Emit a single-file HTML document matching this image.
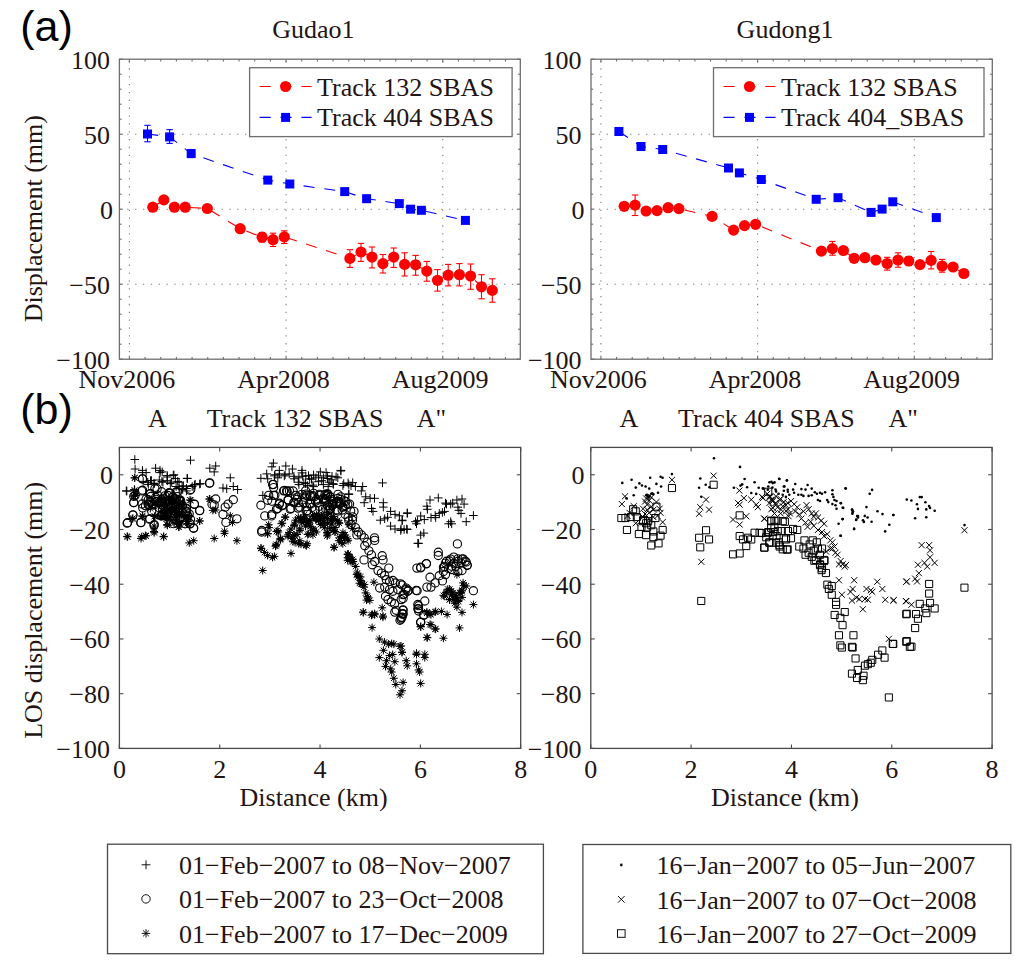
<!DOCTYPE html>
<html><head><meta charset="utf-8"><title>Figure</title>
<style>html,body{margin:0;padding:0;background:#fff;overflow:hidden;}svg{display:block;}</style>
</head><body>
<svg width="1024" height="967" viewBox="0 0 1024 967"><rect width="1024" height="967" fill="#fff"/><line x1="129.40" y1="359.20" x2="129.40" y2="59.20" stroke="#808080" stroke-width="1.1" stroke-dasharray="1.3 6.55" stroke-dashoffset="0.9"/><line x1="286.08" y1="359.20" x2="286.08" y2="59.20" stroke="#808080" stroke-width="1.1" stroke-dasharray="1.3 6.55" stroke-dashoffset="0.9"/><line x1="442.76" y1="359.20" x2="442.76" y2="59.20" stroke="#808080" stroke-width="1.1" stroke-dasharray="1.3 6.55" stroke-dashoffset="0.9"/><line x1="119.40" y1="134.20" x2="520.30" y2="134.20" stroke="#808080" stroke-width="1.1" stroke-dasharray="1.3 6.55"/><line x1="119.40" y1="209.20" x2="520.30" y2="209.20" stroke="#808080" stroke-width="1.1" stroke-dasharray="1.3 6.55"/><line x1="119.40" y1="284.20" x2="520.30" y2="284.20" stroke="#808080" stroke-width="1.1" stroke-dasharray="1.3 6.55"/><line x1="129.40" y1="59.20" x2="129.40" y2="62.70" stroke="#6e6e6e" stroke-width="1.1"/><line x1="129.40" y1="359.20" x2="129.40" y2="355.70" stroke="#6e6e6e" stroke-width="1.1"/><line x1="145.07" y1="59.20" x2="145.07" y2="61.40" stroke="#6e6e6e" stroke-width="1.1"/><line x1="145.07" y1="359.20" x2="145.07" y2="357.00" stroke="#6e6e6e" stroke-width="1.1"/><line x1="160.74" y1="59.20" x2="160.74" y2="61.40" stroke="#6e6e6e" stroke-width="1.1"/><line x1="160.74" y1="359.20" x2="160.74" y2="357.00" stroke="#6e6e6e" stroke-width="1.1"/><line x1="176.40" y1="59.20" x2="176.40" y2="61.40" stroke="#6e6e6e" stroke-width="1.1"/><line x1="176.40" y1="359.20" x2="176.40" y2="357.00" stroke="#6e6e6e" stroke-width="1.1"/><line x1="192.07" y1="59.20" x2="192.07" y2="61.40" stroke="#6e6e6e" stroke-width="1.1"/><line x1="192.07" y1="359.20" x2="192.07" y2="357.00" stroke="#6e6e6e" stroke-width="1.1"/><line x1="207.74" y1="59.20" x2="207.74" y2="61.40" stroke="#6e6e6e" stroke-width="1.1"/><line x1="207.74" y1="359.20" x2="207.74" y2="357.00" stroke="#6e6e6e" stroke-width="1.1"/><line x1="223.41" y1="59.20" x2="223.41" y2="61.40" stroke="#6e6e6e" stroke-width="1.1"/><line x1="223.41" y1="359.20" x2="223.41" y2="357.00" stroke="#6e6e6e" stroke-width="1.1"/><line x1="239.08" y1="59.20" x2="239.08" y2="61.40" stroke="#6e6e6e" stroke-width="1.1"/><line x1="239.08" y1="359.20" x2="239.08" y2="357.00" stroke="#6e6e6e" stroke-width="1.1"/><line x1="254.74" y1="59.20" x2="254.74" y2="61.40" stroke="#6e6e6e" stroke-width="1.1"/><line x1="254.74" y1="359.20" x2="254.74" y2="357.00" stroke="#6e6e6e" stroke-width="1.1"/><line x1="270.41" y1="59.20" x2="270.41" y2="61.40" stroke="#6e6e6e" stroke-width="1.1"/><line x1="270.41" y1="359.20" x2="270.41" y2="357.00" stroke="#6e6e6e" stroke-width="1.1"/><line x1="286.08" y1="59.20" x2="286.08" y2="62.70" stroke="#6e6e6e" stroke-width="1.1"/><line x1="286.08" y1="359.20" x2="286.08" y2="355.70" stroke="#6e6e6e" stroke-width="1.1"/><line x1="301.75" y1="59.20" x2="301.75" y2="61.40" stroke="#6e6e6e" stroke-width="1.1"/><line x1="301.75" y1="359.20" x2="301.75" y2="357.00" stroke="#6e6e6e" stroke-width="1.1"/><line x1="317.42" y1="59.20" x2="317.42" y2="61.40" stroke="#6e6e6e" stroke-width="1.1"/><line x1="317.42" y1="359.20" x2="317.42" y2="357.00" stroke="#6e6e6e" stroke-width="1.1"/><line x1="333.08" y1="59.20" x2="333.08" y2="61.40" stroke="#6e6e6e" stroke-width="1.1"/><line x1="333.08" y1="359.20" x2="333.08" y2="357.00" stroke="#6e6e6e" stroke-width="1.1"/><line x1="348.75" y1="59.20" x2="348.75" y2="61.40" stroke="#6e6e6e" stroke-width="1.1"/><line x1="348.75" y1="359.20" x2="348.75" y2="357.00" stroke="#6e6e6e" stroke-width="1.1"/><line x1="364.42" y1="59.20" x2="364.42" y2="61.40" stroke="#6e6e6e" stroke-width="1.1"/><line x1="364.42" y1="359.20" x2="364.42" y2="357.00" stroke="#6e6e6e" stroke-width="1.1"/><line x1="380.09" y1="59.20" x2="380.09" y2="61.40" stroke="#6e6e6e" stroke-width="1.1"/><line x1="380.09" y1="359.20" x2="380.09" y2="357.00" stroke="#6e6e6e" stroke-width="1.1"/><line x1="395.76" y1="59.20" x2="395.76" y2="61.40" stroke="#6e6e6e" stroke-width="1.1"/><line x1="395.76" y1="359.20" x2="395.76" y2="357.00" stroke="#6e6e6e" stroke-width="1.1"/><line x1="411.42" y1="59.20" x2="411.42" y2="61.40" stroke="#6e6e6e" stroke-width="1.1"/><line x1="411.42" y1="359.20" x2="411.42" y2="357.00" stroke="#6e6e6e" stroke-width="1.1"/><line x1="427.09" y1="59.20" x2="427.09" y2="61.40" stroke="#6e6e6e" stroke-width="1.1"/><line x1="427.09" y1="359.20" x2="427.09" y2="357.00" stroke="#6e6e6e" stroke-width="1.1"/><line x1="442.76" y1="59.20" x2="442.76" y2="62.70" stroke="#6e6e6e" stroke-width="1.1"/><line x1="442.76" y1="359.20" x2="442.76" y2="355.70" stroke="#6e6e6e" stroke-width="1.1"/><line x1="458.43" y1="59.20" x2="458.43" y2="61.40" stroke="#6e6e6e" stroke-width="1.1"/><line x1="458.43" y1="359.20" x2="458.43" y2="357.00" stroke="#6e6e6e" stroke-width="1.1"/><line x1="474.10" y1="59.20" x2="474.10" y2="61.40" stroke="#6e6e6e" stroke-width="1.1"/><line x1="474.10" y1="359.20" x2="474.10" y2="357.00" stroke="#6e6e6e" stroke-width="1.1"/><line x1="489.76" y1="59.20" x2="489.76" y2="61.40" stroke="#6e6e6e" stroke-width="1.1"/><line x1="489.76" y1="359.20" x2="489.76" y2="357.00" stroke="#6e6e6e" stroke-width="1.1"/><line x1="505.43" y1="59.20" x2="505.43" y2="61.40" stroke="#6e6e6e" stroke-width="1.1"/><line x1="505.43" y1="359.20" x2="505.43" y2="357.00" stroke="#6e6e6e" stroke-width="1.1"/><line x1="119.40" y1="59.20" x2="122.90" y2="59.20" stroke="#6e6e6e" stroke-width="1.1"/><line x1="520.30" y1="59.20" x2="516.80" y2="59.20" stroke="#6e6e6e" stroke-width="1.1"/><line x1="119.40" y1="74.20" x2="121.60" y2="74.20" stroke="#6e6e6e" stroke-width="1.1"/><line x1="520.30" y1="74.20" x2="518.10" y2="74.20" stroke="#6e6e6e" stroke-width="1.1"/><line x1="119.40" y1="89.20" x2="121.60" y2="89.20" stroke="#6e6e6e" stroke-width="1.1"/><line x1="520.30" y1="89.20" x2="518.10" y2="89.20" stroke="#6e6e6e" stroke-width="1.1"/><line x1="119.40" y1="104.20" x2="121.60" y2="104.20" stroke="#6e6e6e" stroke-width="1.1"/><line x1="520.30" y1="104.20" x2="518.10" y2="104.20" stroke="#6e6e6e" stroke-width="1.1"/><line x1="119.40" y1="119.20" x2="121.60" y2="119.20" stroke="#6e6e6e" stroke-width="1.1"/><line x1="520.30" y1="119.20" x2="518.10" y2="119.20" stroke="#6e6e6e" stroke-width="1.1"/><line x1="119.40" y1="134.20" x2="122.90" y2="134.20" stroke="#6e6e6e" stroke-width="1.1"/><line x1="520.30" y1="134.20" x2="516.80" y2="134.20" stroke="#6e6e6e" stroke-width="1.1"/><line x1="119.40" y1="149.20" x2="121.60" y2="149.20" stroke="#6e6e6e" stroke-width="1.1"/><line x1="520.30" y1="149.20" x2="518.10" y2="149.20" stroke="#6e6e6e" stroke-width="1.1"/><line x1="119.40" y1="164.20" x2="121.60" y2="164.20" stroke="#6e6e6e" stroke-width="1.1"/><line x1="520.30" y1="164.20" x2="518.10" y2="164.20" stroke="#6e6e6e" stroke-width="1.1"/><line x1="119.40" y1="179.20" x2="121.60" y2="179.20" stroke="#6e6e6e" stroke-width="1.1"/><line x1="520.30" y1="179.20" x2="518.10" y2="179.20" stroke="#6e6e6e" stroke-width="1.1"/><line x1="119.40" y1="194.20" x2="121.60" y2="194.20" stroke="#6e6e6e" stroke-width="1.1"/><line x1="520.30" y1="194.20" x2="518.10" y2="194.20" stroke="#6e6e6e" stroke-width="1.1"/><line x1="119.40" y1="209.20" x2="122.90" y2="209.20" stroke="#6e6e6e" stroke-width="1.1"/><line x1="520.30" y1="209.20" x2="516.80" y2="209.20" stroke="#6e6e6e" stroke-width="1.1"/><line x1="119.40" y1="224.20" x2="121.60" y2="224.20" stroke="#6e6e6e" stroke-width="1.1"/><line x1="520.30" y1="224.20" x2="518.10" y2="224.20" stroke="#6e6e6e" stroke-width="1.1"/><line x1="119.40" y1="239.20" x2="121.60" y2="239.20" stroke="#6e6e6e" stroke-width="1.1"/><line x1="520.30" y1="239.20" x2="518.10" y2="239.20" stroke="#6e6e6e" stroke-width="1.1"/><line x1="119.40" y1="254.20" x2="121.60" y2="254.20" stroke="#6e6e6e" stroke-width="1.1"/><line x1="520.30" y1="254.20" x2="518.10" y2="254.20" stroke="#6e6e6e" stroke-width="1.1"/><line x1="119.40" y1="269.20" x2="121.60" y2="269.20" stroke="#6e6e6e" stroke-width="1.1"/><line x1="520.30" y1="269.20" x2="518.10" y2="269.20" stroke="#6e6e6e" stroke-width="1.1"/><line x1="119.40" y1="284.20" x2="122.90" y2="284.20" stroke="#6e6e6e" stroke-width="1.1"/><line x1="520.30" y1="284.20" x2="516.80" y2="284.20" stroke="#6e6e6e" stroke-width="1.1"/><line x1="119.40" y1="299.20" x2="121.60" y2="299.20" stroke="#6e6e6e" stroke-width="1.1"/><line x1="520.30" y1="299.20" x2="518.10" y2="299.20" stroke="#6e6e6e" stroke-width="1.1"/><line x1="119.40" y1="314.20" x2="121.60" y2="314.20" stroke="#6e6e6e" stroke-width="1.1"/><line x1="520.30" y1="314.20" x2="518.10" y2="314.20" stroke="#6e6e6e" stroke-width="1.1"/><line x1="119.40" y1="329.20" x2="121.60" y2="329.20" stroke="#6e6e6e" stroke-width="1.1"/><line x1="520.30" y1="329.20" x2="518.10" y2="329.20" stroke="#6e6e6e" stroke-width="1.1"/><line x1="119.40" y1="344.20" x2="121.60" y2="344.20" stroke="#6e6e6e" stroke-width="1.1"/><line x1="520.30" y1="344.20" x2="518.10" y2="344.20" stroke="#6e6e6e" stroke-width="1.1"/><line x1="119.40" y1="359.20" x2="122.90" y2="359.20" stroke="#6e6e6e" stroke-width="1.1"/><line x1="520.30" y1="359.20" x2="516.80" y2="359.20" stroke="#6e6e6e" stroke-width="1.1"/><rect x="119.40" y="59.20" width="400.90" height="300.00" fill="none" stroke="#6e6e6e" stroke-width="1.3"/><text x="110.00" y="68.50" font-size="26" font-family="'Liberation Serif', serif" fill="#231414" text-anchor="end" >100</text><text x="110.00" y="143.50" font-size="26" font-family="'Liberation Serif', serif" fill="#231414" text-anchor="end" >50</text><text x="113.00" y="218.50" font-size="26" font-family="'Liberation Serif', serif" fill="#231414" text-anchor="end" >0</text><text x="110.00" y="293.50" font-size="26" font-family="'Liberation Serif', serif" fill="#231414" text-anchor="end" >&#8722;50</text><text x="110.00" y="368.50" font-size="26" font-family="'Liberation Serif', serif" fill="#231414" text-anchor="end" >&#8722;100</text><text x="126.80" y="388.40" font-size="26" font-family="'Liberation Serif', serif" fill="#231414" text-anchor="middle" >Nov2006</text><text x="283.48" y="388.40" font-size="26" font-family="'Liberation Serif', serif" fill="#231414" text-anchor="middle" >Apr2008</text><text x="440.16" y="388.40" font-size="26" font-family="'Liberation Serif', serif" fill="#231414" text-anchor="middle" >Aug2009</text><line x1="600.90" y1="359.20" x2="600.90" y2="59.20" stroke="#808080" stroke-width="1.1" stroke-dasharray="1.3 6.55" stroke-dashoffset="0.9"/><line x1="757.58" y1="359.20" x2="757.58" y2="59.20" stroke="#808080" stroke-width="1.1" stroke-dasharray="1.3 6.55" stroke-dashoffset="0.9"/><line x1="914.26" y1="359.20" x2="914.26" y2="59.20" stroke="#808080" stroke-width="1.1" stroke-dasharray="1.3 6.55" stroke-dashoffset="0.9"/><line x1="591.00" y1="134.20" x2="992.30" y2="134.20" stroke="#808080" stroke-width="1.1" stroke-dasharray="1.3 6.55"/><line x1="591.00" y1="209.20" x2="992.30" y2="209.20" stroke="#808080" stroke-width="1.1" stroke-dasharray="1.3 6.55"/><line x1="591.00" y1="284.20" x2="992.30" y2="284.20" stroke="#808080" stroke-width="1.1" stroke-dasharray="1.3 6.55"/><line x1="600.90" y1="59.20" x2="600.90" y2="62.70" stroke="#6e6e6e" stroke-width="1.1"/><line x1="600.90" y1="359.20" x2="600.90" y2="355.70" stroke="#6e6e6e" stroke-width="1.1"/><line x1="616.57" y1="59.20" x2="616.57" y2="61.40" stroke="#6e6e6e" stroke-width="1.1"/><line x1="616.57" y1="359.20" x2="616.57" y2="357.00" stroke="#6e6e6e" stroke-width="1.1"/><line x1="632.24" y1="59.20" x2="632.24" y2="61.40" stroke="#6e6e6e" stroke-width="1.1"/><line x1="632.24" y1="359.20" x2="632.24" y2="357.00" stroke="#6e6e6e" stroke-width="1.1"/><line x1="647.90" y1="59.20" x2="647.90" y2="61.40" stroke="#6e6e6e" stroke-width="1.1"/><line x1="647.90" y1="359.20" x2="647.90" y2="357.00" stroke="#6e6e6e" stroke-width="1.1"/><line x1="663.57" y1="59.20" x2="663.57" y2="61.40" stroke="#6e6e6e" stroke-width="1.1"/><line x1="663.57" y1="359.20" x2="663.57" y2="357.00" stroke="#6e6e6e" stroke-width="1.1"/><line x1="679.24" y1="59.20" x2="679.24" y2="61.40" stroke="#6e6e6e" stroke-width="1.1"/><line x1="679.24" y1="359.20" x2="679.24" y2="357.00" stroke="#6e6e6e" stroke-width="1.1"/><line x1="694.91" y1="59.20" x2="694.91" y2="61.40" stroke="#6e6e6e" stroke-width="1.1"/><line x1="694.91" y1="359.20" x2="694.91" y2="357.00" stroke="#6e6e6e" stroke-width="1.1"/><line x1="710.58" y1="59.20" x2="710.58" y2="61.40" stroke="#6e6e6e" stroke-width="1.1"/><line x1="710.58" y1="359.20" x2="710.58" y2="357.00" stroke="#6e6e6e" stroke-width="1.1"/><line x1="726.24" y1="59.20" x2="726.24" y2="61.40" stroke="#6e6e6e" stroke-width="1.1"/><line x1="726.24" y1="359.20" x2="726.24" y2="357.00" stroke="#6e6e6e" stroke-width="1.1"/><line x1="741.91" y1="59.20" x2="741.91" y2="61.40" stroke="#6e6e6e" stroke-width="1.1"/><line x1="741.91" y1="359.20" x2="741.91" y2="357.00" stroke="#6e6e6e" stroke-width="1.1"/><line x1="757.58" y1="59.20" x2="757.58" y2="62.70" stroke="#6e6e6e" stroke-width="1.1"/><line x1="757.58" y1="359.20" x2="757.58" y2="355.70" stroke="#6e6e6e" stroke-width="1.1"/><line x1="773.25" y1="59.20" x2="773.25" y2="61.40" stroke="#6e6e6e" stroke-width="1.1"/><line x1="773.25" y1="359.20" x2="773.25" y2="357.00" stroke="#6e6e6e" stroke-width="1.1"/><line x1="788.92" y1="59.20" x2="788.92" y2="61.40" stroke="#6e6e6e" stroke-width="1.1"/><line x1="788.92" y1="359.20" x2="788.92" y2="357.00" stroke="#6e6e6e" stroke-width="1.1"/><line x1="804.58" y1="59.20" x2="804.58" y2="61.40" stroke="#6e6e6e" stroke-width="1.1"/><line x1="804.58" y1="359.20" x2="804.58" y2="357.00" stroke="#6e6e6e" stroke-width="1.1"/><line x1="820.25" y1="59.20" x2="820.25" y2="61.40" stroke="#6e6e6e" stroke-width="1.1"/><line x1="820.25" y1="359.20" x2="820.25" y2="357.00" stroke="#6e6e6e" stroke-width="1.1"/><line x1="835.92" y1="59.20" x2="835.92" y2="61.40" stroke="#6e6e6e" stroke-width="1.1"/><line x1="835.92" y1="359.20" x2="835.92" y2="357.00" stroke="#6e6e6e" stroke-width="1.1"/><line x1="851.59" y1="59.20" x2="851.59" y2="61.40" stroke="#6e6e6e" stroke-width="1.1"/><line x1="851.59" y1="359.20" x2="851.59" y2="357.00" stroke="#6e6e6e" stroke-width="1.1"/><line x1="867.26" y1="59.20" x2="867.26" y2="61.40" stroke="#6e6e6e" stroke-width="1.1"/><line x1="867.26" y1="359.20" x2="867.26" y2="357.00" stroke="#6e6e6e" stroke-width="1.1"/><line x1="882.92" y1="59.20" x2="882.92" y2="61.40" stroke="#6e6e6e" stroke-width="1.1"/><line x1="882.92" y1="359.20" x2="882.92" y2="357.00" stroke="#6e6e6e" stroke-width="1.1"/><line x1="898.59" y1="59.20" x2="898.59" y2="61.40" stroke="#6e6e6e" stroke-width="1.1"/><line x1="898.59" y1="359.20" x2="898.59" y2="357.00" stroke="#6e6e6e" stroke-width="1.1"/><line x1="914.26" y1="59.20" x2="914.26" y2="62.70" stroke="#6e6e6e" stroke-width="1.1"/><line x1="914.26" y1="359.20" x2="914.26" y2="355.70" stroke="#6e6e6e" stroke-width="1.1"/><line x1="929.93" y1="59.20" x2="929.93" y2="61.40" stroke="#6e6e6e" stroke-width="1.1"/><line x1="929.93" y1="359.20" x2="929.93" y2="357.00" stroke="#6e6e6e" stroke-width="1.1"/><line x1="945.60" y1="59.20" x2="945.60" y2="61.40" stroke="#6e6e6e" stroke-width="1.1"/><line x1="945.60" y1="359.20" x2="945.60" y2="357.00" stroke="#6e6e6e" stroke-width="1.1"/><line x1="961.26" y1="59.20" x2="961.26" y2="61.40" stroke="#6e6e6e" stroke-width="1.1"/><line x1="961.26" y1="359.20" x2="961.26" y2="357.00" stroke="#6e6e6e" stroke-width="1.1"/><line x1="976.93" y1="59.20" x2="976.93" y2="61.40" stroke="#6e6e6e" stroke-width="1.1"/><line x1="976.93" y1="359.20" x2="976.93" y2="357.00" stroke="#6e6e6e" stroke-width="1.1"/><line x1="591.00" y1="59.20" x2="594.50" y2="59.20" stroke="#6e6e6e" stroke-width="1.1"/><line x1="992.30" y1="59.20" x2="988.80" y2="59.20" stroke="#6e6e6e" stroke-width="1.1"/><line x1="591.00" y1="74.20" x2="593.20" y2="74.20" stroke="#6e6e6e" stroke-width="1.1"/><line x1="992.30" y1="74.20" x2="990.10" y2="74.20" stroke="#6e6e6e" stroke-width="1.1"/><line x1="591.00" y1="89.20" x2="593.20" y2="89.20" stroke="#6e6e6e" stroke-width="1.1"/><line x1="992.30" y1="89.20" x2="990.10" y2="89.20" stroke="#6e6e6e" stroke-width="1.1"/><line x1="591.00" y1="104.20" x2="593.20" y2="104.20" stroke="#6e6e6e" stroke-width="1.1"/><line x1="992.30" y1="104.20" x2="990.10" y2="104.20" stroke="#6e6e6e" stroke-width="1.1"/><line x1="591.00" y1="119.20" x2="593.20" y2="119.20" stroke="#6e6e6e" stroke-width="1.1"/><line x1="992.30" y1="119.20" x2="990.10" y2="119.20" stroke="#6e6e6e" stroke-width="1.1"/><line x1="591.00" y1="134.20" x2="594.50" y2="134.20" stroke="#6e6e6e" stroke-width="1.1"/><line x1="992.30" y1="134.20" x2="988.80" y2="134.20" stroke="#6e6e6e" stroke-width="1.1"/><line x1="591.00" y1="149.20" x2="593.20" y2="149.20" stroke="#6e6e6e" stroke-width="1.1"/><line x1="992.30" y1="149.20" x2="990.10" y2="149.20" stroke="#6e6e6e" stroke-width="1.1"/><line x1="591.00" y1="164.20" x2="593.20" y2="164.20" stroke="#6e6e6e" stroke-width="1.1"/><line x1="992.30" y1="164.20" x2="990.10" y2="164.20" stroke="#6e6e6e" stroke-width="1.1"/><line x1="591.00" y1="179.20" x2="593.20" y2="179.20" stroke="#6e6e6e" stroke-width="1.1"/><line x1="992.30" y1="179.20" x2="990.10" y2="179.20" stroke="#6e6e6e" stroke-width="1.1"/><line x1="591.00" y1="194.20" x2="593.20" y2="194.20" stroke="#6e6e6e" stroke-width="1.1"/><line x1="992.30" y1="194.20" x2="990.10" y2="194.20" stroke="#6e6e6e" stroke-width="1.1"/><line x1="591.00" y1="209.20" x2="594.50" y2="209.20" stroke="#6e6e6e" stroke-width="1.1"/><line x1="992.30" y1="209.20" x2="988.80" y2="209.20" stroke="#6e6e6e" stroke-width="1.1"/><line x1="591.00" y1="224.20" x2="593.20" y2="224.20" stroke="#6e6e6e" stroke-width="1.1"/><line x1="992.30" y1="224.20" x2="990.10" y2="224.20" stroke="#6e6e6e" stroke-width="1.1"/><line x1="591.00" y1="239.20" x2="593.20" y2="239.20" stroke="#6e6e6e" stroke-width="1.1"/><line x1="992.30" y1="239.20" x2="990.10" y2="239.20" stroke="#6e6e6e" stroke-width="1.1"/><line x1="591.00" y1="254.20" x2="593.20" y2="254.20" stroke="#6e6e6e" stroke-width="1.1"/><line x1="992.30" y1="254.20" x2="990.10" y2="254.20" stroke="#6e6e6e" stroke-width="1.1"/><line x1="591.00" y1="269.20" x2="593.20" y2="269.20" stroke="#6e6e6e" stroke-width="1.1"/><line x1="992.30" y1="269.20" x2="990.10" y2="269.20" stroke="#6e6e6e" stroke-width="1.1"/><line x1="591.00" y1="284.20" x2="594.50" y2="284.20" stroke="#6e6e6e" stroke-width="1.1"/><line x1="992.30" y1="284.20" x2="988.80" y2="284.20" stroke="#6e6e6e" stroke-width="1.1"/><line x1="591.00" y1="299.20" x2="593.20" y2="299.20" stroke="#6e6e6e" stroke-width="1.1"/><line x1="992.30" y1="299.20" x2="990.10" y2="299.20" stroke="#6e6e6e" stroke-width="1.1"/><line x1="591.00" y1="314.20" x2="593.20" y2="314.20" stroke="#6e6e6e" stroke-width="1.1"/><line x1="992.30" y1="314.20" x2="990.10" y2="314.20" stroke="#6e6e6e" stroke-width="1.1"/><line x1="591.00" y1="329.20" x2="593.20" y2="329.20" stroke="#6e6e6e" stroke-width="1.1"/><line x1="992.30" y1="329.20" x2="990.10" y2="329.20" stroke="#6e6e6e" stroke-width="1.1"/><line x1="591.00" y1="344.20" x2="593.20" y2="344.20" stroke="#6e6e6e" stroke-width="1.1"/><line x1="992.30" y1="344.20" x2="990.10" y2="344.20" stroke="#6e6e6e" stroke-width="1.1"/><line x1="591.00" y1="359.20" x2="594.50" y2="359.20" stroke="#6e6e6e" stroke-width="1.1"/><line x1="992.30" y1="359.20" x2="988.80" y2="359.20" stroke="#6e6e6e" stroke-width="1.1"/><rect x="591.00" y="59.20" width="401.30" height="300.00" fill="none" stroke="#6e6e6e" stroke-width="1.3"/><text x="581.60" y="68.50" font-size="26" font-family="'Liberation Serif', serif" fill="#231414" text-anchor="end" >100</text><text x="581.60" y="143.50" font-size="26" font-family="'Liberation Serif', serif" fill="#231414" text-anchor="end" >50</text><text x="584.60" y="218.50" font-size="26" font-family="'Liberation Serif', serif" fill="#231414" text-anchor="end" >0</text><text x="581.60" y="293.50" font-size="26" font-family="'Liberation Serif', serif" fill="#231414" text-anchor="end" >&#8722;50</text><text x="581.60" y="368.50" font-size="26" font-family="'Liberation Serif', serif" fill="#231414" text-anchor="end" >&#8722;100</text><text x="598.30" y="388.40" font-size="26" font-family="'Liberation Serif', serif" fill="#231414" text-anchor="middle" >Nov2006</text><text x="754.98" y="388.40" font-size="26" font-family="'Liberation Serif', serif" fill="#231414" text-anchor="middle" >Apr2008</text><text x="911.66" y="388.40" font-size="26" font-family="'Liberation Serif', serif" fill="#231414" text-anchor="middle" >Aug2009</text><path d="M147.50,134.00 L169.60,136.90 L191.20,153.60 L267.80,180.10 L289.80,184.00 L344.70,191.60 L366.60,198.70 L399.30,203.60 L410.60,209.20 L421.40,210.30 L465.40,220.40" fill="none" stroke="#0000ff" stroke-width="1.1" stroke-dasharray="11.1 9.8" stroke-dashoffset="0.3"/><line x1="147.50" y1="125.30" x2="147.50" y2="141.80" stroke="#0000ff" stroke-width="1.1"/><line x1="144.30" y1="125.30" x2="150.70" y2="125.30" stroke="#0000ff" stroke-width="1.1"/><line x1="144.30" y1="141.80" x2="150.70" y2="141.80" stroke="#0000ff" stroke-width="1.1"/><line x1="169.60" y1="129.60" x2="169.60" y2="143.40" stroke="#0000ff" stroke-width="1.1"/><line x1="166.40" y1="129.60" x2="172.80" y2="129.60" stroke="#0000ff" stroke-width="1.1"/><line x1="166.40" y1="143.40" x2="172.80" y2="143.40" stroke="#0000ff" stroke-width="1.1"/><line x1="191.20" y1="149.50" x2="191.20" y2="157.50" stroke="#0000ff" stroke-width="1.1"/><line x1="188.00" y1="149.50" x2="194.40" y2="149.50" stroke="#0000ff" stroke-width="1.1"/><line x1="188.00" y1="157.50" x2="194.40" y2="157.50" stroke="#0000ff" stroke-width="1.1"/><line x1="267.80" y1="176.50" x2="267.80" y2="183.50" stroke="#0000ff" stroke-width="1.1"/><line x1="264.60" y1="176.50" x2="271.00" y2="176.50" stroke="#0000ff" stroke-width="1.1"/><line x1="264.60" y1="183.50" x2="271.00" y2="183.50" stroke="#0000ff" stroke-width="1.1"/><rect x="143.00" y="129.50" width="9" height="9" fill="#0000ff"/><rect x="165.10" y="132.40" width="9" height="9" fill="#0000ff"/><rect x="186.70" y="149.10" width="9" height="9" fill="#0000ff"/><rect x="263.30" y="175.60" width="9" height="9" fill="#0000ff"/><rect x="285.30" y="179.50" width="9" height="9" fill="#0000ff"/><rect x="340.20" y="187.10" width="9" height="9" fill="#0000ff"/><rect x="362.10" y="194.20" width="9" height="9" fill="#0000ff"/><rect x="394.80" y="199.10" width="9" height="9" fill="#0000ff"/><rect x="406.10" y="204.70" width="9" height="9" fill="#0000ff"/><rect x="416.90" y="205.80" width="9" height="9" fill="#0000ff"/><rect x="460.90" y="215.90" width="9" height="9" fill="#0000ff"/><path d="M152.80,207.20 L163.80,199.90 L174.40,207.20 L185.20,207.20 L207.30,208.50 L240.20,228.70 L262.10,237.20 L273.00,239.70 L284.30,236.90 L349.90,258.40 L361.00,252.00 L372.00,257.10 L382.90,263.60 L393.70,257.10 L404.60,264.40 L415.60,264.80 L426.80,271.10 L437.50,280.30 L448.20,275.20 L459.40,274.70 L470.60,276.00 L481.50,286.80 L492.30,290.40" fill="none" stroke="#ff0000" stroke-width="1.1" stroke-dasharray="11.1 9.8" stroke-dashoffset="0.3"/><line x1="262.10" y1="232.50" x2="262.10" y2="242.00" stroke="#ff0000" stroke-width="1.1"/><line x1="258.90" y1="232.50" x2="265.30" y2="232.50" stroke="#ff0000" stroke-width="1.1"/><line x1="258.90" y1="242.00" x2="265.30" y2="242.00" stroke="#ff0000" stroke-width="1.1"/><line x1="273.00" y1="233.20" x2="273.00" y2="246.50" stroke="#ff0000" stroke-width="1.1"/><line x1="269.80" y1="233.20" x2="276.20" y2="233.20" stroke="#ff0000" stroke-width="1.1"/><line x1="269.80" y1="246.50" x2="276.20" y2="246.50" stroke="#ff0000" stroke-width="1.1"/><line x1="284.30" y1="230.80" x2="284.30" y2="243.50" stroke="#ff0000" stroke-width="1.1"/><line x1="281.10" y1="230.80" x2="287.50" y2="230.80" stroke="#ff0000" stroke-width="1.1"/><line x1="281.10" y1="243.50" x2="287.50" y2="243.50" stroke="#ff0000" stroke-width="1.1"/><line x1="349.90" y1="249.70" x2="349.90" y2="267.40" stroke="#ff0000" stroke-width="1.1"/><line x1="346.70" y1="249.70" x2="353.10" y2="249.70" stroke="#ff0000" stroke-width="1.1"/><line x1="346.70" y1="267.40" x2="353.10" y2="267.40" stroke="#ff0000" stroke-width="1.1"/><line x1="361.00" y1="243.40" x2="361.00" y2="261.40" stroke="#ff0000" stroke-width="1.1"/><line x1="357.80" y1="243.40" x2="364.20" y2="243.40" stroke="#ff0000" stroke-width="1.1"/><line x1="357.80" y1="261.40" x2="364.20" y2="261.40" stroke="#ff0000" stroke-width="1.1"/><line x1="372.00" y1="247.00" x2="372.00" y2="267.90" stroke="#ff0000" stroke-width="1.1"/><line x1="368.80" y1="247.00" x2="375.20" y2="247.00" stroke="#ff0000" stroke-width="1.1"/><line x1="368.80" y1="267.90" x2="375.20" y2="267.90" stroke="#ff0000" stroke-width="1.1"/><line x1="382.90" y1="254.50" x2="382.90" y2="273.00" stroke="#ff0000" stroke-width="1.1"/><line x1="379.70" y1="254.50" x2="386.10" y2="254.50" stroke="#ff0000" stroke-width="1.1"/><line x1="379.70" y1="273.00" x2="386.10" y2="273.00" stroke="#ff0000" stroke-width="1.1"/><line x1="393.70" y1="248.00" x2="393.70" y2="267.40" stroke="#ff0000" stroke-width="1.1"/><line x1="390.50" y1="248.00" x2="396.90" y2="248.00" stroke="#ff0000" stroke-width="1.1"/><line x1="390.50" y1="267.40" x2="396.90" y2="267.40" stroke="#ff0000" stroke-width="1.1"/><line x1="404.60" y1="252.80" x2="404.60" y2="276.00" stroke="#ff0000" stroke-width="1.1"/><line x1="401.40" y1="252.80" x2="407.80" y2="252.80" stroke="#ff0000" stroke-width="1.1"/><line x1="401.40" y1="276.00" x2="407.80" y2="276.00" stroke="#ff0000" stroke-width="1.1"/><line x1="415.60" y1="255.40" x2="415.60" y2="275.20" stroke="#ff0000" stroke-width="1.1"/><line x1="412.40" y1="255.40" x2="418.80" y2="255.40" stroke="#ff0000" stroke-width="1.1"/><line x1="412.40" y1="275.20" x2="418.80" y2="275.20" stroke="#ff0000" stroke-width="1.1"/><line x1="426.80" y1="261.40" x2="426.80" y2="281.20" stroke="#ff0000" stroke-width="1.1"/><line x1="423.60" y1="261.40" x2="430.00" y2="261.40" stroke="#ff0000" stroke-width="1.1"/><line x1="423.60" y1="281.20" x2="430.00" y2="281.20" stroke="#ff0000" stroke-width="1.1"/><line x1="437.50" y1="269.60" x2="437.50" y2="291.10" stroke="#ff0000" stroke-width="1.1"/><line x1="434.30" y1="269.60" x2="440.70" y2="269.60" stroke="#ff0000" stroke-width="1.1"/><line x1="434.30" y1="291.10" x2="440.70" y2="291.10" stroke="#ff0000" stroke-width="1.1"/><line x1="448.20" y1="264.40" x2="448.20" y2="285.90" stroke="#ff0000" stroke-width="1.1"/><line x1="445.00" y1="264.40" x2="451.40" y2="264.40" stroke="#ff0000" stroke-width="1.1"/><line x1="445.00" y1="285.90" x2="451.40" y2="285.90" stroke="#ff0000" stroke-width="1.1"/><line x1="459.40" y1="263.60" x2="459.40" y2="285.90" stroke="#ff0000" stroke-width="1.1"/><line x1="456.20" y1="263.60" x2="462.60" y2="263.60" stroke="#ff0000" stroke-width="1.1"/><line x1="456.20" y1="285.90" x2="462.60" y2="285.90" stroke="#ff0000" stroke-width="1.1"/><line x1="470.60" y1="264.00" x2="470.60" y2="289.30" stroke="#ff0000" stroke-width="1.1"/><line x1="467.40" y1="264.00" x2="473.80" y2="264.00" stroke="#ff0000" stroke-width="1.1"/><line x1="467.40" y1="289.30" x2="473.80" y2="289.30" stroke="#ff0000" stroke-width="1.1"/><line x1="481.50" y1="274.70" x2="481.50" y2="298.80" stroke="#ff0000" stroke-width="1.1"/><line x1="478.30" y1="274.70" x2="484.70" y2="274.70" stroke="#ff0000" stroke-width="1.1"/><line x1="478.30" y1="298.80" x2="484.70" y2="298.80" stroke="#ff0000" stroke-width="1.1"/><line x1="492.30" y1="278.80" x2="492.30" y2="302.20" stroke="#ff0000" stroke-width="1.1"/><line x1="489.10" y1="278.80" x2="495.50" y2="278.80" stroke="#ff0000" stroke-width="1.1"/><line x1="489.10" y1="302.20" x2="495.50" y2="302.20" stroke="#ff0000" stroke-width="1.1"/><circle cx="152.80" cy="207.20" r="5.6" fill="#ff0000"/><circle cx="163.80" cy="199.90" r="5.6" fill="#ff0000"/><circle cx="174.40" cy="207.20" r="5.6" fill="#ff0000"/><circle cx="185.20" cy="207.20" r="5.6" fill="#ff0000"/><circle cx="207.30" cy="208.50" r="5.6" fill="#ff0000"/><circle cx="240.20" cy="228.70" r="5.6" fill="#ff0000"/><circle cx="262.10" cy="237.20" r="5.6" fill="#ff0000"/><circle cx="273.00" cy="239.70" r="5.6" fill="#ff0000"/><circle cx="284.30" cy="236.90" r="5.6" fill="#ff0000"/><circle cx="349.90" cy="258.40" r="5.6" fill="#ff0000"/><circle cx="361.00" cy="252.00" r="5.6" fill="#ff0000"/><circle cx="372.00" cy="257.10" r="5.6" fill="#ff0000"/><circle cx="382.90" cy="263.60" r="5.6" fill="#ff0000"/><circle cx="393.70" cy="257.10" r="5.6" fill="#ff0000"/><circle cx="404.60" cy="264.40" r="5.6" fill="#ff0000"/><circle cx="415.60" cy="264.80" r="5.6" fill="#ff0000"/><circle cx="426.80" cy="271.10" r="5.6" fill="#ff0000"/><circle cx="437.50" cy="280.30" r="5.6" fill="#ff0000"/><circle cx="448.20" cy="275.20" r="5.6" fill="#ff0000"/><circle cx="459.40" cy="274.70" r="5.6" fill="#ff0000"/><circle cx="470.60" cy="276.00" r="5.6" fill="#ff0000"/><circle cx="481.50" cy="286.80" r="5.6" fill="#ff0000"/><circle cx="492.30" cy="290.40" r="5.6" fill="#ff0000"/><path d="M618.90,131.50 L641.00,146.50 L662.70,149.50 L728.50,168.00 L739.40,172.90 L761.30,179.50 L816.20,199.30 L838.00,197.70 L871.10,212.40 L882.10,209.10 L892.80,201.80 L936.30,217.60" fill="none" stroke="#0000ff" stroke-width="1.1" stroke-dasharray="11.1 9.8" stroke-dashoffset="0.3"/><rect x="614.40" y="127.00" width="9" height="9" fill="#0000ff"/><rect x="636.50" y="142.00" width="9" height="9" fill="#0000ff"/><rect x="658.20" y="145.00" width="9" height="9" fill="#0000ff"/><rect x="724.00" y="163.50" width="9" height="9" fill="#0000ff"/><rect x="734.90" y="168.40" width="9" height="9" fill="#0000ff"/><rect x="756.80" y="175.00" width="9" height="9" fill="#0000ff"/><rect x="811.70" y="194.80" width="9" height="9" fill="#0000ff"/><rect x="833.50" y="193.20" width="9" height="9" fill="#0000ff"/><rect x="866.60" y="207.90" width="9" height="9" fill="#0000ff"/><rect x="877.60" y="204.60" width="9" height="9" fill="#0000ff"/><rect x="888.30" y="197.30" width="9" height="9" fill="#0000ff"/><rect x="931.80" y="213.10" width="9" height="9" fill="#0000ff"/><path d="M624.20,206.30 L635.10,205.10 L646.10,211.00 L657.00,210.60 L668.10,207.70 L678.90,208.60 L712.10,216.40 L733.60,230.10 L744.50,225.60 L755.60,224.30 L821.40,251.10 L832.40,248.60 L843.40,250.50 L854.10,258.30 L864.90,257.70 L875.90,260.00 L887.20,263.50 L898.00,260.00 L908.80,261.00 L920.00,264.60 L931.10,260.40 L942.10,266.00 L953.10,267.00 L963.90,273.50" fill="none" stroke="#ff0000" stroke-width="1.1" stroke-dasharray="11.1 9.8" stroke-dashoffset="0.3"/><line x1="635.10" y1="195.00" x2="635.10" y2="215.50" stroke="#ff0000" stroke-width="1.1"/><line x1="631.90" y1="195.00" x2="638.30" y2="195.00" stroke="#ff0000" stroke-width="1.1"/><line x1="631.90" y1="215.50" x2="638.30" y2="215.50" stroke="#ff0000" stroke-width="1.1"/><line x1="832.40" y1="241.40" x2="832.40" y2="255.20" stroke="#ff0000" stroke-width="1.1"/><line x1="829.20" y1="241.40" x2="835.60" y2="241.40" stroke="#ff0000" stroke-width="1.1"/><line x1="829.20" y1="255.20" x2="835.60" y2="255.20" stroke="#ff0000" stroke-width="1.1"/><line x1="887.20" y1="257.30" x2="887.20" y2="270.10" stroke="#ff0000" stroke-width="1.1"/><line x1="884.00" y1="257.30" x2="890.40" y2="257.30" stroke="#ff0000" stroke-width="1.1"/><line x1="884.00" y1="270.10" x2="890.40" y2="270.10" stroke="#ff0000" stroke-width="1.1"/><line x1="898.00" y1="252.80" x2="898.00" y2="267.20" stroke="#ff0000" stroke-width="1.1"/><line x1="894.80" y1="252.80" x2="901.20" y2="252.80" stroke="#ff0000" stroke-width="1.1"/><line x1="894.80" y1="267.20" x2="901.20" y2="267.20" stroke="#ff0000" stroke-width="1.1"/><line x1="908.80" y1="256.50" x2="908.80" y2="265.50" stroke="#ff0000" stroke-width="1.1"/><line x1="905.60" y1="256.50" x2="912.00" y2="256.50" stroke="#ff0000" stroke-width="1.1"/><line x1="905.60" y1="265.50" x2="912.00" y2="265.50" stroke="#ff0000" stroke-width="1.1"/><line x1="931.10" y1="251.50" x2="931.10" y2="268.90" stroke="#ff0000" stroke-width="1.1"/><line x1="927.90" y1="251.50" x2="934.30" y2="251.50" stroke="#ff0000" stroke-width="1.1"/><line x1="927.90" y1="268.90" x2="934.30" y2="268.90" stroke="#ff0000" stroke-width="1.1"/><line x1="942.10" y1="259.40" x2="942.10" y2="272.20" stroke="#ff0000" stroke-width="1.1"/><line x1="938.90" y1="259.40" x2="945.30" y2="259.40" stroke="#ff0000" stroke-width="1.1"/><line x1="938.90" y1="272.20" x2="945.30" y2="272.20" stroke="#ff0000" stroke-width="1.1"/><line x1="963.90" y1="269.50" x2="963.90" y2="277.50" stroke="#ff0000" stroke-width="1.1"/><line x1="960.70" y1="269.50" x2="967.10" y2="269.50" stroke="#ff0000" stroke-width="1.1"/><line x1="960.70" y1="277.50" x2="967.10" y2="277.50" stroke="#ff0000" stroke-width="1.1"/><circle cx="624.20" cy="206.30" r="5.6" fill="#ff0000"/><circle cx="635.10" cy="205.10" r="5.6" fill="#ff0000"/><circle cx="646.10" cy="211.00" r="5.6" fill="#ff0000"/><circle cx="657.00" cy="210.60" r="5.6" fill="#ff0000"/><circle cx="668.10" cy="207.70" r="5.6" fill="#ff0000"/><circle cx="678.90" cy="208.60" r="5.6" fill="#ff0000"/><circle cx="712.10" cy="216.40" r="5.6" fill="#ff0000"/><circle cx="733.60" cy="230.10" r="5.6" fill="#ff0000"/><circle cx="744.50" cy="225.60" r="5.6" fill="#ff0000"/><circle cx="755.60" cy="224.30" r="5.6" fill="#ff0000"/><circle cx="821.40" cy="251.10" r="5.6" fill="#ff0000"/><circle cx="832.40" cy="248.60" r="5.6" fill="#ff0000"/><circle cx="843.40" cy="250.50" r="5.6" fill="#ff0000"/><circle cx="854.10" cy="258.30" r="5.6" fill="#ff0000"/><circle cx="864.90" cy="257.70" r="5.6" fill="#ff0000"/><circle cx="875.90" cy="260.00" r="5.6" fill="#ff0000"/><circle cx="887.20" cy="263.50" r="5.6" fill="#ff0000"/><circle cx="898.00" cy="260.00" r="5.6" fill="#ff0000"/><circle cx="908.80" cy="261.00" r="5.6" fill="#ff0000"/><circle cx="920.00" cy="264.60" r="5.6" fill="#ff0000"/><circle cx="931.10" cy="260.40" r="5.6" fill="#ff0000"/><circle cx="942.10" cy="266.00" r="5.6" fill="#ff0000"/><circle cx="953.10" cy="267.00" r="5.6" fill="#ff0000"/><circle cx="963.90" cy="273.50" r="5.6" fill="#ff0000"/><rect x="249.60" y="67.70" width="262.50" height="68.90" fill="#fff" stroke="#6e6e6e" stroke-width="1.3"/><line x1="259.60" y1="86.5" x2="311.60" y2="86.5" stroke="#ff0000" stroke-width="1.1" stroke-dasharray="11.1 9.8"/><circle cx="285.60" cy="86.50" r="5.6" fill="#ff0000"/><text x="317.10" y="95.50" font-size="26" font-family="'Liberation Serif', serif" fill="#231414" text-anchor="start" >Track 132 SBAS</text><line x1="259.60" y1="117.4" x2="311.60" y2="117.4" stroke="#0000ff" stroke-width="1.1" stroke-dasharray="11.1 9.8"/><rect x="281.10" y="112.90" width="9" height="9" fill="#0000ff"/><text x="317.10" y="126.40" font-size="26" font-family="'Liberation Serif', serif" fill="#231414" text-anchor="start" >Track 404 SBAS</text><rect x="713.50" y="67.70" width="270.50" height="68.90" fill="#fff" stroke="#6e6e6e" stroke-width="1.3"/><line x1="723.50" y1="86.5" x2="775.50" y2="86.5" stroke="#ff0000" stroke-width="1.1" stroke-dasharray="11.1 9.8"/><circle cx="749.50" cy="86.50" r="5.6" fill="#ff0000"/><text x="781.00" y="95.50" font-size="26" font-family="'Liberation Serif', serif" fill="#231414" text-anchor="start" >Track 132 SBAS</text><line x1="723.50" y1="117.4" x2="775.50" y2="117.4" stroke="#0000ff" stroke-width="1.1" stroke-dasharray="11.1 9.8"/><rect x="745.00" y="112.90" width="9" height="9" fill="#0000ff"/><text x="781.00" y="126.40" font-size="26" font-family="'Liberation Serif', serif" fill="#231414" text-anchor="start" >Track 404_SBAS</text><text x="313.30" y="38.40" font-size="26" font-family="'Liberation Serif', serif" fill="#231414" text-anchor="middle" >Gudao1</text><text x="785.00" y="38.40" font-size="26" font-family="'Liberation Serif', serif" fill="#231414" text-anchor="middle" >Gudong1</text><text x="46.50" y="41.20" font-size="43" font-family="'Liberation Sans', sans-serif" fill="#000" text-anchor="middle" >(a)</text><text x="46.50" y="424.00" font-size="43" font-family="'Liberation Sans', sans-serif" fill="#000" text-anchor="middle" >(b)</text><text transform="translate(42,218.7) rotate(-90)" font-size="26" font-family="'Liberation Serif', serif" fill="#231414" text-anchor="middle">Displacement (mm)</text><line x1="119.40" y1="447.40" x2="119.40" y2="451.40" stroke="#4a4a4a" stroke-width="1.1"/><line x1="119.40" y1="748.40" x2="119.40" y2="744.40" stroke="#4a4a4a" stroke-width="1.1"/><text x="119.40" y="777.60" font-size="26" font-family="'Liberation Serif', serif" fill="#231414" text-anchor="middle" >0</text><line x1="219.73" y1="447.40" x2="219.73" y2="451.40" stroke="#4a4a4a" stroke-width="1.1"/><line x1="219.73" y1="748.40" x2="219.73" y2="744.40" stroke="#4a4a4a" stroke-width="1.1"/><text x="219.73" y="777.60" font-size="26" font-family="'Liberation Serif', serif" fill="#231414" text-anchor="middle" >2</text><line x1="320.05" y1="447.40" x2="320.05" y2="451.40" stroke="#4a4a4a" stroke-width="1.1"/><line x1="320.05" y1="748.40" x2="320.05" y2="744.40" stroke="#4a4a4a" stroke-width="1.1"/><text x="320.05" y="777.60" font-size="26" font-family="'Liberation Serif', serif" fill="#231414" text-anchor="middle" >4</text><line x1="420.38" y1="447.40" x2="420.38" y2="451.40" stroke="#4a4a4a" stroke-width="1.1"/><line x1="420.38" y1="748.40" x2="420.38" y2="744.40" stroke="#4a4a4a" stroke-width="1.1"/><text x="420.38" y="777.60" font-size="26" font-family="'Liberation Serif', serif" fill="#231414" text-anchor="middle" >6</text><line x1="520.70" y1="447.40" x2="520.70" y2="451.40" stroke="#4a4a4a" stroke-width="1.1"/><line x1="520.70" y1="748.40" x2="520.70" y2="744.40" stroke="#4a4a4a" stroke-width="1.1"/><text x="520.70" y="777.60" font-size="26" font-family="'Liberation Serif', serif" fill="#231414" text-anchor="middle" >8</text><line x1="119.40" y1="474.76" x2="123.40" y2="474.76" stroke="#4a4a4a" stroke-width="1.1"/><line x1="520.70" y1="474.76" x2="516.70" y2="474.76" stroke="#4a4a4a" stroke-width="1.1"/><text x="113.00" y="483.76" font-size="26" font-family="'Liberation Serif', serif" fill="#231414" text-anchor="end" >0</text><line x1="119.40" y1="529.49" x2="123.40" y2="529.49" stroke="#4a4a4a" stroke-width="1.1"/><line x1="520.70" y1="529.49" x2="516.70" y2="529.49" stroke="#4a4a4a" stroke-width="1.1"/><text x="110.00" y="538.79" font-size="26" font-family="'Liberation Serif', serif" fill="#231414" text-anchor="end" >&#8722;20</text><line x1="119.40" y1="584.22" x2="123.40" y2="584.22" stroke="#4a4a4a" stroke-width="1.1"/><line x1="520.70" y1="584.22" x2="516.70" y2="584.22" stroke="#4a4a4a" stroke-width="1.1"/><text x="110.00" y="593.52" font-size="26" font-family="'Liberation Serif', serif" fill="#231414" text-anchor="end" >&#8722;40</text><line x1="119.40" y1="638.95" x2="123.40" y2="638.95" stroke="#4a4a4a" stroke-width="1.1"/><line x1="520.70" y1="638.95" x2="516.70" y2="638.95" stroke="#4a4a4a" stroke-width="1.1"/><text x="110.00" y="648.25" font-size="26" font-family="'Liberation Serif', serif" fill="#231414" text-anchor="end" >&#8722;60</text><line x1="119.40" y1="693.67" x2="123.40" y2="693.67" stroke="#4a4a4a" stroke-width="1.1"/><line x1="520.70" y1="693.67" x2="516.70" y2="693.67" stroke="#4a4a4a" stroke-width="1.1"/><text x="110.00" y="702.97" font-size="26" font-family="'Liberation Serif', serif" fill="#231414" text-anchor="end" >&#8722;80</text><line x1="119.40" y1="748.40" x2="123.40" y2="748.40" stroke="#4a4a4a" stroke-width="1.1"/><line x1="520.70" y1="748.40" x2="516.70" y2="748.40" stroke="#4a4a4a" stroke-width="1.1"/><text x="110.00" y="757.70" font-size="26" font-family="'Liberation Serif', serif" fill="#231414" text-anchor="end" >&#8722;100</text><rect x="119.40" y="447.40" width="401.30" height="301.00" fill="none" stroke="#4a4a4a" stroke-width="1.3"/><line x1="590.80" y1="447.40" x2="590.80" y2="451.40" stroke="#4a4a4a" stroke-width="1.1"/><line x1="590.80" y1="748.40" x2="590.80" y2="744.40" stroke="#4a4a4a" stroke-width="1.1"/><text x="590.80" y="777.60" font-size="26" font-family="'Liberation Serif', serif" fill="#231414" text-anchor="middle" >0</text><line x1="691.12" y1="447.40" x2="691.12" y2="451.40" stroke="#4a4a4a" stroke-width="1.1"/><line x1="691.12" y1="748.40" x2="691.12" y2="744.40" stroke="#4a4a4a" stroke-width="1.1"/><text x="691.12" y="777.60" font-size="26" font-family="'Liberation Serif', serif" fill="#231414" text-anchor="middle" >2</text><line x1="791.45" y1="447.40" x2="791.45" y2="451.40" stroke="#4a4a4a" stroke-width="1.1"/><line x1="791.45" y1="748.40" x2="791.45" y2="744.40" stroke="#4a4a4a" stroke-width="1.1"/><text x="791.45" y="777.60" font-size="26" font-family="'Liberation Serif', serif" fill="#231414" text-anchor="middle" >4</text><line x1="891.77" y1="447.40" x2="891.77" y2="451.40" stroke="#4a4a4a" stroke-width="1.1"/><line x1="891.77" y1="748.40" x2="891.77" y2="744.40" stroke="#4a4a4a" stroke-width="1.1"/><text x="891.77" y="777.60" font-size="26" font-family="'Liberation Serif', serif" fill="#231414" text-anchor="middle" >6</text><line x1="992.10" y1="447.40" x2="992.10" y2="451.40" stroke="#4a4a4a" stroke-width="1.1"/><line x1="992.10" y1="748.40" x2="992.10" y2="744.40" stroke="#4a4a4a" stroke-width="1.1"/><text x="992.10" y="777.60" font-size="26" font-family="'Liberation Serif', serif" fill="#231414" text-anchor="middle" >8</text><line x1="590.80" y1="474.76" x2="594.80" y2="474.76" stroke="#4a4a4a" stroke-width="1.1"/><line x1="992.10" y1="474.76" x2="988.10" y2="474.76" stroke="#4a4a4a" stroke-width="1.1"/><text x="584.40" y="483.76" font-size="26" font-family="'Liberation Serif', serif" fill="#231414" text-anchor="end" >0</text><line x1="590.80" y1="529.49" x2="594.80" y2="529.49" stroke="#4a4a4a" stroke-width="1.1"/><line x1="992.10" y1="529.49" x2="988.10" y2="529.49" stroke="#4a4a4a" stroke-width="1.1"/><text x="581.40" y="538.79" font-size="26" font-family="'Liberation Serif', serif" fill="#231414" text-anchor="end" >&#8722;20</text><line x1="590.80" y1="584.22" x2="594.80" y2="584.22" stroke="#4a4a4a" stroke-width="1.1"/><line x1="992.10" y1="584.22" x2="988.10" y2="584.22" stroke="#4a4a4a" stroke-width="1.1"/><text x="581.40" y="593.52" font-size="26" font-family="'Liberation Serif', serif" fill="#231414" text-anchor="end" >&#8722;40</text><line x1="590.80" y1="638.95" x2="594.80" y2="638.95" stroke="#4a4a4a" stroke-width="1.1"/><line x1="992.10" y1="638.95" x2="988.10" y2="638.95" stroke="#4a4a4a" stroke-width="1.1"/><text x="581.40" y="648.25" font-size="26" font-family="'Liberation Serif', serif" fill="#231414" text-anchor="end" >&#8722;60</text><line x1="590.80" y1="693.67" x2="594.80" y2="693.67" stroke="#4a4a4a" stroke-width="1.1"/><line x1="992.10" y1="693.67" x2="988.10" y2="693.67" stroke="#4a4a4a" stroke-width="1.1"/><text x="581.40" y="702.97" font-size="26" font-family="'Liberation Serif', serif" fill="#231414" text-anchor="end" >&#8722;80</text><line x1="590.80" y1="748.40" x2="594.80" y2="748.40" stroke="#4a4a4a" stroke-width="1.1"/><line x1="992.10" y1="748.40" x2="988.10" y2="748.40" stroke="#4a4a4a" stroke-width="1.1"/><text x="581.40" y="757.70" font-size="26" font-family="'Liberation Serif', serif" fill="#231414" text-anchor="end" >&#8722;100</text><rect x="590.80" y="447.40" width="401.30" height="301.00" fill="none" stroke="#4a4a4a" stroke-width="1.3"/><text transform="translate(42,610.3) rotate(-90)" font-size="26" font-family="'Liberation Serif', serif" fill="#231414" text-anchor="middle">LOS displacement (mm)</text><text x="313.60" y="805.70" font-size="26" font-family="'Liberation Serif', serif" fill="#231414" text-anchor="middle" >Distance (km)</text><text x="785.00" y="805.70" font-size="26" font-family="'Liberation Serif', serif" fill="#231414" text-anchor="middle" >Distance (km)</text><text x="157.40" y="427.00" font-size="26" font-family="'Liberation Serif', serif" fill="#231414" text-anchor="middle" >A</text><text x="295.00" y="427.00" font-size="26" font-family="'Liberation Serif', serif" fill="#231414" text-anchor="middle" >Track 132 SBAS</text><text x="431.40" y="427.00" font-size="26" font-family="'Liberation Serif', serif" fill="#231414" text-anchor="middle" >A"</text><text x="628.90" y="427.00" font-size="26" font-family="'Liberation Serif', serif" fill="#231414" text-anchor="middle" >A</text><text x="766.40" y="427.00" font-size="26" font-family="'Liberation Serif', serif" fill="#231414" text-anchor="middle" >Track 404 SBAS</text><text x="903.30" y="427.00" font-size="26" font-family="'Liberation Serif', serif" fill="#231414" text-anchor="middle" >A"</text><defs><clipPath id="c3"><rect x="119.4" y="447.4" width="401.3" height="301"/></clipPath><clipPath id="c4"><rect x="590.8" y="447.4" width="401.3" height="301"/></clipPath></defs><g clip-path="url(#c3)"><path d="M130.5,459.5H139.1M134.8,455.2V463.8M186.2,460.2H194.8M190.5,455.9V464.5M130.8,469.0H139.4M135.1,464.7V473.3M138.1,470.4H146.7M142.4,466.1V474.7M141.8,472.6H150.4M146.1,468.3V476.9M151.3,468.2H159.9M155.6,463.9V472.5M155.7,470.4H164.3M160.0,466.1V474.7M157.9,471.9H166.5M162.2,467.6V476.2M163.0,475.6H171.6M167.3,471.3V479.9M169.6,474.8H178.2M173.9,470.5V479.1M171.1,478.5H179.7M175.4,474.2V482.8M182.8,478.5H191.4M187.1,474.2V482.8M174.8,482.2H183.4M179.1,477.9V486.5M179.1,485.8H187.7M183.4,481.5V490.1M190.9,484.4H199.5M195.2,480.1V488.7M196.0,483.6H204.6M200.3,479.3V487.9M122.0,490.9H130.6M126.3,486.6V495.2M130.1,489.5H138.7M134.4,485.2V493.8M146.2,480.7H154.8M150.5,476.4V485.0M149.9,483.6H158.5M154.2,479.3V487.9M155.0,480.0H163.6M159.3,475.7V484.3M158.6,482.2H167.2M162.9,477.9V486.5M166.0,483.6H174.6M170.3,479.3V487.9M174.8,488.7H183.4M179.1,484.4V493.0M178.4,489.5H187.0M182.7,485.2V493.8M205.5,468.2H214.1M209.8,463.9V472.5M211.4,466.0H220.0M215.7,461.7V470.3M209.9,471.9H218.5M214.2,467.6V476.2M226.0,477.8H234.6M230.3,473.5V482.1M218.7,488.0H227.3M223.0,483.7V492.3M222.4,488.7H231.0M226.7,484.4V493.0M229.0,486.5H237.6M233.3,482.2V490.8M233.3,489.5H241.9M237.6,485.2V493.8M138.9,481.4H147.5M143.2,477.1V485.7M144.0,484.4H152.6M148.3,480.1V488.7M163.0,480.7H171.6M167.3,476.4V485.0M167.4,482.2H176.0M171.7,477.9V486.5M171.8,486.5H180.4M176.1,482.2V490.8M182.1,490.9H190.7M186.4,486.6V495.2M187.9,486.5H196.5M192.2,482.2V490.8M269.1,463.1H277.7M273.4,458.8V467.4M267.6,466.8H276.2M271.9,462.5V471.1M275.0,470.4H283.6M279.3,466.1V474.7M281.5,466.0H290.1M285.8,461.7V470.3M288.1,469.0H296.7M292.4,464.7V473.3M280.8,474.8H289.4M285.1,470.5V479.1M289.6,476.3H298.2M293.9,472.0V480.6M297.7,470.4H306.3M302.0,466.1V474.7M298.4,476.3H307.0M302.7,472.0V480.6M304.2,475.6H312.8M308.5,471.3V479.9M307.2,479.2H315.8M311.5,474.9V483.5M316.0,471.9H324.6M320.3,467.6V476.2M321.8,472.6H330.4M326.1,468.3V476.9M323.3,478.5H331.9M327.6,474.2V482.8M327.7,476.3H336.3M332.0,472.0V480.6M333.5,477.8H342.1M337.8,473.5V482.1M336.5,470.4H345.1M340.8,466.1V474.7M317.4,480.7H326.0M321.7,476.4V485.0M311.6,477.8H320.2M315.9,473.5V482.1M270.6,474.8H279.2M274.9,470.5V479.1M273.5,477.8H282.1M277.8,473.5V482.1M294.0,482.2H302.6M298.3,477.9V486.5M301.3,483.6H309.9M305.6,479.3V487.9M308.6,485.1H317.2M312.9,480.8V489.4M324.8,482.2H333.4M329.1,477.9V486.5M329.1,484.4H337.7M333.4,480.1V488.7M339.4,483.6H348.0M343.7,479.3V487.9M343.8,482.9H352.4M348.1,478.6V487.2M346.7,485.8H355.3M351.0,481.5V490.1M351.1,486.5H359.7M355.4,482.2V490.8M357.0,490.9H365.6M361.3,486.6V495.2M358.4,486.5H367.0M362.7,482.2V490.8M361.4,496.8H370.0M365.7,492.5V501.1M365.8,498.3H374.4M370.1,494.0V502.6M370.2,498.3H378.8M374.5,494.0V502.6M359.9,502.7H368.5M364.2,498.4V507.0M367.2,508.5H375.8M371.5,504.2V512.8M368.7,511.4H377.3M373.0,507.1V515.7M379.0,502.7H387.6M383.3,498.4V507.0M379.0,507.1H387.6M383.3,502.8V511.4M378.2,482.9H386.8M382.5,478.6V487.2M386.3,511.4H394.9M390.6,507.1V515.7M390.7,514.4H399.3M395.0,510.1V518.7M395.1,515.8H403.7M399.4,511.5V520.1M403.1,512.9H411.7M407.4,508.6V517.2M398.0,520.2H406.6M402.3,515.9V524.5M376.0,520.2H384.6M380.3,515.9V524.5M380.4,518.8H389.0M384.7,514.5V523.1M383.3,517.3H391.9M387.6,513.0V521.6M386.3,526.1H394.9M390.6,521.8V530.4M390.7,529.0H399.3M395.0,524.7V533.3M396.5,530.5H405.1M400.8,526.2V534.8M402.4,529.0H411.0M406.7,524.7V533.3M344.5,493.9H353.1M348.8,489.6V498.2M411.2,521.7H419.8M415.5,517.4V526.0M402.9,513.4H411.5M407.2,509.1V517.7M397.8,520.7H406.4M402.1,516.4V525.0M396.7,528.9H405.3M401.0,524.6V533.2M399.8,529.5H408.4M404.1,525.2V533.8M402.9,529.5H411.5M407.2,525.2V533.8M412.2,523.8H420.8M416.5,519.5V528.1M413.3,520.7H421.9M417.6,516.4V525.0M416.4,516.0H425.0M420.7,511.7V520.3M420.0,519.6H428.6M424.3,515.3V523.9M422.6,506.2H431.2M426.9,501.9V510.5M423.1,509.3H431.7M427.4,505.0V513.6M425.7,500.0H434.3M430.0,495.7V504.3M434.0,497.9H442.6M438.3,493.6V502.2M426.7,517.6H435.3M431.0,513.3V521.9M430.9,515.5H439.5M435.2,511.2V519.8M431.4,517.6H440.0M435.7,513.3V521.9M435.0,513.4H443.6M439.3,509.1V517.7M438.1,512.4H446.7M442.4,508.1V516.7M440.2,511.4H448.8M444.5,507.1V515.7M441.2,503.1H449.8M445.5,498.8V507.4M442.2,504.1H450.8M446.5,499.8V508.4M446.4,504.1H455.0M450.7,499.8V508.4M448.4,503.1H457.0M452.7,498.8V507.4M452.6,500.0H461.2M456.9,495.7V504.3M457.7,499.0H466.3M462.0,494.7V503.3M459.8,504.1H468.4M464.1,499.8V508.4M453.6,507.2H462.2M457.9,502.9V511.5M454.6,510.3H463.2M458.9,506.0V514.6M456.7,513.4H465.3M461.0,509.1V517.7M446.4,521.7H455.0M450.7,517.4V526.0M447.4,523.8H456.0M451.7,519.5V528.1M444.3,523.8H452.9M448.6,519.5V528.1M461.9,521.7H470.5M466.2,517.4V526.0M469.1,515.5H477.7M473.4,511.2V519.8M416.4,535.1H425.0M420.7,530.8V539.4M419.5,533.1H428.1M423.8,528.8V537.4M414.3,543.4H422.9M418.6,539.1V547.7M413.5,543.3H422.1M417.8,539.0V547.6M256.6,478.3H265.2M260.9,474.0V482.6M262.4,473.9H271.0M266.7,469.6V478.2M263.4,478.8H272.0M267.7,474.5V483.1M270.2,475.9H278.8M274.5,471.6V480.2M275.1,473.9H283.7M279.4,469.6V478.2M280.0,475.9H288.6M284.3,471.6V480.2M284.9,473.9H293.5M289.2,469.6V478.2M289.8,478.8H298.4M294.1,474.5V483.1M294.6,477.8H303.2M298.9,473.5V482.1M297.6,472.9H306.2M301.9,468.6V477.2M301.5,475.9H310.1M305.8,471.6V480.2M305.4,478.8H314.0M309.7,474.5V483.1M309.3,474.9H317.9M313.6,470.6V479.2M314.2,475.9H322.8M318.5,471.6V480.2M319.1,477.8H327.7M323.4,473.5V482.1M323.0,475.9H331.6M327.3,471.6V480.2M326.9,479.8H335.5M331.2,475.5V484.1M331.8,476.8H340.4M336.1,472.5V481.1M336.6,471.0H345.2M340.9,466.7V475.3M338.6,485.6H347.2M342.9,481.3V489.9M344.4,484.6H353.1M348.8,480.3V488.9M348.4,482.7H357.0M352.7,478.4V487.0M344.4,494.4H353.1M348.8,490.1V498.7M258.5,495.4H267.1M262.8,491.1V499.7M294.6,484.6H303.2M298.9,480.3V488.9M299.5,482.7H308.1M303.8,478.4V487.0M303.4,485.6H312.0M307.7,481.3V489.9M309.3,486.6H317.9M313.6,482.3V490.9M314.2,481.7H322.8M318.5,477.4V486.0M319.1,484.6H327.7M323.4,480.3V488.9M323.9,486.6H332.5M328.2,482.3V490.9M328.8,483.7H337.4M333.1,479.4V488.0M122.5,491.1H131.1M126.8,486.8V495.4M138.3,472.6H146.9M142.6,468.3V476.9M147.1,480.5H155.7M151.4,476.2V484.8M155.8,472.6H164.4M160.1,468.3V476.9M162.9,477.0H171.5M167.2,472.7V481.3M169.0,475.3H177.6M173.3,471.0V479.6M183.1,478.3H191.7M187.4,474.0V482.6M195.4,484.1H204.0M199.7,479.8V488.4M190.1,484.9H198.7M194.4,480.6V489.2M157.6,481.4H166.2M161.9,477.1V485.7M149.7,483.2H158.3M154.0,478.9V487.5M143.5,482.3H152.1M147.8,478.0V486.6M173.4,481.4H182.0M177.7,477.1V485.7M177.8,486.7H186.4M182.1,482.4V491.0M182.2,488.5H190.8M186.5,484.2V492.8" fill="none" stroke="#000" stroke-width="1"/>
<circle cx="142.4" cy="478.9" r="4.1" fill="none" stroke="#000" stroke-width="1.1"/>
<circle cx="209.8" cy="482.9" r="4.1" fill="none" stroke="#000" stroke-width="1.1"/>
<circle cx="141.7" cy="490.9" r="4.1" fill="none" stroke="#000" stroke-width="1.1"/>
<circle cx="135.1" cy="495.3" r="4.1" fill="none" stroke="#000" stroke-width="1.1"/>
<circle cx="133.6" cy="502.7" r="4.1" fill="none" stroke="#000" stroke-width="1.1"/>
<circle cx="149.8" cy="493.9" r="4.1" fill="none" stroke="#000" stroke-width="1.1"/>
<circle cx="157.1" cy="488.7" r="4.1" fill="none" stroke="#000" stroke-width="1.1"/>
<circle cx="170.3" cy="493.1" r="4.1" fill="none" stroke="#000" stroke-width="1.1"/>
<circle cx="177.6" cy="491.7" r="4.1" fill="none" stroke="#000" stroke-width="1.1"/>
<circle cx="190.8" cy="489.5" r="4.1" fill="none" stroke="#000" stroke-width="1.1"/>
<circle cx="194.4" cy="504.1" r="4.1" fill="none" stroke="#000" stroke-width="1.1"/>
<circle cx="199.6" cy="510.7" r="4.1" fill="none" stroke="#000" stroke-width="1.1"/>
<circle cx="132.9" cy="515.1" r="4.1" fill="none" stroke="#000" stroke-width="1.1"/>
<circle cx="127.1" cy="523.2" r="4.1" fill="none" stroke="#000" stroke-width="1.1"/>
<circle cx="141.0" cy="522.4" r="4.1" fill="none" stroke="#000" stroke-width="1.1"/>
<circle cx="149.8" cy="518.8" r="4.1" fill="none" stroke="#000" stroke-width="1.1"/>
<circle cx="154.2" cy="524.6" r="4.1" fill="none" stroke="#000" stroke-width="1.1"/>
<circle cx="190.0" cy="523.9" r="4.1" fill="none" stroke="#000" stroke-width="1.1"/>
<circle cx="193.7" cy="528.3" r="4.1" fill="none" stroke="#000" stroke-width="1.1"/>
<circle cx="215.7" cy="499.0" r="4.1" fill="none" stroke="#000" stroke-width="1.1"/>
<circle cx="214.2" cy="504.9" r="4.1" fill="none" stroke="#000" stroke-width="1.1"/>
<circle cx="223.0" cy="514.4" r="4.1" fill="none" stroke="#000" stroke-width="1.1"/>
<circle cx="225.9" cy="522.4" r="4.1" fill="none" stroke="#000" stroke-width="1.1"/>
<circle cx="225.2" cy="507.1" r="4.1" fill="none" stroke="#000" stroke-width="1.1"/>
<circle cx="228.1" cy="504.1" r="4.1" fill="none" stroke="#000" stroke-width="1.1"/>
<circle cx="233.3" cy="499.7" r="4.1" fill="none" stroke="#000" stroke-width="1.1"/>
<circle cx="236.9" cy="518.8" r="4.1" fill="none" stroke="#000" stroke-width="1.1"/>
<circle cx="148.3" cy="499.7" r="4.1" fill="none" stroke="#000" stroke-width="1.1"/>
<circle cx="155.6" cy="497.5" r="4.1" fill="none" stroke="#000" stroke-width="1.1"/>
<circle cx="162.9" cy="498.3" r="4.1" fill="none" stroke="#000" stroke-width="1.1"/>
<circle cx="174.7" cy="498.3" r="4.1" fill="none" stroke="#000" stroke-width="1.1"/>
<circle cx="180.5" cy="501.2" r="4.1" fill="none" stroke="#000" stroke-width="1.1"/>
<circle cx="145.4" cy="505.6" r="4.1" fill="none" stroke="#000" stroke-width="1.1"/>
<circle cx="186.4" cy="508.5" r="4.1" fill="none" stroke="#000" stroke-width="1.1"/>
<circle cx="161.5" cy="515.8" r="4.1" fill="none" stroke="#000" stroke-width="1.1"/>
<circle cx="168.8" cy="511.4" r="4.1" fill="none" stroke="#000" stroke-width="1.1"/>
<circle cx="187.8" cy="515.8" r="4.1" fill="none" stroke="#000" stroke-width="1.1"/>
<circle cx="273.4" cy="484.4" r="4.1" fill="none" stroke="#000" stroke-width="1.1"/>
<circle cx="274.9" cy="495.3" r="4.1" fill="none" stroke="#000" stroke-width="1.1"/>
<circle cx="271.9" cy="501.2" r="4.1" fill="none" stroke="#000" stroke-width="1.1"/>
<circle cx="271.9" cy="514.4" r="4.1" fill="none" stroke="#000" stroke-width="1.1"/>
<circle cx="279.3" cy="504.1" r="4.1" fill="none" stroke="#000" stroke-width="1.1"/>
<circle cx="283.6" cy="490.9" r="4.1" fill="none" stroke="#000" stroke-width="1.1"/>
<circle cx="286.6" cy="490.9" r="4.1" fill="none" stroke="#000" stroke-width="1.1"/>
<circle cx="289.5" cy="490.9" r="4.1" fill="none" stroke="#000" stroke-width="1.1"/>
<circle cx="295.4" cy="495.3" r="4.1" fill="none" stroke="#000" stroke-width="1.1"/>
<circle cx="288.0" cy="499.7" r="4.1" fill="none" stroke="#000" stroke-width="1.1"/>
<circle cx="293.9" cy="502.7" r="4.1" fill="none" stroke="#000" stroke-width="1.1"/>
<circle cx="298.3" cy="502.7" r="4.1" fill="none" stroke="#000" stroke-width="1.1"/>
<circle cx="291.0" cy="508.5" r="4.1" fill="none" stroke="#000" stroke-width="1.1"/>
<circle cx="299.8" cy="507.1" r="4.1" fill="none" stroke="#000" stroke-width="1.1"/>
<circle cx="307.1" cy="510.7" r="4.1" fill="none" stroke="#000" stroke-width="1.1"/>
<circle cx="314.4" cy="496.8" r="4.1" fill="none" stroke="#000" stroke-width="1.1"/>
<circle cx="320.3" cy="495.3" r="4.1" fill="none" stroke="#000" stroke-width="1.1"/>
<circle cx="327.6" cy="493.9" r="4.1" fill="none" stroke="#000" stroke-width="1.1"/>
<circle cx="330.5" cy="496.8" r="4.1" fill="none" stroke="#000" stroke-width="1.1"/>
<circle cx="337.8" cy="498.3" r="4.1" fill="none" stroke="#000" stroke-width="1.1"/>
<circle cx="340.8" cy="496.8" r="4.1" fill="none" stroke="#000" stroke-width="1.1"/>
<circle cx="327.6" cy="505.6" r="4.1" fill="none" stroke="#000" stroke-width="1.1"/>
<circle cx="332.0" cy="505.6" r="4.1" fill="none" stroke="#000" stroke-width="1.1"/>
<circle cx="336.4" cy="510.0" r="4.1" fill="none" stroke="#000" stroke-width="1.1"/>
<circle cx="342.2" cy="510.0" r="4.1" fill="none" stroke="#000" stroke-width="1.1"/>
<circle cx="345.2" cy="505.6" r="4.1" fill="none" stroke="#000" stroke-width="1.1"/>
<circle cx="349.6" cy="504.1" r="4.1" fill="none" stroke="#000" stroke-width="1.1"/>
<circle cx="354.0" cy="511.4" r="4.1" fill="none" stroke="#000" stroke-width="1.1"/>
<circle cx="348.1" cy="517.3" r="4.1" fill="none" stroke="#000" stroke-width="1.1"/>
<circle cx="352.5" cy="520.2" r="4.1" fill="none" stroke="#000" stroke-width="1.1"/>
<circle cx="355.4" cy="527.6" r="4.1" fill="none" stroke="#000" stroke-width="1.1"/>
<circle cx="358.4" cy="532.0" r="4.1" fill="none" stroke="#000" stroke-width="1.1"/>
<circle cx="361.3" cy="534.9" r="4.1" fill="none" stroke="#000" stroke-width="1.1"/>
<circle cx="364.2" cy="537.8" r="4.1" fill="none" stroke="#000" stroke-width="1.1"/>
<circle cx="367.1" cy="542.2" r="4.1" fill="none" stroke="#000" stroke-width="1.1"/>
<circle cx="374.5" cy="537.8" r="4.1" fill="none" stroke="#000" stroke-width="1.1"/>
<circle cx="305.6" cy="490.9" r="4.1" fill="none" stroke="#000" stroke-width="1.1"/>
<circle cx="310.0" cy="495.3" r="4.1" fill="none" stroke="#000" stroke-width="1.1"/>
<circle cx="282.2" cy="505.6" r="4.1" fill="none" stroke="#000" stroke-width="1.1"/>
<circle cx="277.8" cy="508.5" r="4.1" fill="none" stroke="#000" stroke-width="1.1"/>
<circle cx="317.3" cy="502.7" r="4.1" fill="none" stroke="#000" stroke-width="1.1"/>
<circle cx="324.7" cy="499.7" r="4.1" fill="none" stroke="#000" stroke-width="1.1"/>
<circle cx="333.4" cy="501.2" r="4.1" fill="none" stroke="#000" stroke-width="1.1"/>
<circle cx="339.3" cy="504.1" r="4.1" fill="none" stroke="#000" stroke-width="1.1"/>
<circle cx="345.2" cy="514.4" r="4.1" fill="none" stroke="#000" stroke-width="1.1"/>
<circle cx="351.0" cy="524.6" r="4.1" fill="none" stroke="#000" stroke-width="1.1"/>
<circle cx="356.9" cy="534.9" r="4.1" fill="none" stroke="#000" stroke-width="1.1"/>
<circle cx="457.4" cy="543.9" r="4.1" fill="none" stroke="#000" stroke-width="1.1"/>
<circle cx="438.3" cy="552.2" r="4.1" fill="none" stroke="#000" stroke-width="1.1"/>
<circle cx="426.4" cy="563.6" r="4.1" fill="none" stroke="#000" stroke-width="1.1"/>
<circle cx="420.7" cy="567.2" r="4.1" fill="none" stroke="#000" stroke-width="1.1"/>
<circle cx="445.5" cy="563.1" r="4.1" fill="none" stroke="#000" stroke-width="1.1"/>
<circle cx="449.6" cy="561.0" r="4.1" fill="none" stroke="#000" stroke-width="1.1"/>
<circle cx="457.9" cy="558.9" r="4.1" fill="none" stroke="#000" stroke-width="1.1"/>
<circle cx="463.1" cy="558.9" r="4.1" fill="none" stroke="#000" stroke-width="1.1"/>
<circle cx="466.2" cy="562.0" r="4.1" fill="none" stroke="#000" stroke-width="1.1"/>
<circle cx="467.2" cy="565.1" r="4.1" fill="none" stroke="#000" stroke-width="1.1"/>
<circle cx="461.0" cy="563.1" r="4.1" fill="none" stroke="#000" stroke-width="1.1"/>
<circle cx="451.7" cy="566.2" r="4.1" fill="none" stroke="#000" stroke-width="1.1"/>
<circle cx="443.4" cy="567.2" r="4.1" fill="none" stroke="#000" stroke-width="1.1"/>
<circle cx="420.7" cy="567.9" r="4.1" fill="none" stroke="#000" stroke-width="1.1"/>
<circle cx="426.4" cy="563.8" r="4.1" fill="none" stroke="#000" stroke-width="1.1"/>
<circle cx="438.3" cy="555.5" r="4.1" fill="none" stroke="#000" stroke-width="1.1"/>
<circle cx="430.0" cy="577.2" r="4.1" fill="none" stroke="#000" stroke-width="1.1"/>
<circle cx="426.9" cy="587.1" r="4.1" fill="none" stroke="#000" stroke-width="1.1"/>
<circle cx="431.0" cy="587.1" r="4.1" fill="none" stroke="#000" stroke-width="1.1"/>
<circle cx="435.2" cy="582.9" r="4.1" fill="none" stroke="#000" stroke-width="1.1"/>
<circle cx="439.3" cy="575.7" r="4.1" fill="none" stroke="#000" stroke-width="1.1"/>
<circle cx="442.4" cy="580.9" r="4.1" fill="none" stroke="#000" stroke-width="1.1"/>
<circle cx="443.4" cy="571.5" r="4.1" fill="none" stroke="#000" stroke-width="1.1"/>
<circle cx="444.5" cy="566.4" r="4.1" fill="none" stroke="#000" stroke-width="1.1"/>
<circle cx="446.5" cy="561.2" r="4.1" fill="none" stroke="#000" stroke-width="1.1"/>
<circle cx="450.7" cy="559.1" r="4.1" fill="none" stroke="#000" stroke-width="1.1"/>
<circle cx="453.8" cy="563.3" r="4.1" fill="none" stroke="#000" stroke-width="1.1"/>
<circle cx="448.6" cy="568.4" r="4.1" fill="none" stroke="#000" stroke-width="1.1"/>
<circle cx="451.7" cy="569.5" r="4.1" fill="none" stroke="#000" stroke-width="1.1"/>
<circle cx="457.9" cy="561.2" r="4.1" fill="none" stroke="#000" stroke-width="1.1"/>
<circle cx="462.0" cy="559.1" r="4.1" fill="none" stroke="#000" stroke-width="1.1"/>
<circle cx="465.1" cy="561.2" r="4.1" fill="none" stroke="#000" stroke-width="1.1"/>
<circle cx="467.2" cy="565.3" r="4.1" fill="none" stroke="#000" stroke-width="1.1"/>
<circle cx="462.0" cy="570.5" r="4.1" fill="none" stroke="#000" stroke-width="1.1"/>
<circle cx="457.9" cy="571.5" r="4.1" fill="none" stroke="#000" stroke-width="1.1"/>
<circle cx="455.8" cy="566.4" r="4.1" fill="none" stroke="#000" stroke-width="1.1"/>
<circle cx="417.1" cy="590.7" r="4.1" fill="none" stroke="#000" stroke-width="1.1"/>
<circle cx="402.1" cy="585.0" r="4.1" fill="none" stroke="#000" stroke-width="1.1"/>
<circle cx="406.2" cy="588.1" r="4.1" fill="none" stroke="#000" stroke-width="1.1"/>
<circle cx="408.3" cy="590.2" r="4.1" fill="none" stroke="#000" stroke-width="1.1"/>
<circle cx="404.1" cy="594.3" r="4.1" fill="none" stroke="#000" stroke-width="1.1"/>
<circle cx="403.1" cy="598.4" r="4.1" fill="none" stroke="#000" stroke-width="1.1"/>
<circle cx="403.1" cy="609.8" r="4.1" fill="none" stroke="#000" stroke-width="1.1"/>
<circle cx="402.1" cy="613.9" r="4.1" fill="none" stroke="#000" stroke-width="1.1"/>
<circle cx="401.0" cy="619.1" r="4.1" fill="none" stroke="#000" stroke-width="1.1"/>
<circle cx="424.8" cy="601.0" r="4.1" fill="none" stroke="#000" stroke-width="1.1"/>
<circle cx="418.6" cy="605.7" r="4.1" fill="none" stroke="#000" stroke-width="1.1"/>
<circle cx="418.6" cy="608.8" r="4.1" fill="none" stroke="#000" stroke-width="1.1"/>
<circle cx="423.8" cy="615.0" r="4.1" fill="none" stroke="#000" stroke-width="1.1"/>
<circle cx="420.7" cy="622.2" r="4.1" fill="none" stroke="#000" stroke-width="1.1"/>
<circle cx="473.4" cy="590.7" r="4.1" fill="none" stroke="#000" stroke-width="1.1"/>
<circle cx="445.5" cy="574.6" r="4.1" fill="none" stroke="#000" stroke-width="1.1"/>
<circle cx="453.8" cy="557.1" r="4.1" fill="none" stroke="#000" stroke-width="1.1"/>
<circle cx="374.7" cy="540.4" r="4.1" fill="none" stroke="#000" stroke-width="1.1"/>
<circle cx="364.8" cy="545.8" r="4.1" fill="none" stroke="#000" stroke-width="1.1"/>
<circle cx="368.9" cy="550.8" r="4.1" fill="none" stroke="#000" stroke-width="1.1"/>
<circle cx="371.4" cy="554.9" r="4.1" fill="none" stroke="#000" stroke-width="1.1"/>
<circle cx="364.0" cy="559.9" r="4.1" fill="none" stroke="#000" stroke-width="1.1"/>
<circle cx="372.3" cy="564.8" r="4.1" fill="none" stroke="#000" stroke-width="1.1"/>
<circle cx="374.7" cy="561.5" r="4.1" fill="none" stroke="#000" stroke-width="1.1"/>
<circle cx="382.2" cy="555.7" r="4.1" fill="none" stroke="#000" stroke-width="1.1"/>
<circle cx="383.0" cy="559.9" r="4.1" fill="none" stroke="#000" stroke-width="1.1"/>
<circle cx="388.8" cy="568.1" r="4.1" fill="none" stroke="#000" stroke-width="1.1"/>
<circle cx="378.0" cy="570.6" r="4.1" fill="none" stroke="#000" stroke-width="1.1"/>
<circle cx="381.4" cy="573.1" r="4.1" fill="none" stroke="#000" stroke-width="1.1"/>
<circle cx="384.7" cy="575.6" r="4.1" fill="none" stroke="#000" stroke-width="1.1"/>
<circle cx="386.3" cy="579.7" r="4.1" fill="none" stroke="#000" stroke-width="1.1"/>
<circle cx="389.6" cy="581.4" r="4.1" fill="none" stroke="#000" stroke-width="1.1"/>
<circle cx="392.9" cy="580.5" r="4.1" fill="none" stroke="#000" stroke-width="1.1"/>
<circle cx="395.4" cy="583.0" r="4.1" fill="none" stroke="#000" stroke-width="1.1"/>
<circle cx="400.4" cy="583.8" r="4.1" fill="none" stroke="#000" stroke-width="1.1"/>
<circle cx="379.7" cy="588.0" r="4.1" fill="none" stroke="#000" stroke-width="1.1"/>
<circle cx="384.7" cy="587.1" r="4.1" fill="none" stroke="#000" stroke-width="1.1"/>
<circle cx="389.6" cy="589.6" r="4.1" fill="none" stroke="#000" stroke-width="1.1"/>
<circle cx="392.9" cy="591.3" r="4.1" fill="none" stroke="#000" stroke-width="1.1"/>
<circle cx="397.9" cy="589.6" r="4.1" fill="none" stroke="#000" stroke-width="1.1"/>
<circle cx="406.2" cy="589.6" r="4.1" fill="none" stroke="#000" stroke-width="1.1"/>
<circle cx="407.8" cy="591.3" r="4.1" fill="none" stroke="#000" stroke-width="1.1"/>
<circle cx="402.9" cy="594.6" r="4.1" fill="none" stroke="#000" stroke-width="1.1"/>
<circle cx="401.2" cy="599.6" r="4.1" fill="none" stroke="#000" stroke-width="1.1"/>
<circle cx="385.5" cy="596.2" r="4.1" fill="none" stroke="#000" stroke-width="1.1"/>
<circle cx="388.0" cy="599.6" r="4.1" fill="none" stroke="#000" stroke-width="1.1"/>
<circle cx="391.3" cy="602.0" r="4.1" fill="none" stroke="#000" stroke-width="1.1"/>
<circle cx="394.6" cy="603.7" r="4.1" fill="none" stroke="#000" stroke-width="1.1"/>
<circle cx="396.2" cy="610.3" r="4.1" fill="none" stroke="#000" stroke-width="1.1"/>
<circle cx="402.9" cy="610.3" r="4.1" fill="none" stroke="#000" stroke-width="1.1"/>
<circle cx="402.9" cy="613.6" r="4.1" fill="none" stroke="#000" stroke-width="1.1"/>
<circle cx="401.2" cy="617.8" r="4.1" fill="none" stroke="#000" stroke-width="1.1"/>
<circle cx="416.9" cy="568.1" r="4.1" fill="none" stroke="#000" stroke-width="1.1"/>
<circle cx="416.1" cy="590.5" r="4.1" fill="none" stroke="#000" stroke-width="1.1"/>
<circle cx="417.8" cy="604.5" r="4.1" fill="none" stroke="#000" stroke-width="1.1"/>
<circle cx="417.8" cy="608.7" r="4.1" fill="none" stroke="#000" stroke-width="1.1"/>
<circle cx="394.8" cy="612.1" r="4.1" fill="none" stroke="#000" stroke-width="1.1"/>
<circle cx="403.1" cy="614.1" r="4.1" fill="none" stroke="#000" stroke-width="1.1"/>
<circle cx="400.0" cy="620.3" r="4.1" fill="none" stroke="#000" stroke-width="1.1"/>
<circle cx="402.0" cy="617.2" r="4.1" fill="none" stroke="#000" stroke-width="1.1"/>
<circle cx="418.6" cy="611.0" r="4.1" fill="none" stroke="#000" stroke-width="1.1"/>
<circle cx="423.8" cy="615.2" r="4.1" fill="none" stroke="#000" stroke-width="1.1"/>
<circle cx="420.7" cy="622.4" r="4.1" fill="none" stroke="#000" stroke-width="1.1"/>
<circle cx="261.7" cy="532.0" r="4.1" fill="none" stroke="#000" stroke-width="1.1"/>
<circle cx="272.6" cy="484.6" r="4.1" fill="none" stroke="#000" stroke-width="1.1"/>
<circle cx="273.6" cy="487.6" r="4.1" fill="none" stroke="#000" stroke-width="1.1"/>
<circle cx="284.3" cy="490.5" r="4.1" fill="none" stroke="#000" stroke-width="1.1"/>
<circle cx="287.2" cy="491.5" r="4.1" fill="none" stroke="#000" stroke-width="1.1"/>
<circle cx="293.1" cy="491.0" r="4.1" fill="none" stroke="#000" stroke-width="1.1"/>
<circle cx="268.7" cy="495.4" r="4.1" fill="none" stroke="#000" stroke-width="1.1"/>
<circle cx="273.6" cy="495.4" r="4.1" fill="none" stroke="#000" stroke-width="1.1"/>
<circle cx="267.7" cy="500.3" r="4.1" fill="none" stroke="#000" stroke-width="1.1"/>
<circle cx="260.9" cy="505.2" r="4.1" fill="none" stroke="#000" stroke-width="1.1"/>
<circle cx="264.8" cy="515.9" r="4.1" fill="none" stroke="#000" stroke-width="1.1"/>
<circle cx="271.6" cy="515.9" r="4.1" fill="none" stroke="#000" stroke-width="1.1"/>
<circle cx="279.4" cy="503.2" r="4.1" fill="none" stroke="#000" stroke-width="1.1"/>
<circle cx="282.3" cy="505.2" r="4.1" fill="none" stroke="#000" stroke-width="1.1"/>
<circle cx="276.5" cy="509.1" r="4.1" fill="none" stroke="#000" stroke-width="1.1"/>
<circle cx="288.2" cy="500.3" r="4.1" fill="none" stroke="#000" stroke-width="1.1"/>
<circle cx="290.2" cy="509.1" r="4.1" fill="none" stroke="#000" stroke-width="1.1"/>
<circle cx="294.1" cy="502.2" r="4.1" fill="none" stroke="#000" stroke-width="1.1"/>
<circle cx="297.0" cy="499.3" r="4.1" fill="none" stroke="#000" stroke-width="1.1"/>
<circle cx="298.0" cy="508.1" r="4.1" fill="none" stroke="#000" stroke-width="1.1"/>
<circle cx="301.9" cy="494.4" r="4.1" fill="none" stroke="#000" stroke-width="1.1"/>
<circle cx="306.8" cy="511.0" r="4.1" fill="none" stroke="#000" stroke-width="1.1"/>
<circle cx="306.8" cy="495.4" r="4.1" fill="none" stroke="#000" stroke-width="1.1"/>
<circle cx="310.7" cy="496.4" r="4.1" fill="none" stroke="#000" stroke-width="1.1"/>
<circle cx="313.6" cy="493.4" r="4.1" fill="none" stroke="#000" stroke-width="1.1"/>
<circle cx="315.5" cy="501.2" r="4.1" fill="none" stroke="#000" stroke-width="1.1"/>
<circle cx="319.5" cy="494.4" r="4.1" fill="none" stroke="#000" stroke-width="1.1"/>
<circle cx="323.4" cy="498.3" r="4.1" fill="none" stroke="#000" stroke-width="1.1"/>
<circle cx="327.3" cy="494.4" r="4.1" fill="none" stroke="#000" stroke-width="1.1"/>
<circle cx="331.2" cy="499.3" r="4.1" fill="none" stroke="#000" stroke-width="1.1"/>
<circle cx="333.1" cy="504.2" r="4.1" fill="none" stroke="#000" stroke-width="1.1"/>
<circle cx="338.0" cy="494.4" r="4.1" fill="none" stroke="#000" stroke-width="1.1"/>
<circle cx="340.9" cy="499.3" r="4.1" fill="none" stroke="#000" stroke-width="1.1"/>
<circle cx="342.9" cy="507.1" r="4.1" fill="none" stroke="#000" stroke-width="1.1"/>
<circle cx="347.8" cy="504.2" r="4.1" fill="none" stroke="#000" stroke-width="1.1"/>
<circle cx="350.7" cy="511.0" r="4.1" fill="none" stroke="#000" stroke-width="1.1"/>
<circle cx="338.0" cy="511.0" r="4.1" fill="none" stroke="#000" stroke-width="1.1"/>
<circle cx="329.2" cy="507.1" r="4.1" fill="none" stroke="#000" stroke-width="1.1"/>
<circle cx="348.8" cy="520.8" r="4.1" fill="none" stroke="#000" stroke-width="1.1"/>
<circle cx="352.7" cy="516.9" r="4.1" fill="none" stroke="#000" stroke-width="1.1"/>
<circle cx="261.8" cy="530.5" r="4.1" fill="none" stroke="#000" stroke-width="1.1"/>
<circle cx="142.6" cy="478.8" r="4.1" fill="none" stroke="#000" stroke-width="1.1"/>
<circle cx="142.6" cy="490.2" r="4.1" fill="none" stroke="#000" stroke-width="1.1"/>
<circle cx="133.8" cy="496.4" r="4.1" fill="none" stroke="#000" stroke-width="1.1"/>
<circle cx="133.8" cy="502.5" r="4.1" fill="none" stroke="#000" stroke-width="1.1"/>
<circle cx="150.5" cy="493.7" r="4.1" fill="none" stroke="#000" stroke-width="1.1"/>
<circle cx="154.9" cy="488.5" r="4.1" fill="none" stroke="#000" stroke-width="1.1"/>
<circle cx="168.9" cy="492.8" r="4.1" fill="none" stroke="#000" stroke-width="1.1"/>
<circle cx="176.0" cy="492.0" r="4.1" fill="none" stroke="#000" stroke-width="1.1"/>
<circle cx="179.5" cy="500.8" r="4.1" fill="none" stroke="#000" stroke-width="1.1"/>
<circle cx="190.0" cy="490.2" r="4.1" fill="none" stroke="#000" stroke-width="1.1"/>
<circle cx="194.4" cy="504.3" r="4.1" fill="none" stroke="#000" stroke-width="1.1"/>
<circle cx="199.7" cy="510.4" r="4.1" fill="none" stroke="#000" stroke-width="1.1"/>
<circle cx="186.5" cy="508.7" r="4.1" fill="none" stroke="#000" stroke-width="1.1"/>
<circle cx="132.9" cy="514.8" r="4.1" fill="none" stroke="#000" stroke-width="1.1"/>
<circle cx="127.6" cy="522.7" r="4.1" fill="none" stroke="#000" stroke-width="1.1"/>
<circle cx="140.8" cy="522.7" r="4.1" fill="none" stroke="#000" stroke-width="1.1"/>
<circle cx="149.6" cy="519.2" r="4.1" fill="none" stroke="#000" stroke-width="1.1"/>
<circle cx="154.0" cy="525.4" r="4.1" fill="none" stroke="#000" stroke-width="1.1"/>
<circle cx="161.0" cy="515.7" r="4.1" fill="none" stroke="#000" stroke-width="1.1"/>
<circle cx="190.0" cy="523.6" r="4.1" fill="none" stroke="#000" stroke-width="1.1"/>
<circle cx="193.5" cy="528.0" r="4.1" fill="none" stroke="#000" stroke-width="1.1"/>
<circle cx="209.4" cy="483.2" r="4.1" fill="none" stroke="#000" stroke-width="1.1"/>
<circle cx="212.0" cy="504.3" r="4.1" fill="none" stroke="#000" stroke-width="1.1"/>
<circle cx="173.1" cy="497.1" r="4.1" fill="none" stroke="#000" stroke-width="1.1"/>
<circle cx="161.8" cy="501.8" r="4.1" fill="none" stroke="#000" stroke-width="1.1"/>
<circle cx="168.4" cy="509.9" r="4.1" fill="none" stroke="#000" stroke-width="1.1"/>
<circle cx="176.1" cy="501.4" r="4.1" fill="none" stroke="#000" stroke-width="1.1"/>
<circle cx="159.7" cy="508.3" r="4.1" fill="none" stroke="#000" stroke-width="1.1"/>
<circle cx="142.1" cy="504.0" r="4.1" fill="none" stroke="#000" stroke-width="1.1"/>
<circle cx="180.4" cy="500.1" r="4.1" fill="none" stroke="#000" stroke-width="1.1"/>
<circle cx="150.1" cy="501.1" r="4.1" fill="none" stroke="#000" stroke-width="1.1"/>
<circle cx="159.4" cy="502.9" r="4.1" fill="none" stroke="#000" stroke-width="1.1"/>
<circle cx="150.8" cy="496.5" r="4.1" fill="none" stroke="#000" stroke-width="1.1"/>
<circle cx="150.2" cy="502.0" r="4.1" fill="none" stroke="#000" stroke-width="1.1"/>
<circle cx="176.2" cy="504.4" r="4.1" fill="none" stroke="#000" stroke-width="1.1"/>
<circle cx="168.0" cy="495.5" r="4.1" fill="none" stroke="#000" stroke-width="1.1"/>
<circle cx="146.1" cy="499.0" r="4.1" fill="none" stroke="#000" stroke-width="1.1"/>
<circle cx="171.3" cy="508.1" r="4.1" fill="none" stroke="#000" stroke-width="1.1"/>
<circle cx="180.3" cy="501.1" r="4.1" fill="none" stroke="#000" stroke-width="1.1"/>
<circle cx="175.9" cy="507.1" r="4.1" fill="none" stroke="#000" stroke-width="1.1"/>
<circle cx="153.7" cy="505.1" r="4.1" fill="none" stroke="#000" stroke-width="1.1"/>
<circle cx="162.2" cy="505.1" r="4.1" fill="none" stroke="#000" stroke-width="1.1"/>
<circle cx="174.5" cy="500.9" r="4.1" fill="none" stroke="#000" stroke-width="1.1"/>
<circle cx="148.3" cy="504.2" r="4.1" fill="none" stroke="#000" stroke-width="1.1"/>
<circle cx="170.5" cy="507.2" r="4.1" fill="none" stroke="#000" stroke-width="1.1"/>
<circle cx="156.7" cy="501.5" r="4.1" fill="none" stroke="#000" stroke-width="1.1"/>
<circle cx="162.4" cy="509.7" r="4.1" fill="none" stroke="#000" stroke-width="1.1"/>
<circle cx="162.9" cy="500.4" r="4.1" fill="none" stroke="#000" stroke-width="1.1"/>
<circle cx="161.6" cy="491.7" r="4.1" fill="none" stroke="#000" stroke-width="1.1"/>
<circle cx="142.8" cy="507.9" r="4.1" fill="none" stroke="#000" stroke-width="1.1"/>
<circle cx="182.3" cy="505.2" r="4.1" fill="none" stroke="#000" stroke-width="1.1"/>
<circle cx="157.5" cy="495.1" r="4.1" fill="none" stroke="#000" stroke-width="1.1"/>
<circle cx="162.1" cy="514.6" r="4.1" fill="none" stroke="#000" stroke-width="1.1"/>
<circle cx="173.4" cy="504.0" r="4.1" fill="none" stroke="#000" stroke-width="1.1"/>
<circle cx="177.1" cy="496.6" r="4.1" fill="none" stroke="#000" stroke-width="1.1"/>
<circle cx="162.6" cy="513.9" r="4.1" fill="none" stroke="#000" stroke-width="1.1"/>
<circle cx="165.3" cy="502.0" r="4.1" fill="none" stroke="#000" stroke-width="1.1"/>
<circle cx="152.3" cy="504.2" r="4.1" fill="none" stroke="#000" stroke-width="1.1"/>
<circle cx="173.9" cy="510.7" r="4.1" fill="none" stroke="#000" stroke-width="1.1"/>
<circle cx="178.2" cy="508.8" r="4.1" fill="none" stroke="#000" stroke-width="1.1"/>
<circle cx="175.0" cy="503.4" r="4.1" fill="none" stroke="#000" stroke-width="1.1"/>
<circle cx="164.6" cy="501.2" r="4.1" fill="none" stroke="#000" stroke-width="1.1"/>
<circle cx="164.9" cy="495.8" r="4.1" fill="none" stroke="#000" stroke-width="1.1"/>
<circle cx="162.2" cy="502.6" r="4.1" fill="none" stroke="#000" stroke-width="1.1"/>
<circle cx="156.0" cy="499.3" r="4.1" fill="none" stroke="#000" stroke-width="1.1"/>
<circle cx="163.6" cy="506.0" r="4.1" fill="none" stroke="#000" stroke-width="1.1"/>
<circle cx="166.7" cy="502.0" r="4.1" fill="none" stroke="#000" stroke-width="1.1"/>
<circle cx="148.4" cy="505.0" r="4.1" fill="none" stroke="#000" stroke-width="1.1"/>
<circle cx="177.2" cy="510.2" r="4.1" fill="none" stroke="#000" stroke-width="1.1"/>
<circle cx="174.5" cy="510.6" r="4.1" fill="none" stroke="#000" stroke-width="1.1"/>
<circle cx="151.7" cy="511.2" r="4.1" fill="none" stroke="#000" stroke-width="1.1"/>
<circle cx="169.3" cy="493.0" r="4.1" fill="none" stroke="#000" stroke-width="1.1"/>
<circle cx="172.7" cy="497.0" r="4.1" fill="none" stroke="#000" stroke-width="1.1"/>
<circle cx="182.2" cy="520.9" r="4.1" fill="none" stroke="#000" stroke-width="1.1"/>
<circle cx="185.2" cy="523.8" r="4.1" fill="none" stroke="#000" stroke-width="1.1"/>
<circle cx="166.8" cy="516.4" r="4.1" fill="none" stroke="#000" stroke-width="1.1"/>
<circle cx="190.5" cy="519.4" r="4.1" fill="none" stroke="#000" stroke-width="1.1"/>
<circle cx="178.2" cy="512.9" r="4.1" fill="none" stroke="#000" stroke-width="1.1"/>
<circle cx="180.1" cy="518.2" r="4.1" fill="none" stroke="#000" stroke-width="1.1"/>
<circle cx="173.3" cy="523.7" r="4.1" fill="none" stroke="#000" stroke-width="1.1"/>
<circle cx="185.9" cy="511.6" r="4.1" fill="none" stroke="#000" stroke-width="1.1"/>
<circle cx="186.7" cy="511.2" r="4.1" fill="none" stroke="#000" stroke-width="1.1"/>
<circle cx="182.1" cy="511.0" r="4.1" fill="none" stroke="#000" stroke-width="1.1"/>
<circle cx="171.4" cy="512.4" r="4.1" fill="none" stroke="#000" stroke-width="1.1"/>
<circle cx="180.0" cy="519.8" r="4.1" fill="none" stroke="#000" stroke-width="1.1"/>
<circle cx="189.2" cy="513.8" r="4.1" fill="none" stroke="#000" stroke-width="1.1"/>
<circle cx="175.4" cy="511.7" r="4.1" fill="none" stroke="#000" stroke-width="1.1"/>
<circle cx="173.8" cy="518.6" r="4.1" fill="none" stroke="#000" stroke-width="1.1"/>
<circle cx="174.8" cy="514.0" r="4.1" fill="none" stroke="#000" stroke-width="1.1"/>
<circle cx="303.3" cy="502.8" r="4.1" fill="none" stroke="#000" stroke-width="1.1"/>
<circle cx="310.7" cy="503.9" r="4.1" fill="none" stroke="#000" stroke-width="1.1"/>
<circle cx="325.0" cy="494.2" r="4.1" fill="none" stroke="#000" stroke-width="1.1"/>
<circle cx="304.5" cy="497.2" r="4.1" fill="none" stroke="#000" stroke-width="1.1"/>
<circle cx="345.8" cy="501.5" r="4.1" fill="none" stroke="#000" stroke-width="1.1"/>
<circle cx="336.8" cy="501.6" r="4.1" fill="none" stroke="#000" stroke-width="1.1"/>
<circle cx="325.8" cy="495.7" r="4.1" fill="none" stroke="#000" stroke-width="1.1"/>
<circle cx="325.6" cy="508.6" r="4.1" fill="none" stroke="#000" stroke-width="1.1"/>
<circle cx="319.3" cy="506.3" r="4.1" fill="none" stroke="#000" stroke-width="1.1"/>
<circle cx="327.6" cy="494.2" r="4.1" fill="none" stroke="#000" stroke-width="1.1"/>
<circle cx="332.5" cy="503.6" r="4.1" fill="none" stroke="#000" stroke-width="1.1"/>
<circle cx="338.5" cy="501.5" r="4.1" fill="none" stroke="#000" stroke-width="1.1"/>
<circle cx="330.3" cy="508.8" r="4.1" fill="none" stroke="#000" stroke-width="1.1"/>
<circle cx="330.0" cy="509.6" r="4.1" fill="none" stroke="#000" stroke-width="1.1"/>
<circle cx="312.1" cy="507.4" r="4.1" fill="none" stroke="#000" stroke-width="1.1"/>
<circle cx="314.9" cy="509.8" r="4.1" fill="none" stroke="#000" stroke-width="1.1"/>
<circle cx="297.6" cy="496.9" r="4.1" fill="none" stroke="#000" stroke-width="1.1"/>
<circle cx="344.1" cy="500.9" r="4.1" fill="none" stroke="#000" stroke-width="1.1"/>
<circle cx="325.1" cy="498.4" r="4.1" fill="none" stroke="#000" stroke-width="1.1"/>
<circle cx="318.4" cy="499.9" r="4.1" fill="none" stroke="#000" stroke-width="1.1"/>
<circle cx="309.7" cy="503.5" r="4.1" fill="none" stroke="#000" stroke-width="1.1"/>
<circle cx="322.7" cy="509.3" r="4.1" fill="none" stroke="#000" stroke-width="1.1"/>
<circle cx="328.2" cy="509.7" r="4.1" fill="none" stroke="#000" stroke-width="1.1"/>
<circle cx="327.6" cy="495.9" r="4.1" fill="none" stroke="#000" stroke-width="1.1"/>
<circle cx="340.7" cy="503.2" r="4.1" fill="none" stroke="#000" stroke-width="1.1"/>
<circle cx="330.0" cy="496.8" r="4.1" fill="none" stroke="#000" stroke-width="1.1"/>
<circle cx="336.6" cy="503.3" r="4.1" fill="none" stroke="#000" stroke-width="1.1"/>
<circle cx="306.0" cy="494.1" r="4.1" fill="none" stroke="#000" stroke-width="1.1"/>
<circle cx="313.0" cy="495.7" r="4.1" fill="none" stroke="#000" stroke-width="1.1"/>
<circle cx="306.5" cy="506.8" r="4.1" fill="none" stroke="#000" stroke-width="1.1"/>
<path d="M130.8,477.8H138.8M134.8,473.8V481.8M131.9,474.9L137.7,480.6M131.9,480.6L137.7,474.9M130.4,490.9H138.4M134.4,486.9V494.9M131.5,488.1L137.3,493.8M131.5,493.8L137.3,488.1M129.6,496.1H137.6M133.6,492.1V500.1M130.8,493.2L136.5,498.9M130.8,498.9L136.5,493.2M138.4,515.8H146.4M142.4,511.8V519.8M139.6,513.0L145.3,518.7M139.6,518.7L145.3,513.0M128.2,518.8H136.2M132.2,514.8V522.8M129.3,515.9L135.1,521.7M129.3,521.7L135.1,515.9M150.2,526.1H158.2M154.2,522.1V530.1M151.3,523.2L157.0,529.0M151.3,529.0L157.0,523.2M150.2,532.7H158.2M154.2,528.7V536.7M151.3,529.8L157.0,535.6M151.3,535.6L157.0,529.8M123.1,536.4H131.1M127.1,532.4V540.4M124.2,533.5L129.9,539.2M124.2,539.2L129.9,533.5M137.0,538.5H145.0M141.0,534.5V542.5M138.1,535.7L143.9,541.4M138.1,541.4L143.9,535.7M141.4,535.6H149.4M145.4,531.6V539.6M142.5,532.7L148.2,538.5M142.5,538.5L148.2,532.7M159.7,536.4H167.7M163.7,532.4V540.4M160.8,533.5L166.6,539.2M160.8,539.2L166.6,533.5M163.3,525.4H171.3M167.3,521.4V529.4M164.5,522.5L170.2,528.2M164.5,528.2L170.2,522.5M175.1,526.8H183.1M179.1,522.8V530.8M176.2,524.0L181.9,529.7M176.2,529.7L181.9,524.0M185.3,542.9H193.3M189.3,538.9V546.9M186.4,540.1L192.2,545.8M186.4,545.8L192.2,540.1M189.7,540.7H197.7M193.7,536.7V544.7M190.8,537.9L196.6,543.6M190.8,543.6L196.6,537.9M195.6,521.0H203.6M199.6,517.0V525.0M196.7,518.1L202.4,523.9M196.7,523.9L202.4,518.1M186.8,500.5H194.8M190.8,496.5V504.5M187.9,497.6L193.7,503.3M187.9,503.3L193.7,497.6M205.8,499.0H213.8M209.8,495.0V503.0M206.9,496.1L212.7,501.9M206.9,501.9L212.7,496.1M211.7,510.0H219.7M215.7,506.0V514.0M212.8,507.1L218.6,512.9M212.8,512.9L218.6,507.1M226.3,515.8H234.3M230.3,511.8V519.8M227.4,513.0L233.2,518.7M227.4,518.7L233.2,513.0M228.5,522.4H236.5M232.5,518.4V526.4M229.6,519.6L235.4,525.3M229.6,525.3L235.4,519.6M220.5,533.4H228.5M224.5,529.4V537.4M221.6,530.5L227.3,536.3M221.6,536.3L227.3,530.5M210.2,538.5H218.2M214.2,534.5V542.5M211.3,535.7L217.1,541.4M211.3,541.4L217.1,535.7M232.9,540.7H240.9M236.9,536.7V544.7M234.0,537.9L239.8,543.6M234.0,543.6L239.8,537.9M220.5,531.2H228.5M224.5,527.2V535.2M221.6,528.3L227.3,534.1M221.6,534.1L227.3,528.3M281.1,517.3H289.1M285.1,513.3V521.3M282.2,514.4L288.0,520.2M282.2,520.2L288.0,514.4M278.2,523.2H286.2M282.2,519.2V527.2M279.3,520.3L285.1,526.0M279.3,526.0L285.1,520.3M273.8,530.5H281.8M277.8,526.5V534.5M274.9,527.6L280.7,533.4M274.9,533.4L280.7,527.6M265.0,527.6H273.0M269.0,523.6V531.6M266.1,524.7L271.9,530.4M266.1,530.4L271.9,524.7M287.0,529.0H295.0M291.0,525.0V533.0M288.1,526.1L293.9,531.9M288.1,531.9L293.9,526.1M289.9,534.9H297.9M293.9,530.9V538.9M291.0,532.0L296.8,537.8M291.0,537.8L296.8,532.0M284.0,536.4H292.0M288.0,532.4V540.4M285.2,533.5L290.9,539.2M285.2,539.2L290.9,533.5M276.7,539.3H284.7M280.7,535.3V543.3M277.8,536.4L283.6,542.2M277.8,542.2L283.6,536.4M272.3,544.4H280.3M276.3,540.4V548.4M273.4,541.5L279.2,547.3M273.4,547.3L279.2,541.5M294.3,517.3H302.3M298.3,513.3V521.3M295.4,514.4L301.2,520.2M295.4,520.2L301.2,514.4M300.2,518.8H308.2M304.2,514.8V522.8M301.3,515.9L307.0,521.7M301.3,521.7L307.0,515.9M306.0,520.2H314.0M310.0,516.2V524.2M307.1,517.4L312.9,523.1M307.1,523.1L312.9,517.4M311.9,517.3H319.9M315.9,513.3V521.3M313.0,514.4L318.8,520.2M313.0,520.2L318.8,514.4M317.7,515.8H325.7M321.7,511.8V519.8M318.9,513.0L324.6,518.7M318.9,518.7L324.6,513.0M323.6,514.4H331.6M327.6,510.4V518.4M324.7,511.5L330.5,517.3M324.7,517.3L330.5,511.5M328.0,518.8H336.0M332.0,514.8V522.8M329.1,515.9L334.9,521.7M329.1,521.7L334.9,515.9M333.8,520.2H341.8M337.8,516.2V524.2M335.0,517.4L340.7,523.1M335.0,523.1L340.7,517.4M301.6,526.1H309.6M305.6,522.1V530.1M302.7,523.2L308.5,529.0M302.7,529.0L308.5,523.2M308.9,529.0H316.9M312.9,525.0V533.0M310.1,526.1L315.8,531.9M310.1,531.9L315.8,526.1M316.3,524.6H324.3M320.3,520.6V528.6M317.4,521.8L323.1,527.5M317.4,527.5L323.1,521.8M323.6,523.2H331.6M327.6,519.2V527.2M324.7,520.3L330.5,526.0M324.7,526.0L330.5,520.3M329.4,530.5H337.4M333.4,526.5V534.5M330.6,527.6L336.3,533.4M330.6,533.4L336.3,527.6M323.6,534.9H331.6M327.6,530.9V538.9M324.7,532.0L330.5,537.8M324.7,537.8L330.5,532.0M335.3,537.8H343.3M339.3,533.8V541.8M336.4,534.9L342.2,540.7M336.4,540.7L342.2,534.9M341.2,534.9H349.2M345.2,530.9V538.9M342.3,532.0L348.0,537.8M342.3,537.8L348.0,532.0M344.1,540.7H352.1M348.1,536.7V544.7M345.2,537.9L351.0,543.6M345.2,543.6L351.0,537.9M295.8,540.7H303.8M299.8,536.7V544.7M296.9,537.9L302.6,543.6M296.9,543.6L302.6,537.9M303.1,543.7H311.1M307.1,539.7V547.7M304.2,540.8L310.0,546.6M304.2,546.6L310.0,540.8M308.9,534.9H316.9M312.9,530.9V538.9M310.1,532.0L315.8,537.8M310.1,537.8L315.8,532.0M295.8,529.0H303.8M299.8,525.0V533.0M296.9,526.1L302.6,531.9M296.9,531.9L302.6,526.1M452.9,574.6H460.9M456.9,570.6V578.6M454.0,571.8L459.8,577.5M454.0,577.5L459.8,571.8M459.1,582.9H467.1M463.1,578.9V586.9M460.2,580.0L466.0,585.8M460.2,585.8L466.0,580.0M462.2,586.0H470.2M466.2,582.0V590.0M463.3,583.1L469.1,588.9M463.3,588.9L469.1,583.1M445.6,589.1H453.6M449.6,585.1V593.1M446.8,586.2L452.5,592.0M446.8,592.0L452.5,586.2M439.4,595.3H447.4M443.4,591.3V599.3M440.6,592.5L446.3,598.2M440.6,598.2L446.3,592.5M442.5,592.2H450.5M446.5,588.2V596.2M443.7,589.3L449.4,595.1M443.7,595.1L449.4,589.3M447.7,594.3H455.7M451.7,590.3V598.3M448.8,591.4L454.6,597.2M448.8,597.2L454.6,591.4M451.8,595.3H459.8M455.8,591.3V599.3M453.0,592.5L458.7,598.2M453.0,598.2L458.7,592.5M456.0,593.3H464.0M460.0,589.3V597.3M457.1,590.4L462.9,596.1M457.1,596.1L462.9,590.4M458.0,597.4H466.0M462.0,593.4V601.4M459.2,594.5L464.9,600.3M459.2,600.3L464.9,594.5M445.6,599.5H453.6M449.6,595.5V603.5M446.8,596.6L452.5,602.3M446.8,602.3L452.5,596.6M449.8,599.5H457.8M453.8,595.5V603.5M450.9,596.6L456.7,602.3M450.9,602.3L456.7,596.6M453.9,600.5H461.9M457.9,596.5V604.5M455.0,597.6L460.8,603.4M455.0,603.4L460.8,597.6M458.0,590.2H466.0M462.0,586.2V594.2M459.2,587.3L464.9,593.0M459.2,593.0L464.9,587.3M452.9,607.2H460.9M456.9,603.2V611.2M454.0,604.3L459.8,610.1M454.0,610.1L459.8,604.3M458.0,612.4H466.0M462.0,608.4V616.4M459.2,609.5L464.9,615.3M459.2,615.3L464.9,609.5M469.4,604.6H477.4M473.4,600.6V608.6M470.5,601.8L476.3,607.5M470.5,607.5L476.3,601.8M422.9,611.9H430.9M426.9,607.9V615.9M424.0,609.0L429.8,614.8M424.0,614.8L429.8,609.0M426.0,613.9H434.0M430.0,609.9V617.9M427.1,611.1L432.9,616.8M427.1,616.8L432.9,611.1M431.7,611.4H439.7M435.7,607.4V615.4M432.8,608.5L438.6,614.2M432.8,614.2L438.6,608.5M437.4,611.4H445.4M441.4,607.4V615.4M438.5,608.5L444.2,614.2M438.5,614.2L444.2,608.5M443.1,614.5H451.1M447.1,610.5V618.5M444.2,611.6L449.9,617.3M444.2,617.3L449.9,611.6M416.7,626.9H424.7M420.7,622.9V630.9M417.8,624.0L423.6,629.8M417.8,629.8L423.6,624.0M427.0,624.8H435.0M431.0,620.8V628.8M428.1,621.9L433.9,627.7M428.1,627.7L433.9,621.9M431.7,628.9H439.7M435.7,624.9V632.9M432.8,626.1L438.6,631.8M432.8,631.8L438.6,626.1M455.5,627.9H463.5M459.5,623.9V631.9M456.6,625.0L462.3,630.8M456.6,630.8L462.3,625.0M423.4,637.7H431.4M427.4,633.7V641.7M424.5,634.9L430.3,640.6M424.5,640.6L430.3,634.9M439.4,638.2H447.4M443.4,634.2V642.2M440.6,635.4L446.3,641.1M440.6,641.1L446.3,635.4M397.0,646.0H405.0M401.0,642.0V650.0M398.2,643.1L403.9,648.9M398.2,648.9L403.9,643.1M398.1,652.2H406.1M402.1,648.2V656.2M399.2,649.3L404.9,655.1M399.2,655.1L404.9,649.3M412.5,653.2H420.5M416.5,649.2V657.2M413.7,650.4L419.4,656.1M413.7,656.1L419.4,650.4M420.8,654.3H428.8M424.8,650.3V658.3M421.9,651.4L427.7,657.2M421.9,657.2L427.7,651.4M337.7,542.5H345.7M341.7,538.5V546.5M338.8,539.6L344.5,545.4M338.8,545.4L344.5,539.6M344.3,554.1H352.3M348.3,550.1V558.1M345.4,551.2L351.2,556.9M345.4,556.9L351.2,551.2M345.9,558.2H353.9M349.9,554.2V562.2M347.0,555.3L352.8,561.1M347.0,561.1L352.8,555.3M349.2,561.5H357.2M353.2,557.5V565.5M350.4,558.6L356.1,564.4M350.4,564.4L356.1,558.6M351.7,566.5H359.7M355.7,562.5V570.5M352.8,563.6L358.6,569.3M352.8,569.3L358.6,563.6M353.4,573.1H361.4M357.4,569.1V577.1M354.5,570.2L360.2,576.0M354.5,576.0L360.2,570.2M355.0,576.4H363.0M359.0,572.4V580.4M356.1,573.5L361.9,579.3M356.1,579.3L361.9,573.5M356.7,580.5H364.7M360.7,576.5V584.5M357.8,577.6L363.6,583.4M357.8,583.4L363.6,577.6M358.3,583.8H366.3M362.3,579.8V587.8M359.5,581.0L365.2,586.7M359.5,586.7L365.2,581.0M360.0,587.1H368.0M364.0,583.1V591.1M361.1,584.3L366.9,590.0M361.1,590.0L366.9,584.3M361.6,592.9H369.6M365.6,588.9V596.9M362.8,590.1L368.5,595.8M362.8,595.8L368.5,590.1M364.1,597.9H372.1M368.1,593.9V601.9M365.2,595.0L371.0,600.8M365.2,600.8L371.0,595.0M365.8,600.4H373.8M369.8,596.4V604.4M366.9,597.5L372.7,603.3M366.9,603.3L372.7,597.5M369.9,582.2H377.9M373.9,578.2V586.2M371.0,579.3L376.8,585.1M371.0,585.1L376.8,579.3M378.2,607.8H386.2M382.2,603.8V611.8M379.3,604.9L385.1,610.7M379.3,610.7L385.1,604.9M359.2,612.0H367.2M363.2,608.0V616.0M360.3,609.1L366.0,614.8M360.3,614.8L366.0,609.1M368.3,614.4H376.3M372.3,610.4V618.4M369.4,611.6L375.1,617.3M369.4,617.3L375.1,611.6M370.7,613.6H378.7M374.7,609.6V617.6M371.9,610.7L377.6,616.5M371.9,616.5L377.6,610.7M379.0,616.1H387.0M383.0,612.1V620.1M380.1,613.2L385.9,619.0M380.1,619.0L385.9,613.2M359.3,612.6H367.3M363.3,608.6V616.6M360.4,609.7L366.1,615.5M360.4,615.5L366.1,609.7M367.5,615.2H375.5M371.5,611.2V619.2M368.7,612.3L374.4,618.1M368.7,618.1L374.4,612.3M370.6,614.7H378.6M374.6,610.7V618.7M371.8,611.8L377.5,617.5M371.8,617.5L377.5,611.8M378.9,617.2H386.9M382.9,613.2V621.2M380.0,614.4L385.8,620.1M380.0,620.1L385.8,614.4M368.1,627.6H376.1M372.1,623.6V631.6M369.2,624.7L374.9,630.5M369.2,630.5L374.9,624.7M375.3,639.0H383.3M379.3,635.0V643.0M376.4,636.1L382.2,641.8M376.4,641.8L382.2,636.1M380.5,642.1H388.5M384.5,638.1V646.1M381.6,639.2L387.3,644.9M381.6,644.9L387.3,639.2M384.6,644.1H392.6M388.6,640.1V648.1M385.7,641.2L391.5,647.0M385.7,647.0L391.5,641.2M387.7,643.6H395.7M391.7,639.6V647.6M388.8,640.7L394.6,646.5M388.8,646.5L394.6,640.7M389.8,644.1H397.8M393.8,640.1V648.1M390.9,641.2L396.7,647.0M390.9,647.0L396.7,641.2M396.0,646.2H404.0M400.0,642.2V650.2M397.1,643.3L402.9,649.1M397.1,649.1L402.9,643.3M398.0,652.4H406.0M402.0,648.4V656.4M399.2,649.5L404.9,655.3M399.2,655.3L404.9,649.5M379.4,650.3H387.4M383.4,646.3V654.3M380.6,647.5L386.3,653.2M380.6,653.2L386.3,647.5M375.3,657.6H383.3M379.3,653.6V661.6M376.4,654.7L382.2,660.4M376.4,660.4L382.2,654.7M385.6,655.5H393.6M389.6,651.5V659.5M386.8,652.6L392.5,658.4M386.8,658.4L392.5,652.6M388.7,654.5H396.7M392.7,650.5V658.5M389.9,651.6L395.6,657.3M389.9,657.3L395.6,651.6M390.8,661.7H398.8M394.8,657.7V665.7M391.9,658.8L397.7,664.6M391.9,664.6L397.7,658.8M382.5,660.7H390.5M386.5,656.7V664.7M383.7,657.8L389.4,663.6M383.7,663.6L389.4,657.8M381.5,666.4H389.5M385.5,662.4V670.4M382.6,663.5L388.4,669.2M382.6,669.2L388.4,663.5M386.7,668.9H394.7M390.7,664.9V672.9M387.8,666.1L393.6,671.8M387.8,671.8L393.6,666.1M387.7,672.0H395.7M391.7,668.0V676.0M388.8,669.2L394.6,674.9M388.8,674.9L394.6,669.2M402.2,660.7H410.2M406.2,656.7V664.7M403.3,657.8L409.1,663.6M403.3,663.6L409.1,657.8M403.2,665.8H411.2M407.2,661.8V669.8M404.3,663.0L410.1,668.7M404.3,668.7L410.1,663.0M389.8,678.3H397.8M393.8,674.3V682.3M390.9,675.4L396.7,681.1M390.9,681.1L396.7,675.4M391.8,684.5H399.8M395.8,680.5V688.5M393.0,681.6L398.7,687.3M393.0,687.3L398.7,681.6M399.1,682.4H407.1M403.1,678.4V686.4M400.2,679.5L406.0,685.3M400.2,685.3L406.0,679.5M398.0,690.7H406.0M402.0,686.7V694.7M399.2,687.8L404.9,693.5M399.2,693.5L404.9,687.8M396.0,694.8H404.0M400.0,690.8V698.8M397.1,691.9L402.9,697.7M397.1,697.7L402.9,691.9M412.5,654.5H420.5M416.5,650.5V658.5M413.6,651.6L419.4,657.3M413.6,657.3L419.4,651.6M420.8,657.6H428.8M424.8,653.6V661.6M421.9,654.7L427.7,660.4M421.9,660.4L427.7,654.7M412.5,663.8H420.5M416.5,659.8V667.8M413.6,660.9L419.4,666.7M413.6,666.7L419.4,660.9M414.6,670.0H422.6M418.6,666.0V674.0M415.7,667.1L421.5,672.9M415.7,672.9L421.5,667.1M415.6,672.0H423.6M419.6,668.0V676.0M416.7,669.2L422.5,674.9M416.7,674.9L422.5,669.2M416.7,683.4H424.7M420.7,679.4V687.4M417.8,680.5L423.5,686.3M417.8,686.3L423.5,680.5M422.9,613.1H430.9M426.9,609.1V617.1M424.0,610.2L429.7,616.0M424.0,616.0L429.7,610.2M427.0,614.7H435.0M431.0,610.7V618.7M428.1,611.8L433.9,617.5M428.1,617.5L433.9,611.8M431.1,612.1H439.1M435.1,608.1V616.1M432.3,609.2L438.0,614.9M432.3,614.9L438.0,609.2M416.7,626.5H424.7M420.7,622.5V630.5M417.8,623.7L423.5,629.4M417.8,629.4L423.5,623.7M426.0,624.5H434.0M430.0,620.5V628.5M427.1,621.6L432.8,627.4M427.1,627.4L432.8,621.6M431.1,629.1H439.1M435.1,625.1V633.1M432.3,626.3L438.0,632.0M432.3,632.0L438.0,626.3M422.9,637.4H430.9M426.9,633.4V641.4M424.0,634.5L429.7,640.3M424.0,640.3L429.7,634.5M263.6,533.9H271.6M267.6,529.9V537.9M264.7,531.0L270.5,536.8M264.7,536.8L270.5,531.0M274.3,532.0H282.3M278.3,528.0V536.0M275.4,529.1L281.2,534.8M275.4,534.8L281.2,529.1M276.3,539.8H284.3M280.3,535.8V543.8M277.4,536.9L283.2,542.6M277.4,542.6L283.2,536.9M271.9,545.6H279.9M275.9,541.6V549.6M273.0,542.7L278.8,548.5M273.0,548.5L278.8,542.7M257.2,548.6H265.2M261.2,544.6V552.6M258.4,545.7L264.1,551.4M258.4,551.4L264.1,545.7M260.6,552.5H268.6M264.6,548.5V556.5M261.8,549.6L267.5,555.3M261.8,555.3L267.5,549.6M263.6,555.4H271.6M267.6,551.4V559.4M264.7,552.5L270.5,558.3M264.7,558.3L270.5,552.5M268.5,557.3H276.5M272.5,553.3V561.3M269.6,554.5L275.3,560.2M269.6,560.2L275.3,554.5M270.4,556.4H278.4M274.4,552.4V560.4M271.5,553.5L277.3,559.2M271.5,559.2L277.3,553.5M258.7,570.5H266.7M262.7,566.5V574.5M259.8,567.6L265.6,573.4M259.8,573.4L265.6,567.6M287.0,553.4H295.0M291.0,549.4V557.4M288.1,550.6L293.9,556.3M288.1,556.3L293.9,550.6M302.6,545.6H310.6M306.6,541.6V549.6M303.8,542.7L309.5,548.5M303.8,548.5L309.5,542.7M294.8,543.7H302.8M298.8,539.7V547.7M295.9,540.8L301.7,546.6M295.9,546.6L301.7,540.8M289.0,541.7H297.0M293.0,537.7V545.7M290.1,538.8L295.8,544.6M290.1,544.6L295.8,538.8M290.9,535.9H298.9M294.9,531.9V539.9M292.0,533.0L297.8,538.7M292.0,538.7L297.8,533.0M284.1,534.9H292.1M288.1,530.9V538.9M285.2,532.0L291.0,537.8M285.2,537.8L291.0,532.0M304.6,533.9H312.6M308.6,529.9V537.9M305.7,531.0L311.5,536.8M305.7,536.8L311.5,531.0M312.4,532.0H320.4M316.4,528.0V536.0M313.5,529.1L319.3,534.8M313.5,534.8L319.3,529.1M323.1,532.9H331.1M327.1,528.9V536.9M324.3,530.0L330.0,535.8M324.3,535.8L330.0,530.0M323.1,535.9H331.1M327.1,531.9V539.9M324.3,533.0L330.0,538.7M324.3,538.7L330.0,533.0M331.0,532.0H339.0M335.0,528.0V536.0M332.1,529.1L337.8,534.8M332.1,534.8L337.8,529.1M330.0,547.6H338.0M334.0,543.6V551.6M331.1,544.7L336.9,550.5M331.1,550.5L336.9,544.7M334.9,540.7H342.9M338.9,536.7V544.7M336.0,537.9L341.7,543.6M336.0,543.6L341.7,537.9M338.8,543.7H346.8M342.8,539.7V547.7M339.9,540.8L345.7,546.6M339.9,546.6L345.7,540.8M339.8,536.8H347.8M343.8,532.8V540.8M340.9,534.0L346.6,539.7M340.9,539.7L346.6,534.0M343.7,538.8H351.7M347.7,534.8V542.8M344.8,535.9L350.5,541.7M344.8,541.7L350.5,535.9M343.7,554.4H351.7M347.7,550.4V558.4M344.8,551.5L350.5,557.3M344.8,557.3L350.5,551.5M343.7,560.3H351.7M347.7,556.3V564.3M344.8,557.4L350.5,563.2M344.8,563.2L350.5,557.4M281.3,516.9H289.3M285.3,512.9V520.9M282.4,514.0L288.2,519.8M282.4,519.8L288.2,514.0M277.4,523.7H285.4M281.4,519.7V527.7M278.5,520.8L284.2,526.6M278.5,526.6L284.2,520.8M264.7,524.7H272.7M268.7,520.7V528.7M265.8,521.8L271.6,527.6M265.8,527.6L271.6,521.8M263.7,533.5H271.7M267.7,529.5V537.5M264.8,530.6L270.6,536.4M264.8,536.4L270.6,530.6M272.5,531.5H280.5M276.5,527.5V535.5M273.6,528.6L279.4,534.4M273.6,534.4L279.4,528.6M276.4,538.4H284.4M280.4,534.4V542.4M277.5,535.5L283.3,541.2M277.5,541.2L283.3,535.5M271.5,546.2H279.5M275.5,542.2V550.2M272.6,543.3L278.4,549.1M272.6,549.1L278.4,543.3M256.9,548.1H264.9M260.9,544.1V552.1M258.0,545.2L263.7,551.0M258.0,551.0L263.7,545.2M285.2,532.5H293.2M289.2,528.5V536.5M286.3,529.6L292.1,535.4M286.3,535.4L292.1,529.6M288.1,538.4H296.1M292.1,534.4V542.4M289.2,535.5L295.0,541.2M289.2,541.2L295.0,535.5M293.0,534.5H301.0M297.0,530.5V538.5M294.1,531.6L299.9,537.3M294.1,537.3L299.9,531.6M295.9,530.5H303.9M299.9,526.5V534.5M297.0,527.7L302.8,533.4M297.0,533.4L302.8,527.7M291.0,542.3H299.0M295.0,538.3V546.3M292.2,539.4L297.9,545.1M292.2,545.1L297.9,539.4M296.9,544.2H304.9M300.9,540.2V548.2M298.0,541.3L303.8,547.1M298.0,547.1L303.8,541.3M301.8,545.2H309.8M305.8,541.2V549.2M302.9,542.3L308.7,548.1M302.9,548.1L308.7,542.3M303.7,534.5H311.7M307.7,530.5V538.5M304.9,531.6L310.6,537.3M304.9,537.3L310.6,531.6M309.6,530.5H317.6M313.6,526.5V534.5M310.7,527.7L316.5,533.4M310.7,533.4L316.5,527.7M296.9,518.8H304.9M300.9,514.8V522.8M298.0,515.9L303.8,521.7M298.0,521.7L303.8,515.9M301.8,518.8H309.8M305.8,514.8V522.8M302.9,515.9L308.7,521.7M302.9,521.7L308.7,515.9M305.7,520.8H313.7M309.7,516.8V524.8M306.8,517.9L312.6,523.7M306.8,523.7L312.6,517.9M311.5,518.8H319.5M315.5,514.8V522.8M312.7,515.9L318.4,521.7M312.7,521.7L318.4,515.9M317.4,515.9H325.4M321.4,511.9V519.9M318.5,513.0L324.3,518.8M318.5,518.8L324.3,513.0M319.4,522.7H327.4M323.4,518.7V526.7M320.5,519.9L326.2,525.6M320.5,525.6L326.2,519.9M323.3,518.8H331.3M327.3,514.8V522.8M324.4,515.9L330.1,521.7M324.4,521.7L330.1,515.9M327.2,520.8H335.2M331.2,516.8V524.8M328.3,517.9L334.1,523.7M328.3,523.7L334.1,517.9M331.1,519.8H339.1M335.1,515.8V523.8M332.2,516.9L338.0,522.7M332.2,522.7L338.0,516.9M335.0,522.7H343.0M339.0,518.7V526.7M336.1,519.9L341.9,525.6M336.1,525.6L341.9,519.9M323.3,532.5H331.3M327.3,528.5V536.5M324.4,529.6L330.1,535.4M324.4,535.4L330.1,529.6M331.1,531.5H339.1M335.1,527.5V535.5M332.2,528.6L338.0,534.4M332.2,534.4L338.0,528.6M336.9,536.4H344.9M340.9,532.4V540.4M338.1,533.5L343.8,539.3M338.1,539.3L343.8,533.5M340.8,538.4H348.8M344.8,534.4V542.4M342.0,535.5L347.7,541.2M342.0,541.2L347.7,535.5M338.9,532.5H346.9M342.9,528.5V536.5M340.0,529.6L345.8,535.4M340.0,535.4L345.8,529.6M344.8,524.7H352.8M348.8,520.7V528.7M345.9,521.8L351.6,527.6M345.9,527.6L351.6,521.8M348.7,528.6H356.7M352.7,524.6V532.6M349.8,525.7L355.5,531.5M349.8,531.5L355.5,525.7M330.1,547.1H338.1M334.1,543.1V551.1M331.2,544.3L337.0,550.0M331.2,550.0L337.0,544.3M297.9,522.7H305.9M301.9,518.7V526.7M299.0,519.9L304.8,525.6M299.0,525.6L304.8,519.9M314.5,520.8H322.5M318.5,516.8V524.8M315.6,517.9L321.4,523.7M315.6,523.7L321.4,517.9M130.7,477.9H138.7M134.7,473.9V481.9M131.8,475.0L137.5,480.8M131.8,480.8L137.5,475.0M130.7,490.2H138.7M134.7,486.2V494.2M131.8,487.3L137.5,493.1M131.8,493.1L137.5,487.3M131.5,495.5H139.5M135.5,491.5V499.5M132.7,492.6L138.4,498.4M132.7,498.4L138.4,492.6M186.0,499.9H194.0M190.0,495.9V503.9M187.1,497.0L192.9,502.8M187.1,502.8L192.9,497.0M128.9,518.3H136.9M132.9,514.3V522.3M130.0,515.5L135.8,521.2M130.0,521.2L135.8,515.5M138.6,516.6H146.6M142.6,512.6V520.6M139.7,513.7L145.5,519.5M139.7,519.5L145.5,513.7M150.0,531.5H158.0M154.0,527.5V535.5M151.1,528.6L156.9,534.4M151.1,534.4L156.9,528.6M163.2,524.5H171.2M167.2,520.5V528.5M164.3,521.6L170.1,527.4M164.3,527.4L170.1,521.6M174.6,527.1H182.6M178.6,523.1V531.1M175.7,524.2L181.5,530.0M175.7,530.0L181.5,524.2M195.7,521.0H203.7M199.7,517.0V525.0M196.8,518.1L202.6,523.8M196.8,523.8L202.6,518.1M205.4,499.0H213.4M209.4,495.0V503.0M206.5,496.1L212.2,501.9M206.5,501.9L212.2,496.1M208.9,510.4H216.9M212.9,506.4V514.4M210.0,507.5L215.8,513.3M210.0,513.3L215.8,507.5M123.6,536.8H131.6M127.6,532.8V540.8M124.8,533.9L130.5,539.7M124.8,539.7L130.5,533.9M137.7,536.8H145.7M141.7,532.8V540.8M138.8,533.9L144.6,539.7M138.8,539.7L144.6,533.9M142.1,535.9H150.1M146.1,531.9V539.9M143.2,533.0L149.0,538.8M143.2,538.8L149.0,533.0M159.7,536.8H167.7M163.7,532.8V540.8M160.8,533.9L166.5,539.7M160.8,539.7L166.5,533.9M442.0,592.7H450.0M446.0,588.7V596.7M443.2,589.9L448.9,595.6M443.2,595.6L448.9,589.9M447.3,591.0H455.3M451.3,587.0V595.0M448.4,588.1L454.2,593.9M448.4,593.9L454.2,588.1M449.1,596.3H457.1M453.1,592.3V600.3M450.2,593.4L455.9,599.1M450.2,599.1L455.9,593.4M452.6,598.0H460.6M456.6,594.0V602.0M453.7,595.1L459.5,600.9M453.7,600.9L459.5,595.1M445.5,599.8H453.5M449.5,595.8V603.8M446.7,596.9L452.4,602.7M446.7,602.7L452.4,596.9M456.1,592.7H464.1M460.1,588.7V596.7M457.2,589.9L463.0,595.6M457.2,595.6L463.0,589.9M459.6,585.7H467.6M463.6,581.7V589.7M460.7,582.8L466.5,588.6M460.7,588.6L466.5,582.8M457.9,591.0H465.9M461.9,587.0V595.0M459.0,588.1L464.7,593.9M459.0,593.9L464.7,588.1M450.8,603.3H458.8M454.8,599.3V607.3M451.9,600.4L457.7,606.2M451.9,606.2L457.7,600.4M440.3,596.3H448.3M444.3,592.3V600.3M441.4,593.4L447.2,599.1M441.4,599.1L447.2,593.4M443.8,589.2H451.8M447.8,585.2V593.2M444.9,586.3L450.7,592.1M444.9,592.1L450.7,586.3M454.3,601.5H462.3M458.3,597.5V605.5M455.5,598.7L461.2,604.4M455.5,604.4L461.2,598.7M449.1,592.7H457.1M453.1,588.7V596.7M450.2,589.9L455.9,595.6M450.2,595.6L455.9,589.9M175.4,513.2H183.4M179.4,509.2V517.2M176.5,510.3L182.3,516.1M176.5,516.1L182.3,510.3M168.8,503.8H176.8M172.8,499.8V507.8M169.9,500.9L175.7,506.7M169.9,506.7L175.7,500.9M166.2,510.3H174.2M170.2,506.3V514.3M167.4,507.5L173.1,513.2M167.4,513.2L173.1,507.5M165.2,500.5H173.2M169.2,496.5V504.5M166.4,497.6L172.1,503.4M166.4,503.4L172.1,497.6M159.2,505.7H167.2M163.2,501.7V509.7M160.3,502.8L166.1,508.5M160.3,508.5L166.1,502.8M180.0,509.0H188.0M184.0,505.0V513.0M181.1,506.1L186.9,511.9M181.1,511.9L186.9,506.1M159.8,502.9H167.8M163.8,498.9V506.9M160.9,500.0L166.7,505.8M160.9,505.8L166.7,500.0M160.6,504.0H168.6M164.6,500.0V508.0M161.7,501.1L167.5,506.9M161.7,506.9L167.5,501.1M157.2,516.6H165.2M161.2,512.6V520.6M158.3,513.7L164.1,519.5M158.3,519.5L164.1,513.7M163.0,509.3H171.0M167.0,505.3V513.3M164.2,506.5L169.9,512.2M164.2,512.2L169.9,506.5M155.0,500.0H163.0M159.0,496.0V504.0M156.1,497.1L161.9,502.9M156.1,502.9L161.9,497.1M162.4,519.0H170.4M166.4,515.0V523.0M163.5,516.1L169.3,521.9M163.5,521.9L169.3,516.1M169.0,501.0H177.0M173.0,497.0V505.0M170.1,498.1L175.9,503.9M170.1,503.9L175.9,498.1M177.7,514.5H185.7M181.7,510.5V518.5M178.9,511.6L184.6,517.4M178.9,517.4L184.6,511.6M171.4,516.9H179.4M175.4,512.9V520.9M172.5,514.1L178.3,519.8M172.5,519.8L178.3,514.1M172.5,514.4H180.5M176.5,510.4V518.4M173.6,511.5L179.4,517.3M173.6,517.3L179.4,511.5M172.2,512.7H180.2M176.2,508.7V516.7M173.3,509.9L179.0,515.6M173.3,515.6L179.0,509.9M160.5,508.7H168.5M164.5,504.7V512.7M161.6,505.8L167.3,511.5M161.6,511.5L167.3,505.8M161.6,517.3H169.6M165.6,513.3V521.3M162.7,514.5L168.5,520.2M162.7,520.2L168.5,514.5M162.0,515.3H170.0M166.0,511.3V519.3M163.2,512.4L168.9,518.2M163.2,518.2L168.9,512.4M156.2,516.4H164.2M160.2,512.4V520.4M157.3,513.5L163.0,519.3M157.3,519.3L163.0,513.5M178.0,507.1H186.0M182.0,503.1V511.1M179.1,504.3L184.9,510.0M179.1,510.0L184.9,504.3M164.7,517.2H172.7M168.7,513.2V521.2M165.8,514.4L171.6,520.1M165.8,520.1L171.6,514.4M171.0,507.7H179.0M175.0,503.7V511.7M172.1,504.8L177.8,510.6M172.1,510.6L177.8,504.8M150.9,504.1H158.9M154.9,500.1V508.1M152.0,501.3L157.8,507.0M152.0,507.0L157.8,501.3M170.0,500.7H178.0M174.0,496.7V504.7M171.1,497.8L176.9,503.5M171.1,503.5L176.9,497.8M178.3,502.9H186.3M182.3,498.9V506.9M179.4,500.0L185.2,505.8M179.4,505.8L185.2,500.0M178.5,503.8H186.5M182.5,499.8V507.8M179.6,500.9L185.3,506.7M179.6,506.7L185.3,500.9M162.2,508.4H170.2M166.2,504.4V512.4M163.3,505.5L169.0,511.3M163.3,511.3L169.0,505.5M168.1,509.9H176.1M172.1,505.9V513.9M169.2,507.1L174.9,512.8M169.2,512.8L174.9,507.1M154.5,501.6H162.5M158.5,497.6V505.6M155.6,498.7L161.4,504.5M155.6,504.5L161.4,498.7M162.5,517.6H170.5M166.5,513.6V521.6M163.6,514.7L169.4,520.4M163.6,520.4L169.4,514.7M166.9,498.7H174.9M170.9,494.7V502.7M168.1,495.8L173.8,501.5M168.1,501.5L173.8,495.8M174.8,513.0H182.8M178.8,509.0V517.0M175.9,510.1L181.7,515.9M175.9,515.9L181.7,510.1M168.1,503.0H176.1M172.1,499.0V507.0M169.2,500.1L175.0,505.9M169.2,505.9L175.0,500.1M151.1,516.3H159.1M155.1,512.3V520.3M152.2,513.4L157.9,519.1M152.2,519.1L157.9,513.4M146.3,508.5H154.3M150.3,504.5V512.5M147.4,505.6L153.1,511.4M147.4,511.4L153.1,505.6M176.2,502.4H184.2M180.2,498.4V506.4M177.3,499.5L183.0,505.3M177.3,505.3L183.0,499.5M150.4,516.4H158.4M154.4,512.4V520.4M151.5,513.5L157.3,519.3M151.5,519.3L157.3,513.5M158.9,512.8H166.9M162.9,508.8V516.8M160.0,509.9L165.8,515.7M160.0,515.7L165.8,509.9M183.6,523.5H191.6M187.6,519.5V527.5M184.7,520.6L190.5,526.4M184.7,526.4L190.5,520.6M175.6,515.7H183.6M179.6,511.7V519.7M176.7,512.8L182.5,518.5M176.7,518.5L182.5,512.8M175.2,522.6H183.2M179.2,518.6V526.6M176.3,519.8L182.1,525.5M176.3,525.5L182.1,519.8M172.7,522.8H180.7M176.7,518.8V526.8M173.8,519.9L179.6,525.7M173.8,525.7L179.6,519.9M170.1,523.2H178.1M174.1,519.2V527.2M171.2,520.3L177.0,526.1M171.2,526.1L177.0,520.3M182.0,517.8H190.0M186.0,513.8V521.8M183.1,514.9L188.9,520.7M183.1,520.7L188.9,514.9M177.0,521.5H185.0M181.0,517.5V525.5M178.1,518.7L183.9,524.4M178.1,524.4L183.9,518.7M168.0,519.8H176.0M172.0,515.8V523.8M169.1,516.9L174.9,522.6M169.1,522.6L174.9,516.9M183.9,515.7H191.9M187.9,511.7V519.7M185.1,512.8L190.8,518.6M185.1,518.6L190.8,512.8M183.9,521.6H191.9M187.9,517.6V525.6M185.0,518.7L190.8,524.5M185.0,524.5L190.8,518.7M185.0,516.7H193.0M189.0,512.7V520.7M186.1,513.8L191.8,519.6M186.1,519.6L191.8,513.8M183.9,518.2H191.9M187.9,514.2V522.2M185.0,515.4L190.8,521.1M185.0,521.1L190.8,515.4M300.3,514.9H308.3M304.3,510.9V518.9M301.4,512.0L307.2,517.7M301.4,517.7L307.2,512.0M308.6,515.8H316.6M312.6,511.8V519.8M309.7,512.9L315.5,518.7M309.7,518.7L315.5,512.9M291.5,520.2H299.5M295.5,516.2V524.2M292.6,517.3L298.3,523.1M292.6,523.1L298.3,517.3M327.8,517.0H335.8M331.8,513.0V521.0M328.9,514.1L334.7,519.9M328.9,519.9L334.7,514.1M315.9,518.0H323.9M319.9,514.0V522.0M317.0,515.1L322.8,520.9M317.0,520.9L322.8,515.1M331.1,527.5H339.1M335.1,523.5V531.5M332.2,524.6L338.0,530.4M332.2,530.4L338.0,524.6M329.6,516.5H337.6M333.6,512.5V520.5M330.7,513.6L336.5,519.4M330.7,519.4L336.5,513.6M304.1,524.3H312.1M308.1,520.3V528.3M305.2,521.4L311.0,527.2M305.2,527.2L311.0,521.4M326.1,528.4H334.1M330.1,524.4V532.4M327.2,525.5L332.9,531.3M327.2,531.3L332.9,525.5M319.5,525.1H327.5M323.5,521.1V529.1M320.6,522.2L326.4,528.0M320.6,528.0L326.4,522.2M314.3,516.2H322.3M318.3,512.2V520.2M315.4,513.3L321.2,519.1M315.4,519.1L321.2,513.3M312.6,514.6H320.6M316.6,510.6V518.6M313.7,511.7L319.5,517.5M313.7,517.5L319.5,511.7M316.5,518.4H324.5M320.5,514.4V522.4M317.6,515.5L323.4,521.3M317.6,521.3L323.4,515.5M335.3,523.3H343.3M339.3,519.3V527.3M336.4,520.4L342.1,526.2M336.4,526.2L342.1,520.4M314.4,520.5H322.4M318.4,516.5V524.5M315.6,517.6L321.3,523.3M315.6,523.3L321.3,517.6M319.1,520.8H327.1M323.1,516.8V524.8M320.3,517.9L326.0,523.6M320.3,523.6L326.0,517.9M296.4,518.5H304.4M300.4,514.5V522.5M297.5,515.6L303.3,521.4M297.5,521.4L303.3,515.6M290.4,524.3H298.4M294.4,520.3V528.3M291.5,521.4L297.3,527.2M291.5,527.2L297.3,521.4M302.6,522.6H310.6M306.6,518.6V526.6M303.7,519.7L309.5,525.5M303.7,525.5L309.5,519.7M312.5,519.2H320.5M316.5,515.2V523.2M313.6,516.3L319.4,522.1M313.6,522.1L319.4,516.3M309.5,516.6H317.5M313.5,512.6V520.6M310.6,513.8L316.3,519.5M310.6,519.5L316.3,513.8M320.9,518.0H328.9M324.9,514.0V522.0M322.0,515.1L327.8,520.9M322.0,520.9L327.8,515.1M306.5,526.4H314.5M310.5,522.4V530.4M307.6,523.6L313.4,529.3M307.6,529.3L313.4,523.6M304.7,523.1H312.7M308.7,519.1V527.1M305.8,520.2L311.6,525.9M305.8,525.9L311.6,520.2M327.8,524.1H335.8M331.8,520.1V528.1M328.9,521.2L334.7,527.0M328.9,527.0L334.7,521.2M300.3,519.0H308.3M304.3,515.0V523.0M301.5,516.1L307.2,521.8M301.5,521.8L307.2,516.1M297.2,521.3H305.2M301.2,517.3V525.3M298.4,518.4L304.1,524.1M298.4,524.1L304.1,518.4M290.2,525.6H298.2M294.2,521.6V529.6M291.3,522.7L297.1,528.4M291.3,528.4L297.1,522.7M309.3,530.0H317.3M313.3,526.0V534.0M310.5,527.1L316.2,532.9M310.5,532.9L316.2,527.1M320.3,527.7H328.3M324.3,523.7V531.7M321.4,524.8L327.1,530.6M321.4,530.6L327.1,524.8M352.7,574.4H360.7M356.7,570.4V578.4M353.8,571.5L359.6,577.3M353.8,577.3L359.6,571.5M363.5,596.4H371.5M367.5,592.4V600.4M364.6,593.5L370.4,599.2M364.6,599.2L370.4,593.5M353.8,577.1H361.8M357.8,573.1V581.1M354.9,574.2L360.7,579.9M354.9,579.9L360.7,574.2M347.0,561.7H355.0M351.0,557.7V565.7M348.1,558.8L353.9,564.6M348.1,564.6L353.9,558.8M355.5,583.2H363.5M359.5,579.2V587.2M356.7,580.3L362.4,586.1M356.7,586.1L362.4,580.3M346.0,557.0H354.0M350.0,553.0V561.0M347.1,554.1L352.8,559.9M347.1,559.9L352.8,554.1M343.6,557.9H351.6M347.6,553.9V561.9M344.7,555.0L350.5,560.8M344.7,560.8L350.5,555.0M360.3,584.6H368.3M364.3,580.6V588.6M361.5,581.7L367.2,587.5M361.5,587.5L367.2,581.7M362.5,600.1H370.5M366.5,596.1V604.1M363.6,597.3L369.4,603.0M363.6,603.0L369.4,597.3M356.9,584.0H364.9M360.9,580.0V588.0M358.0,581.1L363.7,586.9M358.0,586.9L363.7,581.1M348.7,559.4H356.7M352.7,555.4V563.4M349.8,556.5L355.5,562.3M349.8,562.3L355.5,556.5M356.6,576.9H364.6M360.6,572.9V580.9M357.7,574.0L363.5,579.8M357.7,579.8L363.5,574.0M348.4,561.4H356.4M352.4,557.4V565.4M349.5,558.5L355.2,564.3M349.5,564.3L355.2,558.5M343.8,554.3H351.8M347.8,550.3V558.3M344.9,551.5L350.7,557.2M344.9,557.2L350.7,551.5" fill="none" stroke="#000" stroke-width="1"/>
<path d="M133.5,476.5h2.6v2.6h-2.6zM133.1,489.6h2.6v2.6h-2.6zM132.3,494.8h2.6v2.6h-2.6zM141.1,514.5h2.6v2.6h-2.6zM130.9,517.5h2.6v2.6h-2.6zM152.9,524.8h2.6v2.6h-2.6zM152.9,531.4h2.6v2.6h-2.6zM125.8,535.1h2.6v2.6h-2.6zM139.7,537.2h2.6v2.6h-2.6zM144.1,534.3h2.6v2.6h-2.6zM162.4,535.1h2.6v2.6h-2.6zM166.0,524.1h2.6v2.6h-2.6zM177.8,525.5h2.6v2.6h-2.6zM188.0,541.6h2.6v2.6h-2.6zM192.4,539.4h2.6v2.6h-2.6zM198.3,519.7h2.6v2.6h-2.6zM189.5,499.2h2.6v2.6h-2.6zM208.5,497.7h2.6v2.6h-2.6zM214.4,508.7h2.6v2.6h-2.6zM229.0,514.5h2.6v2.6h-2.6zM231.2,521.1h2.6v2.6h-2.6zM223.2,532.1h2.6v2.6h-2.6zM212.9,537.2h2.6v2.6h-2.6zM235.6,539.4h2.6v2.6h-2.6zM223.2,529.9h2.6v2.6h-2.6zM283.8,516.0h2.6v2.6h-2.6zM280.9,521.9h2.6v2.6h-2.6zM276.5,529.2h2.6v2.6h-2.6zM267.7,526.3h2.6v2.6h-2.6zM289.7,527.7h2.6v2.6h-2.6zM292.6,533.6h2.6v2.6h-2.6zM286.7,535.1h2.6v2.6h-2.6zM279.4,538.0h2.6v2.6h-2.6zM275.0,543.1h2.6v2.6h-2.6zM297.0,516.0h2.6v2.6h-2.6zM302.9,517.5h2.6v2.6h-2.6zM308.7,518.9h2.6v2.6h-2.6zM314.6,516.0h2.6v2.6h-2.6zM320.4,514.5h2.6v2.6h-2.6zM326.3,513.1h2.6v2.6h-2.6zM330.7,517.5h2.6v2.6h-2.6zM336.5,518.9h2.6v2.6h-2.6zM304.3,524.8h2.6v2.6h-2.6zM311.6,527.7h2.6v2.6h-2.6zM319.0,523.3h2.6v2.6h-2.6zM326.3,521.9h2.6v2.6h-2.6zM332.1,529.2h2.6v2.6h-2.6zM326.3,533.6h2.6v2.6h-2.6zM338.0,536.5h2.6v2.6h-2.6zM343.9,533.6h2.6v2.6h-2.6zM346.8,539.4h2.6v2.6h-2.6zM298.5,539.4h2.6v2.6h-2.6zM305.8,542.4h2.6v2.6h-2.6zM311.6,533.6h2.6v2.6h-2.6zM298.5,527.7h2.6v2.6h-2.6zM455.6,573.3h2.6v2.6h-2.6zM461.8,581.6h2.6v2.6h-2.6zM464.9,584.7h2.6v2.6h-2.6zM448.3,587.8h2.6v2.6h-2.6zM442.1,594.0h2.6v2.6h-2.6zM445.2,590.9h2.6v2.6h-2.6zM450.4,593.0h2.6v2.6h-2.6zM454.5,594.0h2.6v2.6h-2.6zM458.7,592.0h2.6v2.6h-2.6zM460.7,596.1h2.6v2.6h-2.6zM448.3,598.2h2.6v2.6h-2.6zM452.5,598.2h2.6v2.6h-2.6zM456.6,599.2h2.6v2.6h-2.6zM460.7,588.9h2.6v2.6h-2.6zM455.6,605.9h2.6v2.6h-2.6zM460.7,611.1h2.6v2.6h-2.6zM472.1,603.3h2.6v2.6h-2.6zM425.6,610.6h2.6v2.6h-2.6zM428.7,612.6h2.6v2.6h-2.6zM434.4,610.1h2.6v2.6h-2.6zM440.1,610.1h2.6v2.6h-2.6zM445.8,613.2h2.6v2.6h-2.6zM419.4,625.6h2.6v2.6h-2.6zM429.7,623.5h2.6v2.6h-2.6zM434.4,627.6h2.6v2.6h-2.6zM458.2,626.6h2.6v2.6h-2.6zM426.1,636.4h2.6v2.6h-2.6zM442.1,636.9h2.6v2.6h-2.6zM399.7,644.7h2.6v2.6h-2.6zM400.8,650.9h2.6v2.6h-2.6zM415.2,651.9h2.6v2.6h-2.6zM423.5,653.0h2.6v2.6h-2.6zM340.4,541.2h2.6v2.6h-2.6zM347.0,552.8h2.6v2.6h-2.6zM348.6,556.9h2.6v2.6h-2.6zM351.9,560.2h2.6v2.6h-2.6zM354.4,565.2h2.6v2.6h-2.6zM356.1,571.8h2.6v2.6h-2.6zM357.7,575.1h2.6v2.6h-2.6zM359.4,579.2h2.6v2.6h-2.6zM361.0,582.5h2.6v2.6h-2.6zM362.7,585.8h2.6v2.6h-2.6zM364.3,591.6h2.6v2.6h-2.6zM366.8,596.6h2.6v2.6h-2.6zM368.5,599.1h2.6v2.6h-2.6zM372.6,580.9h2.6v2.6h-2.6zM380.9,606.5h2.6v2.6h-2.6zM361.9,610.7h2.6v2.6h-2.6zM371.0,613.1h2.6v2.6h-2.6zM373.4,612.3h2.6v2.6h-2.6zM381.7,614.8h2.6v2.6h-2.6zM362.0,611.3h2.6v2.6h-2.6zM370.2,613.9h2.6v2.6h-2.6zM373.3,613.4h2.6v2.6h-2.6zM381.6,615.9h2.6v2.6h-2.6zM370.8,626.3h2.6v2.6h-2.6zM378.0,637.7h2.6v2.6h-2.6zM383.2,640.8h2.6v2.6h-2.6zM387.3,642.8h2.6v2.6h-2.6zM390.4,642.3h2.6v2.6h-2.6zM392.5,642.8h2.6v2.6h-2.6zM398.7,644.9h2.6v2.6h-2.6zM400.7,651.1h2.6v2.6h-2.6zM382.1,649.0h2.6v2.6h-2.6zM378.0,656.3h2.6v2.6h-2.6zM388.3,654.2h2.6v2.6h-2.6zM391.4,653.2h2.6v2.6h-2.6zM393.5,660.4h2.6v2.6h-2.6zM385.2,659.4h2.6v2.6h-2.6zM384.2,665.1h2.6v2.6h-2.6zM389.4,667.6h2.6v2.6h-2.6zM390.4,670.7h2.6v2.6h-2.6zM404.9,659.4h2.6v2.6h-2.6zM405.9,664.5h2.6v2.6h-2.6zM392.5,677.0h2.6v2.6h-2.6zM394.5,683.2h2.6v2.6h-2.6zM401.8,681.1h2.6v2.6h-2.6zM400.7,689.4h2.6v2.6h-2.6zM398.7,693.5h2.6v2.6h-2.6zM415.2,653.2h2.6v2.6h-2.6zM423.5,656.3h2.6v2.6h-2.6zM415.2,662.5h2.6v2.6h-2.6zM417.3,668.7h2.6v2.6h-2.6zM418.3,670.7h2.6v2.6h-2.6zM419.4,682.1h2.6v2.6h-2.6zM425.6,611.8h2.6v2.6h-2.6zM429.7,613.4h2.6v2.6h-2.6zM433.8,610.8h2.6v2.6h-2.6zM419.4,625.2h2.6v2.6h-2.6zM428.7,623.2h2.6v2.6h-2.6zM433.8,627.8h2.6v2.6h-2.6zM425.6,636.1h2.6v2.6h-2.6zM266.3,532.6h2.6v2.6h-2.6zM277.0,530.7h2.6v2.6h-2.6zM279.0,538.5h2.6v2.6h-2.6zM274.6,544.3h2.6v2.6h-2.6zM259.9,547.3h2.6v2.6h-2.6zM263.3,551.2h2.6v2.6h-2.6zM266.3,554.1h2.6v2.6h-2.6zM271.2,556.0h2.6v2.6h-2.6zM273.1,555.1h2.6v2.6h-2.6zM261.4,569.2h2.6v2.6h-2.6zM289.7,552.1h2.6v2.6h-2.6zM305.3,544.3h2.6v2.6h-2.6zM297.5,542.4h2.6v2.6h-2.6zM291.7,540.4h2.6v2.6h-2.6zM293.6,534.6h2.6v2.6h-2.6zM286.8,533.6h2.6v2.6h-2.6zM307.3,532.6h2.6v2.6h-2.6zM315.1,530.7h2.6v2.6h-2.6zM325.8,531.6h2.6v2.6h-2.6zM325.8,534.6h2.6v2.6h-2.6zM333.7,530.7h2.6v2.6h-2.6zM332.7,546.3h2.6v2.6h-2.6zM337.6,539.4h2.6v2.6h-2.6zM341.5,542.4h2.6v2.6h-2.6zM342.4,535.5h2.6v2.6h-2.6zM346.4,537.5h2.6v2.6h-2.6zM346.4,553.1h2.6v2.6h-2.6zM346.4,559.0h2.6v2.6h-2.6zM284.0,515.6h2.6v2.6h-2.6zM280.1,522.4h2.6v2.6h-2.6zM267.4,523.4h2.6v2.6h-2.6zM266.4,532.2h2.6v2.6h-2.6zM275.2,530.2h2.6v2.6h-2.6zM279.1,537.1h2.6v2.6h-2.6zM274.2,544.9h2.6v2.6h-2.6zM259.6,546.8h2.6v2.6h-2.6zM287.9,531.2h2.6v2.6h-2.6zM290.8,537.1h2.6v2.6h-2.6zM295.7,533.2h2.6v2.6h-2.6zM298.6,529.2h2.6v2.6h-2.6zM293.7,541.0h2.6v2.6h-2.6zM299.6,542.9h2.6v2.6h-2.6zM304.5,543.9h2.6v2.6h-2.6zM306.4,533.2h2.6v2.6h-2.6zM312.3,529.2h2.6v2.6h-2.6zM299.6,517.5h2.6v2.6h-2.6zM304.5,517.5h2.6v2.6h-2.6zM308.4,519.5h2.6v2.6h-2.6zM314.2,517.5h2.6v2.6h-2.6zM320.1,514.6h2.6v2.6h-2.6zM322.1,521.4h2.6v2.6h-2.6zM326.0,517.5h2.6v2.6h-2.6zM329.9,519.5h2.6v2.6h-2.6zM333.8,518.5h2.6v2.6h-2.6zM337.7,521.4h2.6v2.6h-2.6zM326.0,531.2h2.6v2.6h-2.6zM333.8,530.2h2.6v2.6h-2.6zM339.6,535.1h2.6v2.6h-2.6zM343.5,537.1h2.6v2.6h-2.6zM341.6,531.2h2.6v2.6h-2.6zM347.4,523.4h2.6v2.6h-2.6zM351.4,527.3h2.6v2.6h-2.6zM332.8,545.8h2.6v2.6h-2.6zM300.6,521.4h2.6v2.6h-2.6zM317.2,519.5h2.6v2.6h-2.6zM133.4,476.6h2.6v2.6h-2.6zM133.4,488.9h2.6v2.6h-2.6zM134.2,494.2h2.6v2.6h-2.6zM188.7,498.6h2.6v2.6h-2.6zM131.6,517.0h2.6v2.6h-2.6zM141.3,515.3h2.6v2.6h-2.6zM152.7,530.2h2.6v2.6h-2.6zM165.9,523.2h2.6v2.6h-2.6zM177.3,525.8h2.6v2.6h-2.6zM198.4,519.7h2.6v2.6h-2.6zM208.1,497.7h2.6v2.6h-2.6zM211.6,509.1h2.6v2.6h-2.6zM126.3,535.5h2.6v2.6h-2.6zM140.4,535.5h2.6v2.6h-2.6zM144.8,534.6h2.6v2.6h-2.6zM162.4,535.5h2.6v2.6h-2.6zM444.7,591.4h2.6v2.6h-2.6zM450.0,589.7h2.6v2.6h-2.6zM451.8,595.0h2.6v2.6h-2.6zM455.3,596.7h2.6v2.6h-2.6zM448.2,598.5h2.6v2.6h-2.6zM458.8,591.4h2.6v2.6h-2.6zM462.3,584.4h2.6v2.6h-2.6zM460.6,589.7h2.6v2.6h-2.6zM453.5,602.0h2.6v2.6h-2.6zM443.0,595.0h2.6v2.6h-2.6zM446.5,587.9h2.6v2.6h-2.6zM457.0,600.2h2.6v2.6h-2.6zM451.8,591.4h2.6v2.6h-2.6zM178.1,511.9h2.6v2.6h-2.6zM171.5,502.5h2.6v2.6h-2.6zM168.9,509.0h2.6v2.6h-2.6zM167.9,499.2h2.6v2.6h-2.6zM161.9,504.4h2.6v2.6h-2.6zM182.7,507.7h2.6v2.6h-2.6zM162.5,501.6h2.6v2.6h-2.6zM163.3,502.7h2.6v2.6h-2.6zM159.9,515.3h2.6v2.6h-2.6zM165.7,508.0h2.6v2.6h-2.6zM157.7,498.7h2.6v2.6h-2.6zM165.1,517.7h2.6v2.6h-2.6zM171.7,499.7h2.6v2.6h-2.6zM180.4,513.2h2.6v2.6h-2.6zM174.1,515.6h2.6v2.6h-2.6zM175.2,513.1h2.6v2.6h-2.6zM174.9,511.4h2.6v2.6h-2.6zM163.2,507.4h2.6v2.6h-2.6zM164.3,516.0h2.6v2.6h-2.6zM164.7,514.0h2.6v2.6h-2.6zM158.9,515.1h2.6v2.6h-2.6zM180.7,505.8h2.6v2.6h-2.6zM167.4,515.9h2.6v2.6h-2.6zM173.7,506.4h2.6v2.6h-2.6zM153.6,502.8h2.6v2.6h-2.6zM172.7,499.4h2.6v2.6h-2.6zM181.0,501.6h2.6v2.6h-2.6zM181.2,502.5h2.6v2.6h-2.6zM164.9,507.1h2.6v2.6h-2.6zM170.8,508.6h2.6v2.6h-2.6zM157.2,500.3h2.6v2.6h-2.6zM165.2,516.3h2.6v2.6h-2.6zM169.6,497.4h2.6v2.6h-2.6zM177.5,511.7h2.6v2.6h-2.6zM170.8,501.7h2.6v2.6h-2.6zM153.8,515.0h2.6v2.6h-2.6zM149.0,507.2h2.6v2.6h-2.6zM178.9,501.1h2.6v2.6h-2.6zM153.1,515.1h2.6v2.6h-2.6zM161.6,511.5h2.6v2.6h-2.6zM186.3,522.2h2.6v2.6h-2.6zM178.3,514.4h2.6v2.6h-2.6zM177.9,521.3h2.6v2.6h-2.6zM175.4,521.5h2.6v2.6h-2.6zM172.8,521.9h2.6v2.6h-2.6zM184.7,516.5h2.6v2.6h-2.6zM179.7,520.2h2.6v2.6h-2.6zM170.7,518.5h2.6v2.6h-2.6zM186.6,514.4h2.6v2.6h-2.6zM186.6,520.3h2.6v2.6h-2.6zM187.7,515.4h2.6v2.6h-2.6zM186.6,516.9h2.6v2.6h-2.6zM303.0,513.6h2.6v2.6h-2.6zM311.3,514.5h2.6v2.6h-2.6zM294.2,518.9h2.6v2.6h-2.6zM330.5,515.7h2.6v2.6h-2.6zM318.6,516.7h2.6v2.6h-2.6zM333.8,526.2h2.6v2.6h-2.6zM332.3,515.2h2.6v2.6h-2.6zM306.8,523.0h2.6v2.6h-2.6zM328.8,527.1h2.6v2.6h-2.6zM322.2,523.8h2.6v2.6h-2.6zM317.0,514.9h2.6v2.6h-2.6zM315.3,513.3h2.6v2.6h-2.6zM319.2,517.1h2.6v2.6h-2.6zM338.0,522.0h2.6v2.6h-2.6zM317.1,519.2h2.6v2.6h-2.6zM321.8,519.5h2.6v2.6h-2.6zM299.1,517.2h2.6v2.6h-2.6zM293.1,523.0h2.6v2.6h-2.6zM305.3,521.3h2.6v2.6h-2.6zM315.2,517.9h2.6v2.6h-2.6zM312.2,515.3h2.6v2.6h-2.6zM323.6,516.7h2.6v2.6h-2.6zM309.2,525.1h2.6v2.6h-2.6zM307.4,521.8h2.6v2.6h-2.6zM330.5,522.8h2.6v2.6h-2.6zM303.0,517.7h2.6v2.6h-2.6zM299.9,520.0h2.6v2.6h-2.6zM292.9,524.3h2.6v2.6h-2.6zM312.0,528.7h2.6v2.6h-2.6zM323.0,526.4h2.6v2.6h-2.6zM355.4,573.1h2.6v2.6h-2.6zM366.2,595.1h2.6v2.6h-2.6zM356.5,575.8h2.6v2.6h-2.6zM349.7,560.4h2.6v2.6h-2.6zM358.2,581.9h2.6v2.6h-2.6zM348.7,555.7h2.6v2.6h-2.6zM346.3,556.6h2.6v2.6h-2.6zM363.0,583.3h2.6v2.6h-2.6zM365.2,598.8h2.6v2.6h-2.6zM359.6,582.7h2.6v2.6h-2.6zM351.4,558.1h2.6v2.6h-2.6zM359.3,575.6h2.6v2.6h-2.6zM351.1,560.1h2.6v2.6h-2.6zM346.5,553.0h2.6v2.6h-2.6z" fill="#000"/></g><g clip-path="url(#c4)"><circle cx="622.3" cy="482.9" r="1.3" fill="#000"/>
<circle cx="631.6" cy="479.8" r="1.3" fill="#000"/>
<circle cx="639.4" cy="483.4" r="1.3" fill="#000"/>
<circle cx="642.0" cy="485.5" r="1.3" fill="#000"/>
<circle cx="645.6" cy="486.5" r="1.3" fill="#000"/>
<circle cx="649.2" cy="488.6" r="1.3" fill="#000"/>
<circle cx="650.2" cy="477.7" r="1.3" fill="#000"/>
<circle cx="656.4" cy="483.9" r="1.3" fill="#000"/>
<circle cx="660.6" cy="476.7" r="1.3" fill="#000"/>
<circle cx="662.6" cy="477.7" r="1.3" fill="#000"/>
<circle cx="661.1" cy="486.5" r="1.3" fill="#000"/>
<circle cx="671.9" cy="474.1" r="1.3" fill="#000"/>
<circle cx="635.8" cy="487.6" r="1.3" fill="#000"/>
<circle cx="633.7" cy="495.3" r="1.3" fill="#000"/>
<circle cx="658.0" cy="492.7" r="1.3" fill="#000"/>
<circle cx="626.5" cy="498.4" r="1.3" fill="#000"/>
<circle cx="646.1" cy="495.3" r="1.3" fill="#000"/>
<circle cx="651.3" cy="493.8" r="1.3" fill="#000"/>
<circle cx="653.3" cy="494.3" r="1.3" fill="#000"/>
<circle cx="647.7" cy="496.3" r="1.3" fill="#000"/>
<circle cx="647.1" cy="494.8" r="1.3" fill="#000"/>
<circle cx="649.7" cy="495.8" r="1.3" fill="#000"/>
<circle cx="652.3" cy="493.2" r="1.3" fill="#000"/>
<circle cx="648.7" cy="497.4" r="1.3" fill="#000"/>
<circle cx="714.0" cy="458.3" r="1.3" fill="#000"/>
<circle cx="700.3" cy="478.5" r="1.3" fill="#000"/>
<circle cx="699.1" cy="487.7" r="1.3" fill="#000"/>
<circle cx="705.7" cy="484.8" r="1.3" fill="#000"/>
<circle cx="709.5" cy="487.3" r="1.3" fill="#000"/>
<circle cx="701.3" cy="496.7" r="1.3" fill="#000"/>
<circle cx="740.0" cy="466.9" r="1.3" fill="#000"/>
<circle cx="744.6" cy="479.0" r="1.3" fill="#000"/>
<circle cx="733.9" cy="487.7" r="1.3" fill="#000"/>
<circle cx="742.2" cy="484.4" r="1.3" fill="#000"/>
<circle cx="747.1" cy="487.3" r="1.3" fill="#000"/>
<circle cx="740.5" cy="485.6" r="1.3" fill="#000"/>
<circle cx="754.6" cy="482.3" r="1.3" fill="#000"/>
<circle cx="751.3" cy="493.0" r="1.3" fill="#000"/>
<circle cx="756.2" cy="493.9" r="1.3" fill="#000"/>
<circle cx="758.7" cy="487.7" r="1.3" fill="#000"/>
<circle cx="762.8" cy="488.4" r="1.3" fill="#000"/>
<circle cx="769.5" cy="482.3" r="1.3" fill="#000"/>
<circle cx="772.8" cy="483.1" r="1.3" fill="#000"/>
<circle cx="779.4" cy="479.0" r="1.3" fill="#000"/>
<circle cx="786.9" cy="480.6" r="1.3" fill="#000"/>
<circle cx="784.4" cy="486.4" r="1.3" fill="#000"/>
<circle cx="787.7" cy="489.7" r="1.3" fill="#000"/>
<circle cx="767.8" cy="489.7" r="1.3" fill="#000"/>
<circle cx="776.1" cy="491.4" r="1.3" fill="#000"/>
<circle cx="782.7" cy="494.7" r="1.3" fill="#000"/>
<circle cx="789.3" cy="494.7" r="1.3" fill="#000"/>
<circle cx="779.1" cy="478.8" r="1.3" fill="#000"/>
<circle cx="786.9" cy="480.3" r="1.3" fill="#000"/>
<circle cx="795.2" cy="484.0" r="1.3" fill="#000"/>
<circle cx="807.6" cy="485.0" r="1.3" fill="#000"/>
<circle cx="771.4" cy="481.9" r="1.3" fill="#000"/>
<circle cx="774.5" cy="482.4" r="1.3" fill="#000"/>
<circle cx="763.6" cy="488.6" r="1.3" fill="#000"/>
<circle cx="768.3" cy="486.5" r="1.3" fill="#000"/>
<circle cx="772.4" cy="487.6" r="1.3" fill="#000"/>
<circle cx="775.5" cy="489.6" r="1.3" fill="#000"/>
<circle cx="783.8" cy="486.5" r="1.3" fill="#000"/>
<circle cx="783.8" cy="490.7" r="1.3" fill="#000"/>
<circle cx="787.9" cy="491.7" r="1.3" fill="#000"/>
<circle cx="793.1" cy="489.6" r="1.3" fill="#000"/>
<circle cx="794.1" cy="492.8" r="1.3" fill="#000"/>
<circle cx="801.4" cy="489.1" r="1.3" fill="#000"/>
<circle cx="805.5" cy="489.6" r="1.3" fill="#000"/>
<circle cx="811.7" cy="488.6" r="1.3" fill="#000"/>
<circle cx="798.3" cy="494.8" r="1.3" fill="#000"/>
<circle cx="801.4" cy="494.8" r="1.3" fill="#000"/>
<circle cx="803.4" cy="495.9" r="1.3" fill="#000"/>
<circle cx="808.6" cy="495.9" r="1.3" fill="#000"/>
<circle cx="811.7" cy="495.3" r="1.3" fill="#000"/>
<circle cx="814.8" cy="492.2" r="1.3" fill="#000"/>
<circle cx="816.9" cy="493.8" r="1.3" fill="#000"/>
<circle cx="820.0" cy="492.8" r="1.3" fill="#000"/>
<circle cx="822.0" cy="493.8" r="1.3" fill="#000"/>
<circle cx="825.1" cy="492.2" r="1.3" fill="#000"/>
<circle cx="817.9" cy="500.0" r="1.3" fill="#000"/>
<circle cx="820.0" cy="501.0" r="1.3" fill="#000"/>
<circle cx="827.2" cy="500.0" r="1.3" fill="#000"/>
<circle cx="828.3" cy="502.1" r="1.3" fill="#000"/>
<circle cx="832.4" cy="490.2" r="1.3" fill="#000"/>
<circle cx="832.4" cy="494.3" r="1.3" fill="#000"/>
<circle cx="833.4" cy="496.9" r="1.3" fill="#000"/>
<circle cx="834.5" cy="500.0" r="1.3" fill="#000"/>
<circle cx="836.5" cy="501.0" r="1.3" fill="#000"/>
<circle cx="840.7" cy="503.1" r="1.3" fill="#000"/>
<circle cx="832.4" cy="504.1" r="1.3" fill="#000"/>
<circle cx="835.5" cy="505.2" r="1.3" fill="#000"/>
<circle cx="836.5" cy="508.8" r="1.3" fill="#000"/>
<circle cx="842.7" cy="507.7" r="1.3" fill="#000"/>
<circle cx="845.8" cy="488.6" r="1.3" fill="#000"/>
<circle cx="852.0" cy="509.8" r="1.3" fill="#000"/>
<circle cx="852.6" cy="512.4" r="1.3" fill="#000"/>
<circle cx="857.2" cy="516.0" r="1.3" fill="#000"/>
<circle cx="856.2" cy="519.6" r="1.3" fill="#000"/>
<circle cx="842.7" cy="519.1" r="1.3" fill="#000"/>
<circle cx="838.6" cy="523.8" r="1.3" fill="#000"/>
<circle cx="854.1" cy="528.9" r="1.3" fill="#000"/>
<circle cx="840.7" cy="535.7" r="1.3" fill="#000"/>
<circle cx="785.9" cy="496.9" r="1.3" fill="#000"/>
<circle cx="778.6" cy="493.8" r="1.3" fill="#000"/>
<circle cx="906.8" cy="499.6" r="1.3" fill="#000"/>
<circle cx="911.4" cy="500.5" r="1.3" fill="#000"/>
<circle cx="919.8" cy="497.1" r="1.3" fill="#000"/>
<circle cx="921.7" cy="497.1" r="1.3" fill="#000"/>
<circle cx="917.0" cy="504.2" r="1.3" fill="#000"/>
<circle cx="917.9" cy="508.9" r="1.3" fill="#000"/>
<circle cx="925.4" cy="502.3" r="1.3" fill="#000"/>
<circle cx="929.1" cy="506.1" r="1.3" fill="#000"/>
<circle cx="930.0" cy="507.9" r="1.3" fill="#000"/>
<circle cx="926.3" cy="509.4" r="1.3" fill="#000"/>
<circle cx="934.7" cy="510.7" r="1.3" fill="#000"/>
<circle cx="915.1" cy="518.2" r="1.3" fill="#000"/>
<circle cx="926.3" cy="517.2" r="1.3" fill="#000"/>
<circle cx="893.4" cy="515.0" r="1.3" fill="#000"/>
<circle cx="964.5" cy="525.1" r="1.3" fill="#000"/>
<circle cx="845.5" cy="488.3" r="1.3" fill="#000"/>
<circle cx="872.1" cy="489.9" r="1.3" fill="#000"/>
<circle cx="869.7" cy="493.8" r="1.3" fill="#000"/>
<circle cx="840.9" cy="503.3" r="1.3" fill="#000"/>
<circle cx="843.2" cy="507.9" r="1.3" fill="#000"/>
<circle cx="852.1" cy="509.5" r="1.3" fill="#000"/>
<circle cx="853.0" cy="511.3" r="1.3" fill="#000"/>
<circle cx="852.4" cy="513.8" r="1.3" fill="#000"/>
<circle cx="858.0" cy="516.0" r="1.3" fill="#000"/>
<circle cx="858.0" cy="517.5" r="1.3" fill="#000"/>
<circle cx="856.1" cy="520.0" r="1.3" fill="#000"/>
<circle cx="863.0" cy="520.3" r="1.3" fill="#000"/>
<circle cx="863.9" cy="521.9" r="1.3" fill="#000"/>
<circle cx="842.5" cy="519.1" r="1.3" fill="#000"/>
<circle cx="866.4" cy="507.1" r="1.3" fill="#000"/>
<circle cx="864.8" cy="515.9" r="1.3" fill="#000"/>
<circle cx="867.6" cy="517.5" r="1.3" fill="#000"/>
<circle cx="871.6" cy="521.7" r="1.3" fill="#000"/>
<circle cx="877.5" cy="511.3" r="1.3" fill="#000"/>
<circle cx="882.5" cy="514.1" r="1.3" fill="#000"/>
<circle cx="893.3" cy="515.0" r="1.3" fill="#000"/>
<circle cx="889.3" cy="524.7" r="1.3" fill="#000"/>
<circle cx="885.2" cy="531.4" r="1.3" fill="#000"/>
<circle cx="854.1" cy="528.9" r="1.3" fill="#000"/>
<circle cx="840.5" cy="535.8" r="1.3" fill="#000"/>
<path d="M621.9,493.3L628.0,499.4M621.9,499.4L628.0,493.3M618.8,501.0L624.9,507.1M618.8,507.1L624.9,501.0M630.7,503.1L636.8,509.2M630.7,509.2L636.8,503.1M668.9,476.8L675.0,482.9M668.9,482.9L675.0,476.8M642.0,498.5L648.1,504.6M642.0,504.6L648.1,498.5M653.4,499.0L659.5,505.1M653.4,505.1L659.5,499.0M644.1,501.6L650.2,507.7M644.1,507.7L650.2,501.6M648.2,503.6L654.3,509.7M648.2,509.7L654.3,503.6M657.5,509.8L663.6,515.9M657.5,515.9L663.6,509.8M654.4,512.9L660.5,519.0M654.4,519.0L660.5,512.9M659.6,519.1L665.7,525.2M659.6,525.2L665.7,519.1M632.7,520.2L638.8,526.3M632.7,526.3L638.8,520.2M624.5,512.9L630.6,519.0M624.5,519.0L630.6,512.9M642.0,510.9L648.1,517.0M642.0,517.0L648.1,510.9M646.2,509.8L652.3,515.9M646.2,515.9L652.3,509.8M640.0,505.7L646.1,511.8M640.0,511.8L646.1,505.7M650.3,506.7L656.4,512.8M650.3,512.8L656.4,506.7M646.2,516.0L652.3,522.1M646.2,522.1L652.3,516.0M640.0,514.0L646.1,520.1M640.0,520.1L646.1,514.0M626.5,509.8L632.6,515.9M626.5,515.9L632.6,509.8M643.1,495.4L649.2,501.5M643.1,501.5L649.2,495.4M646.2,497.4L652.3,503.5M646.2,503.5L652.3,497.4M648.2,494.3L654.3,500.4M648.2,500.4L654.3,494.3M644.1,506.7L650.2,512.8M644.1,512.8L650.2,506.7M650.3,514.0L656.4,520.1M650.3,520.1L656.4,514.0M656.5,505.7L662.6,511.8M656.5,511.8L662.6,505.7M710.6,472.6L716.7,478.7M710.6,478.7L716.7,472.6M703.0,496.6L709.1,502.7M703.0,502.7L709.1,496.6M697.2,504.1L703.3,510.2M697.2,510.2L703.3,504.1M696.1,510.7L702.2,516.8M696.1,516.8L702.2,510.7M706.0,506.6L712.1,512.7M706.0,512.7L712.1,506.6M698.2,558.7L704.3,564.8M698.2,564.8L704.3,558.7M736.3,487.5L742.4,493.6M736.3,493.6L742.4,487.5M740.8,495.0L746.9,501.1M740.8,501.1L746.9,495.0M736.6,501.6L742.7,507.7M736.6,507.7L742.7,501.6M735.0,499.9L741.1,506.0M735.0,506.0L741.1,499.9M748.2,496.6L754.3,502.7M748.2,502.7L754.3,496.6M753.2,501.6L759.3,507.7M753.2,507.7L759.3,501.6M754.8,504.1L760.9,510.2M754.8,510.2L760.9,504.1M759.8,495.0L765.9,501.1M759.8,501.1L765.9,495.0M766.4,493.3L772.5,499.4M766.4,499.4L772.5,493.3M769.7,498.3L775.8,504.4M769.7,504.4L775.8,498.3M773.0,501.6L779.1,507.7M773.0,507.7L779.1,501.6M769.7,504.9L775.8,511.0M769.7,511.0L775.8,504.9M776.4,496.6L782.5,502.7M776.4,502.7L782.5,496.6M779.7,503.2L785.8,509.3M779.7,509.3L785.8,503.2M784.6,499.9L790.7,506.0M784.6,506.0L790.7,499.9M783.0,508.2L789.1,514.3M783.0,514.3L789.1,508.2M743.2,513.2L749.3,519.3M743.2,519.3L749.3,513.2M736.6,521.5L742.7,527.6M736.6,527.6L742.7,521.5M730.0,516.5L736.1,522.6M730.0,522.6L736.1,516.5M761.5,515.7L767.6,521.8M761.5,521.8L767.6,515.7M768.1,496.6L774.2,502.7M768.1,502.7L774.2,496.6M773.0,493.3L779.1,499.4M773.0,499.4L779.1,493.3M778.0,506.6L784.1,512.7M778.0,512.7L784.1,506.6M785.5,513.2L791.6,519.3M785.5,519.3L791.6,513.2M759.0,493.8L765.1,499.9M759.0,499.9L765.1,493.8M761.1,515.6L767.2,521.7M761.1,521.7L767.2,515.6M764.2,490.7L770.3,496.8M764.2,496.8L770.3,490.7M767.3,493.8L773.4,499.9M767.3,499.9L773.4,493.8M766.3,500.0L772.4,506.1M766.3,506.1L772.4,500.0M769.4,496.9L775.5,503.0M769.4,503.0L775.5,496.9M772.5,500.0L778.6,506.1M772.5,506.1L778.6,500.0M774.5,504.2L780.6,510.3M774.5,510.3L780.6,504.2M768.3,506.2L774.4,512.3M768.3,512.3L774.4,506.2M777.6,495.9L783.7,502.0M777.6,502.0L783.7,495.9M780.7,499.0L786.8,505.1M780.7,505.1L786.8,499.0M782.8,502.1L788.9,508.2M782.8,508.2L788.9,502.1M784.9,506.2L791.0,512.3M784.9,512.3L791.0,506.2M786.9,510.4L793.0,516.5M786.9,516.5L793.0,510.4M788.0,498.0L794.1,504.1M788.0,504.1L794.1,498.0M791.1,501.1L797.2,507.2M791.1,507.2L797.2,501.1M794.2,504.2L800.3,510.3M794.2,510.3L800.3,504.2M792.1,508.3L798.2,514.4M792.1,514.4L798.2,508.3M796.2,511.4L802.3,517.5M796.2,517.5L802.3,511.4M798.3,515.6L804.4,521.7M798.3,521.7L804.4,515.6M800.4,508.3L806.5,514.4M800.4,514.4L806.5,508.3M803.5,502.1L809.6,508.2M803.5,508.2L809.6,502.1M805.6,506.2L811.7,512.3M805.6,512.3L811.7,506.2M808.7,510.4L814.8,516.5M808.7,516.5L814.8,510.4M810.7,513.5L816.8,519.6M810.7,519.6L816.8,513.5M812.8,510.4L818.9,516.5M812.8,516.5L818.9,510.4M814.9,514.5L821.0,520.6M814.9,520.6L821.0,514.5M818.0,517.6L824.1,523.7M818.0,523.7L824.1,517.6M821.1,520.7L827.2,526.8M821.1,526.8L827.2,520.7M802.5,519.7L808.6,525.8M802.5,525.8L808.6,519.7M804.5,523.8L810.6,529.9M804.5,529.9L810.6,523.8M807.6,518.7L813.7,524.8M807.6,524.8L813.7,518.7M810.7,522.8L816.8,528.9M810.7,528.9L816.8,522.8M819.0,529.0L825.1,535.1M819.0,535.1L825.1,529.0M821.1,533.1L827.2,539.2M821.1,539.2L827.2,533.1M824.2,531.1L830.3,537.2M824.2,537.2L830.3,531.1M827.3,537.3L833.4,543.4M827.3,543.4L833.4,537.3M829.3,539.3L835.4,545.4M829.3,545.4L835.4,539.3M829.3,545.5L835.4,551.6M829.3,551.6L835.4,545.5M831.4,543.5L837.5,549.6M831.4,549.6L837.5,543.5M832.4,549.7L838.5,555.8M832.4,555.8L838.5,549.7M834.5,551.7L840.6,557.8M834.5,557.8L840.6,551.7M837.6,558.0L843.7,564.1M837.6,564.1L843.7,558.0M839.7,561.1L845.8,567.2M839.7,567.2L845.8,561.1M842.8,562.1L848.9,568.2M842.8,568.2L848.9,562.1M823.1,548.6L829.2,554.7M823.1,554.7L829.2,548.6M827.3,545.5L833.4,551.6M827.3,551.6L833.4,545.5M814.9,526.9L821.0,533.0M814.9,533.0L821.0,526.9M771.4,510.4L777.5,516.5M771.4,516.5L777.5,510.4M777.6,510.4L783.7,516.5M777.6,516.5L783.7,510.4M835.9,561.3L842.0,567.4M835.9,567.4L842.0,561.3M841.7,563.5L847.8,569.6M841.7,569.6L847.8,563.5M835.9,577.2L842.0,583.3M835.9,583.3L842.0,577.2M851.1,577.2L857.2,583.3M851.1,583.3L857.2,577.2M849.6,585.9L855.7,592.0M849.6,592.0L855.7,585.9M847.5,588.8L853.6,594.9M847.5,594.9L853.6,588.8M838.8,591.7L844.9,597.8M838.8,597.8L844.9,591.7M848.9,597.5L855.0,603.6M848.9,603.6L855.0,597.5M853.3,594.6L859.4,600.7M853.3,600.7L859.4,594.6M856.2,596.0L862.3,602.1M856.2,602.1L862.3,596.0M861.9,596.0L868.0,602.1M861.9,602.1L868.0,596.0M864.8,596.7L870.9,602.8M864.8,602.8L870.9,596.7M863.4,585.9L869.5,592.0M863.4,592.0L869.5,585.9M867.7,587.3L873.8,593.4M867.7,593.4L873.8,587.3M869.2,588.8L875.3,594.9M869.2,594.9L875.3,588.8M874.2,578.7L880.3,584.8M874.2,584.8L880.3,578.7M879.3,585.9L885.4,592.0M879.3,592.0L885.4,585.9M882.2,596.7L888.3,602.8M882.2,602.8L888.3,596.7M890.2,597.5L896.3,603.6M890.2,603.6L896.3,597.5M859.8,606.2L865.9,612.3M859.8,612.3L865.9,606.2M885.8,635.8L891.9,641.9M885.8,641.9L891.9,635.8M903.2,578.7L909.3,584.8M903.2,584.8L909.3,578.7M903.2,598.2L909.3,604.3M903.2,604.3L909.3,598.2M961.4,527.2L967.5,533.3M961.4,533.3L967.5,527.2M918.6,542.1L924.7,548.2M918.6,548.2L924.7,542.1M926.1,542.1L932.2,548.2M926.1,548.2L932.2,542.1M927.0,547.3L933.1,553.4M927.0,553.4L933.1,547.3M927.0,554.2L933.1,560.3M927.0,560.3L933.1,554.2M931.6,559.8L937.7,565.9M931.6,565.9L937.7,559.8M914.9,561.7L921.0,567.8M914.9,567.8L921.0,561.7M921.4,559.8L927.5,565.9M921.4,565.9L927.5,559.8M924.2,563.5L930.3,569.6M924.2,569.6L930.3,563.5M915.8,570.1L921.9,576.2M915.8,576.2L921.9,570.1M912.1,575.6L918.2,581.7M912.1,581.7L918.2,575.6M914.0,578.4L920.1,584.5M914.0,584.5L920.1,578.4M903.7,578.4L909.8,584.5M903.7,584.5L909.8,578.4M890.7,597.1L896.8,603.2M890.7,603.2L896.8,597.1M902.8,598.0L908.9,604.1M902.8,604.1L908.9,598.0M908.4,601.7L914.5,607.8M908.4,607.8L914.5,601.7" fill="none" stroke="#000" stroke-width="1"/>
<path d="M668.4,484.5h7.1v7.1h-7.1zM617.8,514.5h7.1v7.1h-7.1zM621.9,514.5h7.1v7.1h-7.1zM629.6,505.7h7.1v7.1h-7.1zM632.2,507.8h7.1v7.1h-7.1zM623.4,526.4h7.1v7.1h-7.1zM635.3,530.5h7.1v7.1h-7.1zM642.6,531.6h7.1v7.1h-7.1zM649.8,533.6h7.1v7.1h-7.1zM657.0,532.1h7.1v7.1h-7.1zM647.7,541.9h7.1v7.1h-7.1zM655.0,539.8h7.1v7.1h-7.1zM659.1,526.4h7.1v7.1h-7.1zM637.9,523.3h7.1v7.1h-7.1zM642.6,519.7h7.1v7.1h-7.1zM644.6,517.6h7.1v7.1h-7.1zM652.9,503.1h7.1v7.1h-7.1zM643.6,523.8h7.1v7.1h-7.1zM649.8,527.9h7.1v7.1h-7.1zM639.5,516.6h7.1v7.1h-7.1zM633.3,513.5h7.1v7.1h-7.1zM627.1,513.5h7.1v7.1h-7.1zM639.5,517.6h7.1v7.1h-7.1zM647.7,521.7h7.1v7.1h-7.1zM651.9,514.5h7.1v7.1h-7.1zM710.1,481.2h7.1v7.1h-7.1zM702.5,526.7h7.1v7.1h-7.1zM695.6,534.2h7.1v7.1h-7.1zM705.5,535.9h7.1v7.1h-7.1zM696.7,543.8h7.1v7.1h-7.1zM697.7,597.4h7.1v7.1h-7.1zM736.1,511.8h7.1v7.1h-7.1zM736.1,532.5h7.1v7.1h-7.1zM739.4,535.9h7.1v7.1h-7.1zM744.4,534.2h7.1v7.1h-7.1zM747.7,535.9h7.1v7.1h-7.1zM751.0,529.2h7.1v7.1h-7.1zM756.0,529.2h7.1v7.1h-7.1zM764.3,529.2h7.1v7.1h-7.1zM769.2,532.5h7.1v7.1h-7.1zM736.1,549.9h7.1v7.1h-7.1zM729.5,550.8h7.1v7.1h-7.1zM742.7,542.5h7.1v7.1h-7.1zM761.0,544.1h7.1v7.1h-7.1zM765.9,539.2h7.1v7.1h-7.1zM772.5,539.2h7.1v7.1h-7.1zM775.9,541.6h7.1v7.1h-7.1zM779.2,545.8h7.1v7.1h-7.1zM784.1,545.8h7.1v7.1h-7.1zM782.5,535.9h7.1v7.1h-7.1zM770.9,517.6h7.1v7.1h-7.1zM767.6,517.6h7.1v7.1h-7.1zM779.2,517.6h7.1v7.1h-7.1zM767.6,524.3h7.1v7.1h-7.1zM774.2,527.6h7.1v7.1h-7.1zM764.7,488.2h7.1v7.1h-7.1zM767.8,517.1h7.1v7.1h-7.1zM773.0,517.1h7.1v7.1h-7.1zM781.3,518.2h7.1v7.1h-7.1zM769.9,528.5h7.1v7.1h-7.1zM764.7,528.5h7.1v7.1h-7.1zM758.5,529.5h7.1v7.1h-7.1zM773.0,532.6h7.1v7.1h-7.1zM778.2,527.5h7.1v7.1h-7.1zM784.4,527.5h7.1v7.1h-7.1zM789.5,525.4h7.1v7.1h-7.1zM793.7,526.4h7.1v7.1h-7.1zM782.3,534.7h7.1v7.1h-7.1zM787.5,534.7h7.1v7.1h-7.1zM775.1,538.8h7.1v7.1h-7.1zM760.6,544.0h7.1v7.1h-7.1zM765.8,538.8h7.1v7.1h-7.1zM776.1,543.0h7.1v7.1h-7.1zM783.3,546.1h7.1v7.1h-7.1zM795.7,543.0h7.1v7.1h-7.1zM799.9,545.0h7.1v7.1h-7.1zM802.0,551.2h7.1v7.1h-7.1zM805.1,549.2h7.1v7.1h-7.1zM810.2,547.1h7.1v7.1h-7.1zM814.4,545.0h7.1v7.1h-7.1zM818.5,545.0h7.1v7.1h-7.1zM809.2,536.8h7.1v7.1h-7.1zM806.1,540.9h7.1v7.1h-7.1zM813.3,538.8h7.1v7.1h-7.1zM800.9,536.8h7.1v7.1h-7.1zM808.2,553.3h7.1v7.1h-7.1zM812.3,556.4h7.1v7.1h-7.1zM816.4,551.2h7.1v7.1h-7.1zM820.6,556.4h7.1v7.1h-7.1zM816.4,561.6h7.1v7.1h-7.1zM818.5,564.7h7.1v7.1h-7.1zM770.9,523.3h7.1v7.1h-7.1zM762.7,533.7h7.1v7.1h-7.1zM810.8,557.2h7.1v7.1h-7.1zM820.9,557.2h7.1v7.1h-7.1zM816.6,560.8h7.1v7.1h-7.1zM818.0,566.6h7.1v7.1h-7.1zM822.4,569.5h7.1v7.1h-7.1zM823.8,581.1h7.1v7.1h-7.1zM828.2,582.5h7.1v7.1h-7.1zM825.3,585.4h7.1v7.1h-7.1zM828.2,591.2h7.1v7.1h-7.1zM832.5,598.4h7.1v7.1h-7.1zM832.5,601.3h7.1v7.1h-7.1zM831.1,611.4h7.1v7.1h-7.1zM841.2,608.5h7.1v7.1h-7.1zM836.8,614.3h7.1v7.1h-7.1zM839.0,621.6h7.1v7.1h-7.1zM835.4,631.7h7.1v7.1h-7.1zM849.9,631.7h7.1v7.1h-7.1zM836.8,641.8h7.1v7.1h-7.1zM838.3,644.0h7.1v7.1h-7.1zM848.4,643.3h7.1v7.1h-7.1zM849.1,644.0h7.1v7.1h-7.1zM852.0,654.9h7.1v7.1h-7.1zM848.4,670.1h7.1v7.1h-7.1zM854.2,666.4h7.1v7.1h-7.1zM853.5,674.4h7.1v7.1h-7.1zM859.3,676.6h7.1v7.1h-7.1zM860.0,672.2h7.1v7.1h-7.1zM861.4,662.1h7.1v7.1h-7.1zM864.3,660.6h7.1v7.1h-7.1zM868.7,656.3h7.1v7.1h-7.1zM867.2,659.2h7.1v7.1h-7.1zM874.5,651.2h7.1v7.1h-7.1zM878.8,646.9h7.1v7.1h-7.1zM881.0,654.1h7.1v7.1h-7.1zM889.7,640.4h7.1v7.1h-7.1zM885.3,693.9h7.1v7.1h-7.1zM902.7,610.7h7.1v7.1h-7.1zM902.7,638.2h7.1v7.1h-7.1zM906.3,643.3h7.1v7.1h-7.1zM925.6,580.4h7.1v7.1h-7.1zM925.6,590.0h7.1v7.1h-7.1zM960.9,584.1h7.1v7.1h-7.1zM916.2,600.3h7.1v7.1h-7.1zM926.5,599.4h7.1v7.1h-7.1zM931.1,604.9h7.1v7.1h-7.1zM921.8,604.9h7.1v7.1h-7.1zM922.8,609.6h7.1v7.1h-7.1zM903.2,610.2h7.1v7.1h-7.1zM912.5,610.5h7.1v7.1h-7.1zM914.4,615.2h7.1v7.1h-7.1zM911.6,624.5h7.1v7.1h-7.1zM903.2,637.5h7.1v7.1h-7.1zM907.9,643.1h7.1v7.1h-7.1zM889.2,640.3h7.1v7.1h-7.1z" fill="none" stroke="#000" stroke-width="1"/></g><rect x="107.50" y="844.20" width="435.90" height="109.50" fill="none" stroke="#4a4a4a" stroke-width="1.3"/><path d="M141.60,864.80H150.40M146.00,860.40V869.20" stroke="#111" stroke-width="1.0" fill="none"/><text x="179.00" y="874.10" font-size="26" font-family="'Liberation Serif', serif" fill="#231414" text-anchor="start" >01&#8722;Feb&#8722;2007 to 08&#8722;Nov&#8722;2007</text><circle cx="146.00" cy="898.90" r="4.2" stroke="#111" stroke-width="1.0" fill="none"/><text x="179.00" y="908.20" font-size="26" font-family="'Liberation Serif', serif" fill="#231414" text-anchor="start" >01&#8722;Feb&#8722;2007 to 23&#8722;Oct&#8722;2008</text><path d="M141.80,933.40H150.20M146.00,929.20V937.60M143.03,930.43L148.97,936.37M143.03,936.37L148.97,930.43" stroke="#111" stroke-width="1.0" fill="none"/><text x="179.00" y="942.70" font-size="26" font-family="'Liberation Serif', serif" fill="#231414" text-anchor="start" >01&#8722;Feb&#8722;2007 to 17&#8722;Dec&#8722;2009</text><rect x="582.90" y="844.50" width="427.90" height="108.90" fill="none" stroke="#4a4a4a" stroke-width="1.3"/><circle cx="621.30" cy="865.00" r="1.4" fill="#111"/><text x="656.50" y="874.30" font-size="26" font-family="'Liberation Serif', serif" fill="#231414" text-anchor="start" >16&#8722;Jan&#8722;2007 to 05&#8722;Jun&#8722;2007</text><path d="M618.00,896.00L624.60,902.60M618.00,902.60L624.60,896.00" stroke="#111" stroke-width="1.0" fill="none"/><text x="656.50" y="908.60" font-size="26" font-family="'Liberation Serif', serif" fill="#231414" text-anchor="start" >16&#8722;Jan&#8722;2007 to 07&#8722;Oct&#8722;2008</text><rect x="617.50" y="929.70" width="7.60" height="7.60" stroke="#111" stroke-width="1.0" fill="none"/><text x="656.50" y="942.80" font-size="26" font-family="'Liberation Serif', serif" fill="#231414" text-anchor="start" >16&#8722;Jan&#8722;2007 to 27&#8722;Oct&#8722;2009</text></svg>
</body></html>
